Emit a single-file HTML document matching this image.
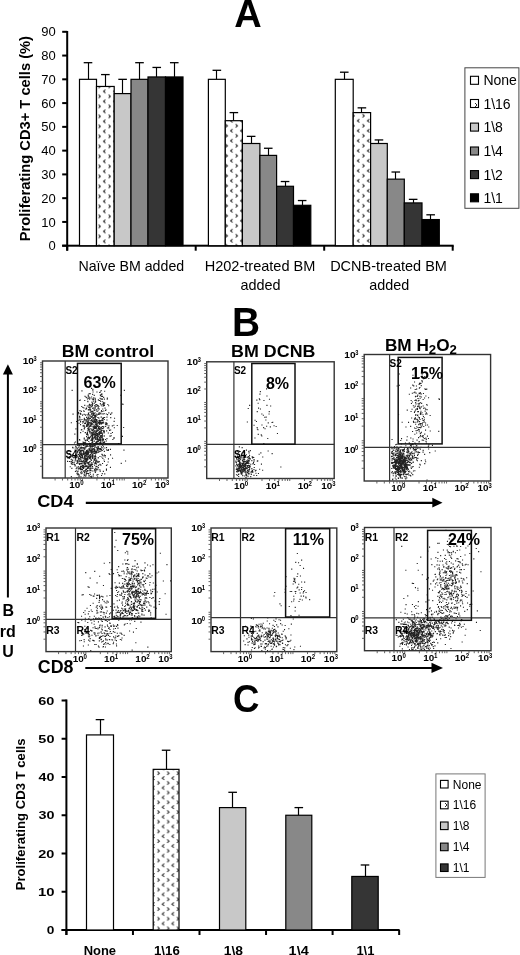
<!DOCTYPE html>
<html><head><meta charset="utf-8"><title>Figure</title>
<style>
html,body{margin:0;padding:0;background:#fff;}
body{width:520px;height:955px;overflow:hidden;}
svg{display:block;filter:grayscale(1);}
text{font-family:"Liberation Sans",sans-serif;fill:#000;}
</style></head><body>
<svg width="520" height="955" viewBox="0 0 520 955">
<defs><pattern id="patA0" patternUnits="userSpaceOnUse" width="10" height="10" x="97" y="0.4"><rect width="10" height="10" fill="#fff"/><path d="M1.6 4.3 L3.4 6 L1.6 7.7 M8.50 -0.70 L6.50 1.00 L8.50 2.70 M8.50 9.30 L6.50 11.00 L8.50 12.70" stroke="#2a2a2a" stroke-width="1.05" fill="none"/></pattern><pattern id="patA1" patternUnits="userSpaceOnUse" width="10" height="10" x="224.1" y="-0.2"><rect width="10" height="10" fill="#fff"/><path d="M1.6 4.3 L3.4 6 L1.6 7.7 M8.50 -0.70 L6.50 1.00 L8.50 2.70 M8.50 9.30 L6.50 11.00 L8.50 12.70" stroke="#2a2a2a" stroke-width="1.05" fill="none"/></pattern><pattern id="patA2" patternUnits="userSpaceOnUse" width="10" height="10" x="360.9" y="-0.2"><rect width="10" height="10" fill="#fff"/><path d="M1.6 4.3 L3.4 6 L1.6 7.7 M8.50 -0.70 L6.50 1.00 L8.50 2.70 M8.50 9.30 L6.50 11.00 L8.50 12.70" stroke="#2a2a2a" stroke-width="1.05" fill="none"/></pattern><pattern id="patC" patternUnits="userSpaceOnUse" width="9.7" height="9.7" x="155.9" y="796.4"><rect width="9.7" height="9.7" fill="#fff"/><path d="M1.6 4.3 L3.4 6 L1.6 7.7 M8.35 -0.55 L6.35 1.15 L8.35 2.85 M8.35 9.15 L6.35 10.85 L8.35 12.55" stroke="#2a2a2a" stroke-width="1.05" fill="none"/></pattern><pattern id="pat2" patternUnits="userSpaceOnUse" width="10" height="10"><rect width="10" height="10" fill="#fff"/><path d="M5 3 L7 5 L5 7" stroke="#333" stroke-width="1" fill="none"/></pattern></defs>
<text x="248" y="27" font-size="38" font-weight="bold" text-anchor="middle">A</text>
<g transform="translate(29.8,0) rotate(-90)"><text x="-241.25" y="0.00" font-size="14.5" font-weight="bold" textLength="205.23" lengthAdjust="spacingAndGlyphs">Proliferating CD3+ T cells (%)</text></g>
<rect x="66.2" y="31" width="2" height="219.6" fill="#000"/>
<rect x="62.2" y="244.7" width="5" height="2" fill="#000"/>
<text x="55.8" y="250.3" font-size="13" text-anchor="end">0</text>
<rect x="62.2" y="220.93" width="5" height="2" fill="#000"/>
<text x="55.8" y="226.53" font-size="13" text-anchor="end">10</text>
<rect x="62.2" y="197.17" width="5" height="2" fill="#000"/>
<text x="55.8" y="202.77" font-size="13" text-anchor="end">20</text>
<rect x="62.2" y="173.4" width="5" height="2" fill="#000"/>
<text x="55.8" y="179" font-size="13" text-anchor="end">30</text>
<rect x="62.2" y="149.63" width="5" height="2" fill="#000"/>
<text x="55.8" y="155.23" font-size="13" text-anchor="end">40</text>
<rect x="62.2" y="125.86" width="5" height="2" fill="#000"/>
<text x="55.8" y="131.46" font-size="13" text-anchor="end">50</text>
<rect x="62.2" y="102.1" width="5" height="2" fill="#000"/>
<text x="55.8" y="107.7" font-size="13" text-anchor="end">60</text>
<rect x="62.2" y="78.33" width="5" height="2" fill="#000"/>
<text x="55.8" y="83.93" font-size="13" text-anchor="end">70</text>
<rect x="62.2" y="54.56" width="5" height="2" fill="#000"/>
<text x="55.8" y="60.16" font-size="13" text-anchor="end">80</text>
<rect x="62.2" y="30.8" width="5" height="2" fill="#000"/>
<text x="55.8" y="36.4" font-size="13" text-anchor="end">90</text>
<rect x="62.2" y="244.7" width="391.5" height="2" fill="#000"/>
<rect x="66.2" y="245.7" width="2" height="5" fill="#000"/>
<rect x="194.7" y="245.7" width="2" height="5" fill="#000"/>
<rect x="323.2" y="245.7" width="2" height="5" fill="#000"/>
<rect x="451.7" y="245.7" width="2" height="5" fill="#000"/>
<line x1="88.5" y1="79.33" x2="88.5" y2="62.69" stroke="#000" stroke-width="1.15"/>
<line x1="83.7" y1="62.69" x2="92.3" y2="62.69" stroke="#000" stroke-width="1.3"/>
<rect x="79.5" y="79.33" width="17" height="166.37" fill="#fff" stroke="#000" stroke-width="1.2"/>
<line x1="105.5" y1="86.46" x2="105.5" y2="74.58" stroke="#000" stroke-width="1.15"/>
<line x1="101.05" y1="74.58" x2="109.65" y2="74.58" stroke="#000" stroke-width="1.3"/>
<rect x="96.5" y="86.46" width="17.7" height="159.24" fill="url(#patA0)" stroke="#000" stroke-width="1.2"/>
<line x1="122.5" y1="93.59" x2="122.5" y2="79.33" stroke="#000" stroke-width="1.15"/>
<line x1="118.3" y1="79.33" x2="126.9" y2="79.33" stroke="#000" stroke-width="1.3"/>
<rect x="114.2" y="93.59" width="16.8" height="152.11" fill="#c8c8c8" stroke="#000" stroke-width="1.2"/>
<line x1="139.5" y1="79.33" x2="139.5" y2="62.69" stroke="#000" stroke-width="1.15"/>
<line x1="135.2" y1="62.69" x2="143.8" y2="62.69" stroke="#000" stroke-width="1.3"/>
<rect x="131" y="79.33" width="17" height="166.37" fill="#888888" stroke="#000" stroke-width="1.2"/>
<line x1="156.5" y1="76.95" x2="156.5" y2="67.45" stroke="#000" stroke-width="1.15"/>
<line x1="152.45" y1="67.45" x2="161.05" y2="67.45" stroke="#000" stroke-width="1.3"/>
<rect x="148" y="76.95" width="17.5" height="168.75" fill="#353535" stroke="#000" stroke-width="1.2"/>
<line x1="174.5" y1="76.95" x2="174.5" y2="62.69" stroke="#000" stroke-width="1.15"/>
<line x1="169.95" y1="62.69" x2="178.55" y2="62.69" stroke="#000" stroke-width="1.3"/>
<rect x="165.5" y="76.95" width="17.5" height="168.75" fill="#000" stroke="#000" stroke-width="1.2"/>
<line x1="216.5" y1="79.33" x2="216.5" y2="70.3" stroke="#000" stroke-width="1.15"/>
<line x1="212.55" y1="70.3" x2="221.15" y2="70.3" stroke="#000" stroke-width="1.3"/>
<rect x="208.4" y="79.33" width="16.9" height="166.37" fill="#fff" stroke="#000" stroke-width="1.2"/>
<line x1="233.5" y1="120.69" x2="233.5" y2="112.6" stroke="#000" stroke-width="1.15"/>
<line x1="229.55" y1="112.6" x2="238.15" y2="112.6" stroke="#000" stroke-width="1.3"/>
<rect x="225.3" y="120.69" width="17.1" height="125.01" fill="url(#patA1)" stroke="#000" stroke-width="1.2"/>
<line x1="251.5" y1="143.5" x2="251.5" y2="136.37" stroke="#000" stroke-width="1.15"/>
<line x1="246.85" y1="136.37" x2="255.45" y2="136.37" stroke="#000" stroke-width="1.3"/>
<rect x="242.4" y="143.5" width="17.5" height="102.2" fill="#c8c8c8" stroke="#000" stroke-width="1.2"/>
<line x1="268.5" y1="155.39" x2="268.5" y2="148.26" stroke="#000" stroke-width="1.15"/>
<line x1="263.95" y1="148.26" x2="272.55" y2="148.26" stroke="#000" stroke-width="1.3"/>
<rect x="259.9" y="155.39" width="16.7" height="90.31" fill="#888888" stroke="#000" stroke-width="1.2"/>
<line x1="285.5" y1="186.28" x2="285.5" y2="181.53" stroke="#000" stroke-width="1.15"/>
<line x1="280.75" y1="181.53" x2="289.35" y2="181.53" stroke="#000" stroke-width="1.3"/>
<rect x="276.6" y="186.28" width="16.9" height="59.42" fill="#353535" stroke="#000" stroke-width="1.2"/>
<line x1="302.5" y1="205.3" x2="302.5" y2="200.54" stroke="#000" stroke-width="1.15"/>
<line x1="297.85" y1="200.54" x2="306.45" y2="200.54" stroke="#000" stroke-width="1.3"/>
<rect x="293.5" y="205.3" width="17.3" height="40.4" fill="#000" stroke="#000" stroke-width="1.2"/>
<line x1="344.5" y1="79.33" x2="344.5" y2="72.2" stroke="#000" stroke-width="1.15"/>
<line x1="339.95" y1="72.2" x2="348.55" y2="72.2" stroke="#000" stroke-width="1.3"/>
<rect x="335.3" y="79.33" width="17.9" height="166.37" fill="#fff" stroke="#000" stroke-width="1.2"/>
<line x1="361.5" y1="112.6" x2="361.5" y2="107.85" stroke="#000" stroke-width="1.15"/>
<line x1="357.6" y1="107.85" x2="366.2" y2="107.85" stroke="#000" stroke-width="1.3"/>
<rect x="353.2" y="112.6" width="17.4" height="133.1" fill="url(#patA2)" stroke="#000" stroke-width="1.2"/>
<line x1="378.5" y1="143.5" x2="378.5" y2="139.94" stroke="#000" stroke-width="1.15"/>
<line x1="374.65" y1="139.94" x2="383.25" y2="139.94" stroke="#000" stroke-width="1.3"/>
<rect x="370.6" y="143.5" width="16.7" height="102.2" fill="#c8c8c8" stroke="#000" stroke-width="1.2"/>
<line x1="395.5" y1="179.15" x2="395.5" y2="172.02" stroke="#000" stroke-width="1.15"/>
<line x1="391.5" y1="172.02" x2="400.1" y2="172.02" stroke="#000" stroke-width="1.3"/>
<rect x="387.3" y="179.15" width="17" height="66.55" fill="#888888" stroke="#000" stroke-width="1.2"/>
<line x1="413.5" y1="202.92" x2="413.5" y2="199.35" stroke="#000" stroke-width="1.15"/>
<line x1="408.85" y1="199.35" x2="417.45" y2="199.35" stroke="#000" stroke-width="1.3"/>
<rect x="404.3" y="202.92" width="17.7" height="42.78" fill="#353535" stroke="#000" stroke-width="1.2"/>
<line x1="430.5" y1="219.56" x2="430.5" y2="214.8" stroke="#000" stroke-width="1.15"/>
<line x1="426.35" y1="214.8" x2="434.95" y2="214.8" stroke="#000" stroke-width="1.3"/>
<rect x="422" y="219.56" width="17.3" height="26.14" fill="#000" stroke="#000" stroke-width="1.2"/>
<rect x="464.9" y="67.8" width="54" height="140.5" fill="#fff" stroke="#444" stroke-width="1"/>
<rect x="470.5" y="76.3" width="8" height="8" fill="#fff" stroke="#000" stroke-width="1.1"/>
<text x="483.4" y="85.3" font-size="14">None</text>
<rect x="470.5" y="99.5" width="8" height="8" fill="url(#pat2)" stroke="#000" stroke-width="1.1"/>
<text x="483.4" y="108.5" font-size="14">1\16</text>
<rect x="470.5" y="123.1" width="8" height="8" fill="#c8c8c8" stroke="#000" stroke-width="1.1"/>
<text x="483.4" y="132.1" font-size="14">1\8</text>
<rect x="470.5" y="147" width="8" height="8" fill="#888888" stroke="#000" stroke-width="1.1"/>
<text x="483.4" y="156" font-size="14">1\4</text>
<rect x="470.5" y="170.6" width="8" height="8" fill="#353535" stroke="#000" stroke-width="1.1"/>
<text x="483.4" y="179.6" font-size="14">1\2</text>
<rect x="470.5" y="193.8" width="8" height="8" fill="#000" stroke="#000" stroke-width="1.1"/>
<text x="483.4" y="202.8" font-size="14">1\1</text>
<text x="78.46" y="271.00" font-size="14.4" textLength="105.74" lengthAdjust="spacingAndGlyphs">Naïve BM added</text>
<text x="204.64" y="271.20" font-size="14.6" textLength="110.80" lengthAdjust="spacingAndGlyphs">H202-treated BM</text>
<text x="240.42" y="289.70" font-size="14.6" textLength="40.13" lengthAdjust="spacingAndGlyphs">added</text>
<text x="330.14" y="271.20" font-size="14.6" textLength="116.76" lengthAdjust="spacingAndGlyphs">DCNB-treated BM</text>
<text x="369.22" y="289.70" font-size="14.6" textLength="40.02" lengthAdjust="spacingAndGlyphs">added</text>
<text x="232.07" y="335.90" font-size="40" font-weight="bold" textLength="28.06" lengthAdjust="spacingAndGlyphs">B</text>
<path d="M97.2 423h1.1v1.1h-1.1z M88.3 419.2h1.1v1.1h-1.1z M87.6 416.6h1.1v1.1h-1.1z M105.1 423.8h1.1v1.1h-1.1z M90.3 416.1h1.1v1.1h-1.1z M97.7 429.9h1.1v1.1h-1.1z M88 424.5h1.1v1.1h-1.1z M100.2 422.6h1.1v1.1h-1.1z M91.6 404.2h1.1v1.1h-1.1z M85.3 396.4h1.1v1.1h-1.1z M93.2 397.2h1.1v1.1h-1.1z M97 405.3h1.1v1.1h-1.1z M93.6 425.2h1.1v1.1h-1.1z M91 387.8h1.1v1.1h-1.1z M95.8 422.3h1.1v1.1h-1.1z M91.4 401.6h1.1v1.1h-1.1z M88.9 409.3h1.1v1.1h-1.1z M88.9 437.9h1.1v1.1h-1.1z M101.6 422.5h1.1v1.1h-1.1z M94.2 414.8h1.1v1.1h-1.1z M95.5 424.5h1.1v1.1h-1.1z M95.6 405.8h1.1v1.1h-1.1z M83.4 442h1.1v1.1h-1.1z M95.9 435h1.1v1.1h-1.1z M110 414h1.1v1.1h-1.1z M86 433.7h1.1v1.1h-1.1z M99.3 424h1.1v1.1h-1.1z M100.1 420.4h1.1v1.1h-1.1z M100 422.1h1.1v1.1h-1.1z M89.9 443.1h1.1v1.1h-1.1z M91.5 425.8h1.1v1.1h-1.1z M86.1 424.8h1.1v1.1h-1.1z M93.5 414.9h1.1v1.1h-1.1z M103.6 435.6h1.1v1.1h-1.1z M89 404.5h1.1v1.1h-1.1z M80.1 432.1h1.1v1.1h-1.1z M94.3 416.5h1.1v1.1h-1.1z M100.2 440.6h1.1v1.1h-1.1z M92.2 418.4h1.1v1.1h-1.1z M106.4 419.5h1.1v1.1h-1.1z M92.7 417h1.1v1.1h-1.1z M94.1 427.9h1.1v1.1h-1.1z M86.6 420.2h1.1v1.1h-1.1z M91.7 422.8h1.1v1.1h-1.1z M99.9 439.3h1.1v1.1h-1.1z M100 422.7h1.1v1.1h-1.1z M102.9 418.2h1.1v1.1h-1.1z M99.4 422.9h1.1v1.1h-1.1z M97.6 404.9h1.1v1.1h-1.1z M79.7 399.4h1.1v1.1h-1.1z M88.3 418.7h1.1v1.1h-1.1z M111.8 425.3h1.1v1.1h-1.1z M90.3 411.4h1.1v1.1h-1.1z M98.7 425.9h1.1v1.1h-1.1z M93.5 420.5h1.1v1.1h-1.1z M98.9 432.8h1.1v1.1h-1.1z M94.4 408.5h1.1v1.1h-1.1z M87.1 423.5h1.1v1.1h-1.1z M88.6 426.6h1.1v1.1h-1.1z M96.4 436.6h1.1v1.1h-1.1z M90.6 424.3h1.1v1.1h-1.1z M80 421.3h1.1v1.1h-1.1z M97.7 407.2h1.1v1.1h-1.1z M101.3 393.2h1.1v1.1h-1.1z M100.7 398.6h1.1v1.1h-1.1z M100.8 411.2h1.1v1.1h-1.1z M83.5 424.8h1.1v1.1h-1.1z M105.8 440.5h1.1v1.1h-1.1z M92.9 422.1h1.1v1.1h-1.1z M87.7 420.8h1.1v1.1h-1.1z M90.9 438.4h1.1v1.1h-1.1z M89.1 422.3h1.1v1.1h-1.1z M85.4 414.2h1.1v1.1h-1.1z M93.8 440.6h1.1v1.1h-1.1z M95.1 436.5h1.1v1.1h-1.1z M92.5 413.3h1.1v1.1h-1.1z M95.1 415.2h1.1v1.1h-1.1z M92.8 417.7h1.1v1.1h-1.1z M88.9 403.7h1.1v1.1h-1.1z M90 446.2h1.1v1.1h-1.1z M97.5 408.2h1.1v1.1h-1.1z M84.1 442.7h1.1v1.1h-1.1z M90.3 420.1h1.1v1.1h-1.1z M100.5 398.3h1.1v1.1h-1.1z M95.5 422.7h1.1v1.1h-1.1z M98.4 412.5h1.1v1.1h-1.1z M93.9 415.4h1.1v1.1h-1.1z M85.9 407.5h1.1v1.1h-1.1z M91.2 441.7h1.1v1.1h-1.1z M94.7 427.1h1.1v1.1h-1.1z M91.2 416.8h1.1v1.1h-1.1z M92.7 431.8h1.1v1.1h-1.1z M95.2 420.9h1.1v1.1h-1.1z M100.1 439.5h1.1v1.1h-1.1z M90.8 428.4h1.1v1.1h-1.1z M102.1 403.7h1.1v1.1h-1.1z M93.9 436.5h1.1v1.1h-1.1z M100.9 430.6h1.1v1.1h-1.1z M101.9 434.6h1.1v1.1h-1.1z M106.4 416.6h1.1v1.1h-1.1z M101.5 405.5h1.1v1.1h-1.1z M101.6 429.9h1.1v1.1h-1.1z M106.1 449.3h1.1v1.1h-1.1z M82.3 407h1.1v1.1h-1.1z M87.4 434.4h1.1v1.1h-1.1z M101.3 422.8h1.1v1.1h-1.1z M79.2 400h1.1v1.1h-1.1z M95.3 426.6h1.1v1.1h-1.1z M95.3 419.6h1.1v1.1h-1.1z M83.6 411h1.1v1.1h-1.1z M87.7 420.7h1.1v1.1h-1.1z M98.8 400h1.1v1.1h-1.1z M98 422.1h1.1v1.1h-1.1z M90.1 409.1h1.1v1.1h-1.1z M88.4 409h1.1v1.1h-1.1z M89.1 425.7h1.1v1.1h-1.1z M97.5 428h1.1v1.1h-1.1z M84.6 451.4h1.1v1.1h-1.1z M94.3 435.4h1.1v1.1h-1.1z M84.1 422.8h1.1v1.1h-1.1z M100.6 416.6h1.1v1.1h-1.1z M95.6 421.8h1.1v1.1h-1.1z M103.7 418.9h1.1v1.1h-1.1z M78.5 422.7h1.1v1.1h-1.1z M80.2 413.3h1.1v1.1h-1.1z M91 377.5h1.1v1.1h-1.1z M95.4 441.7h1.1v1.1h-1.1z M87.9 406.6h1.1v1.1h-1.1z M96.2 438.8h1.1v1.1h-1.1z M94.6 423.7h1.1v1.1h-1.1z M101 423.5h1.1v1.1h-1.1z M96.6 430.7h1.1v1.1h-1.1z M98.8 408.4h1.1v1.1h-1.1z M103.2 413.4h1.1v1.1h-1.1z M94 405.2h1.1v1.1h-1.1z M85.1 422.9h1.1v1.1h-1.1z M106 447.1h1.1v1.1h-1.1z M100.8 416.5h1.1v1.1h-1.1z M75.4 428.3h1.1v1.1h-1.1z M94.5 426.5h1.1v1.1h-1.1z M86.9 424.2h1.1v1.1h-1.1z M93.7 419.2h1.1v1.1h-1.1z M97.5 439.6h1.1v1.1h-1.1z M106.5 422.9h1.1v1.1h-1.1z M92.1 415.2h1.1v1.1h-1.1z M106.8 397.6h1.1v1.1h-1.1z M101.9 436.5h1.1v1.1h-1.1z M95.8 432.4h1.1v1.1h-1.1z M93.1 426h1.1v1.1h-1.1z M95.4 420.1h1.1v1.1h-1.1z M99.2 444.2h1.1v1.1h-1.1z M90.7 422.2h1.1v1.1h-1.1z M107 414.1h1.1v1.1h-1.1z M95.5 430.1h1.1v1.1h-1.1z M86.7 418.2h1.1v1.1h-1.1z M101.6 422.1h1.1v1.1h-1.1z M93.3 417.5h1.1v1.1h-1.1z M95.8 419.9h1.1v1.1h-1.1z M93.2 400.7h1.1v1.1h-1.1z M101.6 411h1.1v1.1h-1.1z M99.3 412.2h1.1v1.1h-1.1z M92.6 444.3h1.1v1.1h-1.1z M96.4 414.6h1.1v1.1h-1.1z M87.5 423h1.1v1.1h-1.1z M110.1 429.5h1.1v1.1h-1.1z M93.5 419.4h1.1v1.1h-1.1z M97.4 408.4h1.1v1.1h-1.1z M86.7 405.5h1.1v1.1h-1.1z M88.2 440.9h1.1v1.1h-1.1z M106.4 438.1h1.1v1.1h-1.1z M99.2 426.6h1.1v1.1h-1.1z M93.5 450.3h1.1v1.1h-1.1z M84.9 414.7h1.1v1.1h-1.1z M106.1 423.6h1.1v1.1h-1.1z M87.9 436.4h1.1v1.1h-1.1z M91.2 411h1.1v1.1h-1.1z M93.5 427.1h1.1v1.1h-1.1z M97.2 426h1.1v1.1h-1.1z M94.7 418.8h1.1v1.1h-1.1z M94.4 425.9h1.1v1.1h-1.1z M109 430h1.1v1.1h-1.1z M95.4 431.3h1.1v1.1h-1.1z M97.9 399.4h1.1v1.1h-1.1z M84.4 395.7h1.1v1.1h-1.1z M100.3 435h1.1v1.1h-1.1z M82.2 420.9h1.1v1.1h-1.1z M89.9 417.8h1.1v1.1h-1.1z M111.9 431.9h1.1v1.1h-1.1z M89.2 426h1.1v1.1h-1.1z M94.6 406.6h1.1v1.1h-1.1z M86.4 420.5h1.1v1.1h-1.1z M86.4 424.6h1.1v1.1h-1.1z M103 438.6h1.1v1.1h-1.1z M91.4 438.2h1.1v1.1h-1.1z M94 430.2h1.1v1.1h-1.1z M92.5 417.6h1.1v1.1h-1.1z M84.2 404.8h1.1v1.1h-1.1z M93.6 434.1h1.1v1.1h-1.1z M102.5 426h1.1v1.1h-1.1z M89.1 398.7h1.1v1.1h-1.1z M97.9 425.5h1.1v1.1h-1.1z M102.7 417.7h1.1v1.1h-1.1z M85.9 425.9h1.1v1.1h-1.1z M101 410h1.1v1.1h-1.1z M80.8 429.5h1.1v1.1h-1.1z M99.5 441.9h1.1v1.1h-1.1z M92.1 441.8h1.1v1.1h-1.1z M86.6 418.9h1.1v1.1h-1.1z M93.7 458.5h1.1v1.1h-1.1z M90.1 445.2h1.1v1.1h-1.1z M82.5 425.3h1.1v1.1h-1.1z M102.4 417.6h1.1v1.1h-1.1z M103 405.5h1.1v1.1h-1.1z M87.2 427.7h1.1v1.1h-1.1z M91.6 416h1.1v1.1h-1.1z M91 422.3h1.1v1.1h-1.1z M92.7 411.4h1.1v1.1h-1.1z M85.3 408.6h1.1v1.1h-1.1z M101.6 422.3h1.1v1.1h-1.1z M95 401.6h1.1v1.1h-1.1z M87.7 413.9h1.1v1.1h-1.1z M91.1 434.9h1.1v1.1h-1.1z M89.2 444h1.1v1.1h-1.1z M93.3 428.4h1.1v1.1h-1.1z M99.4 412.4h1.1v1.1h-1.1z M99.5 420.8h1.1v1.1h-1.1z M86.9 422.3h1.1v1.1h-1.1z M95.4 421.6h1.1v1.1h-1.1z M88.2 436.4h1.1v1.1h-1.1z M82.1 422.4h1.1v1.1h-1.1z M86.9 432.1h1.1v1.1h-1.1z M94.6 397.7h1.1v1.1h-1.1z M83.6 438.5h1.1v1.1h-1.1z M89.4 407.8h1.1v1.1h-1.1z M97.8 407.2h1.1v1.1h-1.1z M89.6 411.7h1.1v1.1h-1.1z M89.3 431.2h1.1v1.1h-1.1z M87.7 429.1h1.1v1.1h-1.1z M81.2 406h1.1v1.1h-1.1z M92.6 449.1h1.1v1.1h-1.1z M94.8 426.4h1.1v1.1h-1.1z M95.4 425.2h1.1v1.1h-1.1z M87.2 449.7h1.1v1.1h-1.1z M87.4 401.2h1.1v1.1h-1.1z M100.6 404.3h1.1v1.1h-1.1z M87.8 434.5h1.1v1.1h-1.1z M92.3 403.5h1.1v1.1h-1.1z M73.9 442.5h1.1v1.1h-1.1z M86.9 430.4h1.1v1.1h-1.1z M86.9 437.6h1.1v1.1h-1.1z M83.7 419h1.1v1.1h-1.1z M105.4 409.3h1.1v1.1h-1.1z M92 434.5h1.1v1.1h-1.1z M80.8 410.8h1.1v1.1h-1.1z M94.8 417.5h1.1v1.1h-1.1z M94.3 421.8h1.1v1.1h-1.1z M94.5 407.3h1.1v1.1h-1.1z M104.7 422.5h1.1v1.1h-1.1z M94 449.1h1.1v1.1h-1.1z M94.5 412.3h1.1v1.1h-1.1z M89.4 414.5h1.1v1.1h-1.1z M87.2 422.2h1.1v1.1h-1.1z M94.2 431.5h1.1v1.1h-1.1z M93.6 426.5h1.1v1.1h-1.1z M87.9 412.8h1.1v1.1h-1.1z M90.9 419.7h1.1v1.1h-1.1z M95 426.3h1.1v1.1h-1.1z M95.5 403.9h1.1v1.1h-1.1z M90.4 404.2h1.1v1.1h-1.1z M79.4 418.9h1.1v1.1h-1.1z M96.1 424.3h1.1v1.1h-1.1z M91.8 420.8h1.1v1.1h-1.1z M87.7 417.8h1.1v1.1h-1.1z M90.9 419.2h1.1v1.1h-1.1z M86 424.3h1.1v1.1h-1.1z M96.1 426.3h1.1v1.1h-1.1z M91.7 421h1.1v1.1h-1.1z M82.5 430.7h1.1v1.1h-1.1z M96.8 429.4h1.1v1.1h-1.1z M97.9 427h1.1v1.1h-1.1z M93.1 413.8h1.1v1.1h-1.1z M98.2 431.9h1.1v1.1h-1.1z M83.6 425.9h1.1v1.1h-1.1z M103.8 430.5h1.1v1.1h-1.1z M96.8 437.1h1.1v1.1h-1.1z M102.1 401.2h1.1v1.1h-1.1z M76 420.9h1.1v1.1h-1.1z M83.8 428.3h1.1v1.1h-1.1z M90.2 404.8h1.1v1.1h-1.1z M92.2 440.8h1.1v1.1h-1.1z M108.1 426.8h1.1v1.1h-1.1z M94.2 445.3h1.1v1.1h-1.1z M85.5 419.6h1.1v1.1h-1.1z M98.2 413.3h1.1v1.1h-1.1z M95.8 428.5h1.1v1.1h-1.1z M89.2 436.9h1.1v1.1h-1.1z M100.5 422.2h1.1v1.1h-1.1z M103 431.2h1.1v1.1h-1.1z M92.7 428.6h1.1v1.1h-1.1z M87.5 428.1h1.1v1.1h-1.1z M99.4 400h1.1v1.1h-1.1z M97.3 422.2h1.1v1.1h-1.1z M92.3 399.2h1.1v1.1h-1.1z M88.5 414.6h1.1v1.1h-1.1z M92.5 391.4h1.1v1.1h-1.1z M97.9 435.6h1.1v1.1h-1.1z M94.9 414.6h1.1v1.1h-1.1z M74.3 433.6h1.1v1.1h-1.1z M99.1 421.3h1.1v1.1h-1.1z M107.8 432.5h1.1v1.1h-1.1z M97.3 438.9h1.1v1.1h-1.1z M100.9 427.2h1.1v1.1h-1.1z M94.7 415.4h1.1v1.1h-1.1z M109.7 435.7h1.1v1.1h-1.1z M94.6 420.8h1.1v1.1h-1.1z M105.1 425.8h1.1v1.1h-1.1z M106 422.6h1.1v1.1h-1.1z M93.6 409.5h1.1v1.1h-1.1z M100.9 420.2h1.1v1.1h-1.1z M83.7 437.6h1.1v1.1h-1.1z M97.5 410.2h1.1v1.1h-1.1z M83.6 413.8h1.1v1.1h-1.1z M98.7 437.5h1.1v1.1h-1.1z M91.4 429.9h1.1v1.1h-1.1z M93.2 437.4h1.1v1.1h-1.1z M88.2 438.4h1.1v1.1h-1.1z M96.5 411h1.1v1.1h-1.1z M100.1 413.2h1.1v1.1h-1.1z M88.1 426.6h1.1v1.1h-1.1z M92.4 424h1.1v1.1h-1.1z M90.3 435.8h1.1v1.1h-1.1z M104.1 416.9h1.1v1.1h-1.1z M110 454.3h1.1v1.1h-1.1z M96.6 423.9h1.1v1.1h-1.1z M94.1 444.5h1.1v1.1h-1.1z M95.9 409.3h1.1v1.1h-1.1z M88.8 429.3h1.1v1.1h-1.1z M84.2 400h1.1v1.1h-1.1z M89.3 432.3h1.1v1.1h-1.1z M96.6 421h1.1v1.1h-1.1z M92.5 431.7h1.1v1.1h-1.1z M88.3 430h1.1v1.1h-1.1z M87.3 417.9h1.1v1.1h-1.1z M94.8 438.8h1.1v1.1h-1.1z M92.4 412.6h1.1v1.1h-1.1z M100.3 419.9h1.1v1.1h-1.1z M87.2 400.7h1.1v1.1h-1.1z M114 417.7h1.1v1.1h-1.1z M94.2 436.4h1.1v1.1h-1.1z M110.4 433h1.1v1.1h-1.1z M92.3 419.7h1.1v1.1h-1.1z M98.7 440h1.1v1.1h-1.1z M91.2 432.4h1.1v1.1h-1.1z M107.8 449.9h1.1v1.1h-1.1z M100.1 430.9h1.1v1.1h-1.1z M99.8 394.6h1.1v1.1h-1.1z M98.3 420.3h1.1v1.1h-1.1z M92.4 432.6h1.1v1.1h-1.1z M97.8 399.3h1.1v1.1h-1.1z M92.5 412.6h1.1v1.1h-1.1z M92.4 414.5h1.1v1.1h-1.1z M104.1 390.7h1.1v1.1h-1.1z M103.3 426.5h1.1v1.1h-1.1z M95.2 450.7h1.1v1.1h-1.1z M88.3 397.8h1.1v1.1h-1.1z M91.2 406.1h1.1v1.1h-1.1z M80 424.1h1.1v1.1h-1.1z M83.7 427.8h1.1v1.1h-1.1z M94.2 427.2h1.1v1.1h-1.1z M94.5 418.6h1.1v1.1h-1.1z M90.4 415.4h1.1v1.1h-1.1z M94.8 399.4h1.1v1.1h-1.1z M109.9 448.8h1.1v1.1h-1.1z M100.3 441.5h1.1v1.1h-1.1z M105.8 413.5h1.1v1.1h-1.1z M94.5 422.2h1.1v1.1h-1.1z M95.7 418.9h1.1v1.1h-1.1z M94.4 416.9h1.1v1.1h-1.1z M92.2 407.8h1.1v1.1h-1.1z M94.5 454.9h1.1v1.1h-1.1z M99 419.7h1.1v1.1h-1.1z M86.6 432.9h1.1v1.1h-1.1z M101.9 420.1h1.1v1.1h-1.1z M95.9 426.8h1.1v1.1h-1.1z M89.9 444.8h1.1v1.1h-1.1z M91.1 424.2h1.1v1.1h-1.1z M80.4 443.9h1.1v1.1h-1.1z M91 413.6h1.1v1.1h-1.1z M99.5 432.3h1.1v1.1h-1.1z M83.2 442.5h1.1v1.1h-1.1z M92.8 433.5h1.1v1.1h-1.1z M99 413.7h1.1v1.1h-1.1z M79.4 410.1h1.1v1.1h-1.1z M83.8 417.8h1.1v1.1h-1.1z M97.8 413.9h1.1v1.1h-1.1z M106.9 427.4h1.1v1.1h-1.1z M83.5 420.2h1.1v1.1h-1.1z M88.1 412.4h1.1v1.1h-1.1z M98.3 406h1.1v1.1h-1.1z M80.2 414h1.1v1.1h-1.1z M94.2 432.8h1.1v1.1h-1.1z M95.8 428h1.1v1.1h-1.1z M95.3 431.8h1.1v1.1h-1.1z M98.2 440.3h1.1v1.1h-1.1z M98.1 428.5h1.1v1.1h-1.1z M93.8 402.6h1.1v1.1h-1.1z M96.6 419.4h1.1v1.1h-1.1z M107.3 404h1.1v1.1h-1.1z M85.9 424.5h1.1v1.1h-1.1z M92.9 399.1h1.1v1.1h-1.1z M89.6 421.7h1.1v1.1h-1.1z M90.2 424.3h1.1v1.1h-1.1z M89.6 430.7h1.1v1.1h-1.1z M102.3 422.5h1.1v1.1h-1.1z M87.4 459h1.1v1.1h-1.1z M88.7 416.5h1.1v1.1h-1.1z M86.4 434h1.1v1.1h-1.1z M94.8 416.2h1.1v1.1h-1.1z M87.8 409.3h1.1v1.1h-1.1z M79.2 416.3h1.1v1.1h-1.1z M91.9 402.8h1.1v1.1h-1.1z M93.6 425.1h1.1v1.1h-1.1z M91.5 398.2h1.1v1.1h-1.1z M99.2 434.2h1.1v1.1h-1.1z M88.3 421.9h1.1v1.1h-1.1z M90.7 431.8h1.1v1.1h-1.1z M89 406.6h1.1v1.1h-1.1z M96.7 443.3h1.1v1.1h-1.1z M91.4 439.2h1.1v1.1h-1.1z M90.5 436.1h1.1v1.1h-1.1z M113.6 420.8h1.1v1.1h-1.1z M91.2 433.7h1.1v1.1h-1.1z M97.4 421.8h1.1v1.1h-1.1z M91.3 439.9h1.1v1.1h-1.1z M92.9 398.6h1.1v1.1h-1.1z M95.8 423.2h1.1v1.1h-1.1z M97.4 441.4h1.1v1.1h-1.1z M86.7 434.4h1.1v1.1h-1.1z M110.7 435.2h1.1v1.1h-1.1z M96.9 433.8h1.1v1.1h-1.1z M108.4 425.2h1.1v1.1h-1.1z M94.2 410h1.1v1.1h-1.1z M100.6 429.4h1.1v1.1h-1.1z M97.3 416.9h1.1v1.1h-1.1z M95.9 419.1h1.1v1.1h-1.1z M86.4 421.2h1.1v1.1h-1.1z M101.6 422.7h1.1v1.1h-1.1z M93.2 409.5h1.1v1.1h-1.1z M87 432.3h1.1v1.1h-1.1z M87 425.6h1.1v1.1h-1.1z M112.3 438.9h1.1v1.1h-1.1z M93.4 451.3h1.1v1.1h-1.1z M95.9 433.4h1.1v1.1h-1.1z M106.6 424.4h1.1v1.1h-1.1z M102.9 404.5h1.1v1.1h-1.1z M105.6 422.3h1.1v1.1h-1.1z M90 425.6h1.1v1.1h-1.1z M100.5 426.9h1.1v1.1h-1.1z M98.7 423.5h1.1v1.1h-1.1z M79 415.7h1.1v1.1h-1.1z M100.2 435.6h1.1v1.1h-1.1z M95.5 425.1h1.1v1.1h-1.1z M91.6 437.5h1.1v1.1h-1.1z M93.6 413.1h1.1v1.1h-1.1z M84.6 439.6h1.1v1.1h-1.1z M90.2 439.7h1.1v1.1h-1.1z M104.5 407.6h1.1v1.1h-1.1z M85.2 421.6h1.1v1.1h-1.1z M102 418h1.1v1.1h-1.1z M91.8 439.7h1.1v1.1h-1.1z M100.4 428.7h1.1v1.1h-1.1z M97.7 414h1.1v1.1h-1.1z M91 422.6h1.1v1.1h-1.1z M95.5 416.1h1.1v1.1h-1.1z M90.8 423.4h1.1v1.1h-1.1z M103.4 417h1.1v1.1h-1.1z M101.6 426h1.1v1.1h-1.1z M99.4 439.8h1.1v1.1h-1.1z M88.8 454.8h1.1v1.1h-1.1z M92.6 434.3h1.1v1.1h-1.1z M107.8 449h1.1v1.1h-1.1z M87.7 395.6h1.1v1.1h-1.1z M100.9 432.3h1.1v1.1h-1.1z M94.5 433.3h1.1v1.1h-1.1z M99.9 429.4h1.1v1.1h-1.1z M102.7 421.9h1.1v1.1h-1.1z M99.8 391.4h1.1v1.1h-1.1z M102.2 408.5h1.1v1.1h-1.1z M88.3 419.8h1.1v1.1h-1.1z M88.2 428.2h1.1v1.1h-1.1z M83.2 410.2h1.1v1.1h-1.1z M98.7 422.6h1.1v1.1h-1.1z M93.9 437.3h1.1v1.1h-1.1z M95.1 437.7h1.1v1.1h-1.1z M99.3 421.7h1.1v1.1h-1.1z M92.4 437.8h1.1v1.1h-1.1z M93.8 419.6h1.1v1.1h-1.1z M88.2 424.2h1.1v1.1h-1.1z M92 437.4h1.1v1.1h-1.1z M88.8 429.5h1.1v1.1h-1.1z M97.9 428h1.1v1.1h-1.1z M110.2 417.1h1.1v1.1h-1.1z M108.3 428.2h1.1v1.1h-1.1z M90 436.4h1.1v1.1h-1.1z M98.3 417.6h1.1v1.1h-1.1z M95.4 423.9h1.1v1.1h-1.1z M81.4 419h1.1v1.1h-1.1z M78.4 419.8h1.1v1.1h-1.1z M89.6 428.2h1.1v1.1h-1.1z M93.4 413h1.1v1.1h-1.1z M84.3 426.8h1.1v1.1h-1.1z M87 398.5h1.1v1.1h-1.1z M87.7 394.4h1.1v1.1h-1.1z M87.1 445.3h1.1v1.1h-1.1z M84.7 432.1h1.1v1.1h-1.1z M92.6 427.2h1.1v1.1h-1.1z M99.3 422.2h1.1v1.1h-1.1z M96.5 447.6h1.1v1.1h-1.1z M87.7 424.7h1.1v1.1h-1.1z M93.2 431.2h1.1v1.1h-1.1z M94.7 434.6h1.1v1.1h-1.1z M80.1 447.4h1.1v1.1h-1.1z M101.6 418.8h1.1v1.1h-1.1z M89.1 418.1h1.1v1.1h-1.1z M84.7 419.3h1.1v1.1h-1.1z M113.3 424.7h1.1v1.1h-1.1z M86.7 439h1.1v1.1h-1.1z M92 410.8h1.1v1.1h-1.1z M88.8 437.1h1.1v1.1h-1.1z M101.6 413.3h1.1v1.1h-1.1z M92.2 435.1h1.1v1.1h-1.1z M83.4 407.4h1.1v1.1h-1.1z M78.3 413.2h1.1v1.1h-1.1z M90.3 433.5h1.1v1.1h-1.1z M109 429.7h1.1v1.1h-1.1z M86.4 439.4h1.1v1.1h-1.1z M103.7 435.2h1.1v1.1h-1.1z M87.9 412.6h1.1v1.1h-1.1z M83 421.5h1.1v1.1h-1.1z M77 443.6h1.1v1.1h-1.1z M93 407.5h1.1v1.1h-1.1z M96.2 419.8h1.1v1.1h-1.1z M93.4 426.8h1.1v1.1h-1.1z M79 438.9h1.1v1.1h-1.1z M89.6 423h1.1v1.1h-1.1z M96.7 424.9h1.1v1.1h-1.1z M90.2 410.2h1.1v1.1h-1.1z M97.6 434.1h1.1v1.1h-1.1z M110.3 413.5h1.1v1.1h-1.1z M84 455.3h1.1v1.1h-1.1z M113.8 427.2h1.1v1.1h-1.1z M96.7 434h1.1v1.1h-1.1z M90.9 420.1h1.1v1.1h-1.1z M90.9 420h1.1v1.1h-1.1z M92 433.4h1.1v1.1h-1.1z M86 416.8h1.1v1.1h-1.1z M88.3 422.3h1.1v1.1h-1.1z M102.8 420.5h1.1v1.1h-1.1z M98.8 428.1h1.1v1.1h-1.1z M95.4 428h1.1v1.1h-1.1z M92.7 421.2h1.1v1.1h-1.1z M86.9 433.6h1.1v1.1h-1.1z M95.3 441.8h1.1v1.1h-1.1z M91.3 412.5h1.1v1.1h-1.1z M96.2 413.5h1.1v1.1h-1.1z M103.6 413h1.1v1.1h-1.1z M78 412.1h1.1v1.1h-1.1z M79.9 412.8h1.1v1.1h-1.1z M102.9 422.4h1.1v1.1h-1.1z M85 432.1h1.1v1.1h-1.1z M108.3 412.3h1.1v1.1h-1.1z M95 427.5h1.1v1.1h-1.1z M113.4 437.8h1.1v1.1h-1.1z M96 441.2h1.1v1.1h-1.1z M99.6 428h1.1v1.1h-1.1z M87.1 414.4h1.1v1.1h-1.1z M87.9 423.7h1.1v1.1h-1.1z M95.7 422.1h1.1v1.1h-1.1z M88.6 455.8h1.1v1.1h-1.1z M93.8 421.3h1.1v1.1h-1.1z M102.2 438.2h1.1v1.1h-1.1z M94.7 433.5h1.1v1.1h-1.1z M94.3 427.8h1.1v1.1h-1.1z M98.2 438.7h1.1v1.1h-1.1z M96.5 430.9h1.1v1.1h-1.1z M100 436.2h1.1v1.1h-1.1z M97 433h1.1v1.1h-1.1z M93.4 426.9h1.1v1.1h-1.1z M89.2 444.1h1.1v1.1h-1.1z M98.9 434.3h1.1v1.1h-1.1z M94.8 434.1h1.1v1.1h-1.1z M98 435.7h1.1v1.1h-1.1z M90.5 435.6h1.1v1.1h-1.1z M94.6 435.3h1.1v1.1h-1.1z M98.9 433.3h1.1v1.1h-1.1z M101.6 439.2h1.1v1.1h-1.1z M101.7 433.5h1.1v1.1h-1.1z M102.5 441.9h1.1v1.1h-1.1z M97.4 442.9h1.1v1.1h-1.1z M101.3 435.1h1.1v1.1h-1.1z M98.8 429.2h1.1v1.1h-1.1z M96.5 433.3h1.1v1.1h-1.1z M94.4 427.3h1.1v1.1h-1.1z M101.6 435.9h1.1v1.1h-1.1z M97.7 441h1.1v1.1h-1.1z M94.7 435.1h1.1v1.1h-1.1z M97 438h1.1v1.1h-1.1z M105 439h1.1v1.1h-1.1z M92 435.8h1.1v1.1h-1.1z M92.2 431.7h1.1v1.1h-1.1z M103.2 430h1.1v1.1h-1.1z M91.9 437.1h1.1v1.1h-1.1z M103 439.3h1.1v1.1h-1.1z M95.3 434.2h1.1v1.1h-1.1z M99.1 434.3h1.1v1.1h-1.1z M102.7 439.2h1.1v1.1h-1.1z M102.7 442.1h1.1v1.1h-1.1z M100.6 442.8h1.1v1.1h-1.1z M97.5 428.3h1.1v1.1h-1.1z M96.5 437.6h1.1v1.1h-1.1z M96.6 440.6h1.1v1.1h-1.1z M103.8 431.4h1.1v1.1h-1.1z M98.9 439.3h1.1v1.1h-1.1z M102.3 440.6h1.1v1.1h-1.1z M88.2 437.7h1.1v1.1h-1.1z M96.2 432.6h1.1v1.1h-1.1z M98.8 431.1h1.1v1.1h-1.1z M96.1 442h1.1v1.1h-1.1z M106.1 430.3h1.1v1.1h-1.1z M93.1 433.7h1.1v1.1h-1.1z M99.7 437.2h1.1v1.1h-1.1z M101.2 432.5h1.1v1.1h-1.1z M94.3 433.6h1.1v1.1h-1.1z M101.1 436.9h1.1v1.1h-1.1z M99.3 432.8h1.1v1.1h-1.1z M109.3 435.5h1.1v1.1h-1.1z M103.5 432.5h1.1v1.1h-1.1z M97.5 435.7h1.1v1.1h-1.1z M101.6 439.6h1.1v1.1h-1.1z M99.3 442.3h1.1v1.1h-1.1z M95.8 433h1.1v1.1h-1.1z M100.3 438.5h1.1v1.1h-1.1z M99.7 443h1.1v1.1h-1.1z M104.1 441.3h1.1v1.1h-1.1z M92.1 436.8h1.1v1.1h-1.1z M92.2 430.1h1.1v1.1h-1.1z M94.6 444h1.1v1.1h-1.1z M100.3 442.2h1.1v1.1h-1.1z M102 444.6h1.1v1.1h-1.1z M97.2 435.5h1.1v1.1h-1.1z M98.7 436.4h1.1v1.1h-1.1z M97.9 433.3h1.1v1.1h-1.1z M91.2 444h1.1v1.1h-1.1z M94.4 437.3h1.1v1.1h-1.1z M101.4 436.9h1.1v1.1h-1.1z M101.1 435.7h1.1v1.1h-1.1z M102.4 428.1h1.1v1.1h-1.1z M100.5 433h1.1v1.1h-1.1z M87.7 436.9h1.1v1.1h-1.1z M98.9 432.2h1.1v1.1h-1.1z M99.1 443.8h1.1v1.1h-1.1z M92.3 437.3h1.1v1.1h-1.1z M105.2 443.2h1.1v1.1h-1.1z M97.1 436.1h1.1v1.1h-1.1z M101.5 427.9h1.1v1.1h-1.1z M100.9 449.5h1.1v1.1h-1.1z M100.2 442.3h1.1v1.1h-1.1z M103.3 431.1h1.1v1.1h-1.1z M97.2 429.8h1.1v1.1h-1.1z M101.5 437.4h1.1v1.1h-1.1z M99.5 438.1h1.1v1.1h-1.1z M92.8 432.2h1.1v1.1h-1.1z M95.2 436.3h1.1v1.1h-1.1z M92.9 429.5h1.1v1.1h-1.1z M90.6 433.5h1.1v1.1h-1.1z M91.5 429.3h1.1v1.1h-1.1z M99.6 436.9h1.1v1.1h-1.1z M92 446h1.1v1.1h-1.1z M101.7 432.6h1.1v1.1h-1.1z M96.7 434.9h1.1v1.1h-1.1z M100.7 394h1.1v1.1h-1.1z M94.6 398.4h1.1v1.1h-1.1z M103.1 396.8h1.1v1.1h-1.1z M89.6 397.5h1.1v1.1h-1.1z M99.8 403.1h1.1v1.1h-1.1z M100.2 400.9h1.1v1.1h-1.1z M95.1 400.8h1.1v1.1h-1.1z M88.5 404.8h1.1v1.1h-1.1z M93.7 394.8h1.1v1.1h-1.1z M101.9 398.6h1.1v1.1h-1.1z M88.5 393.2h1.1v1.1h-1.1z M86.2 397.1h1.1v1.1h-1.1z M95.1 404.4h1.1v1.1h-1.1z M89.6 393.1h1.1v1.1h-1.1z M103.2 401.9h1.1v1.1h-1.1z M103.6 403.3h1.1v1.1h-1.1z M106.7 398.6h1.1v1.1h-1.1z M104.2 402.4h1.1v1.1h-1.1z M99.5 397.7h1.1v1.1h-1.1z M88.5 396.6h1.1v1.1h-1.1z M103.8 398.6h1.1v1.1h-1.1z M101.5 394.5h1.1v1.1h-1.1z M101.9 396h1.1v1.1h-1.1z M100.7 396h1.1v1.1h-1.1z M103.9 404.8h1.1v1.1h-1.1z M91.1 396.4h1.1v1.1h-1.1z M100.1 395h1.1v1.1h-1.1z M96.4 404.2h1.1v1.1h-1.1z M92.1 393.8h1.1v1.1h-1.1z M91.8 404.6h1.1v1.1h-1.1z M87.8 453.2h1.1v1.1h-1.1z M76.8 451.9h1.1v1.1h-1.1z M97.6 448.9h1.1v1.1h-1.1z M91.6 453.6h1.1v1.1h-1.1z M92.4 457h1.1v1.1h-1.1z M88.2 462.6h1.1v1.1h-1.1z M81.4 465.5h1.1v1.1h-1.1z M72.2 456.4h1.1v1.1h-1.1z M74.6 456h1.1v1.1h-1.1z M78.3 458.7h1.1v1.1h-1.1z M89.6 460.9h1.1v1.1h-1.1z M79.5 447.2h1.1v1.1h-1.1z M92 451.5h1.1v1.1h-1.1z M92.8 475.4h1.1v1.1h-1.1z M97.7 456.9h1.1v1.1h-1.1z M98 446.4h1.1v1.1h-1.1z M87.4 450.7h1.1v1.1h-1.1z M86.8 458.1h1.1v1.1h-1.1z M80.5 446.7h1.1v1.1h-1.1z M87.8 464.2h1.1v1.1h-1.1z M86.6 470.8h1.1v1.1h-1.1z M70.7 462.3h1.1v1.1h-1.1z M96.6 448.7h1.1v1.1h-1.1z M90.2 451.5h1.1v1.1h-1.1z M77.6 459.4h1.1v1.1h-1.1z M81.9 456.9h1.1v1.1h-1.1z M92 455.6h1.1v1.1h-1.1z M81.4 465.9h1.1v1.1h-1.1z M88.3 451.8h1.1v1.1h-1.1z M94.2 459.1h1.1v1.1h-1.1z M84.6 459.7h1.1v1.1h-1.1z M78.7 452.3h1.1v1.1h-1.1z M82.8 451h1.1v1.1h-1.1z M91.9 456.2h1.1v1.1h-1.1z M84.4 456.4h1.1v1.1h-1.1z M99.2 449h1.1v1.1h-1.1z M100.3 464.6h1.1v1.1h-1.1z M97.9 467.2h1.1v1.1h-1.1z M91.7 457.8h1.1v1.1h-1.1z M99.6 470.6h1.1v1.1h-1.1z M92.1 463.8h1.1v1.1h-1.1z M80.6 471.5h1.1v1.1h-1.1z M78.9 463.8h1.1v1.1h-1.1z M80.9 453.8h1.1v1.1h-1.1z M87.2 458.7h1.1v1.1h-1.1z M74.4 464.2h1.1v1.1h-1.1z M83.1 466.7h1.1v1.1h-1.1z M90.5 459.2h1.1v1.1h-1.1z M72.2 463.8h1.1v1.1h-1.1z M109.9 466.8h1.1v1.1h-1.1z M94.2 443h1.1v1.1h-1.1z M85.1 463.4h1.1v1.1h-1.1z M76.3 472.7h1.1v1.1h-1.1z M98 461.5h1.1v1.1h-1.1z M82.6 458.2h1.1v1.1h-1.1z M82.3 461.1h1.1v1.1h-1.1z M78.5 474.3h1.1v1.1h-1.1z M75.7 468.1h1.1v1.1h-1.1z M85.1 466.2h1.1v1.1h-1.1z M86 436.1h1.1v1.1h-1.1z M82.3 450.1h1.1v1.1h-1.1z M76.8 474.2h1.1v1.1h-1.1z M97.8 450.2h1.1v1.1h-1.1z M98.7 461.1h1.1v1.1h-1.1z M78.7 463h1.1v1.1h-1.1z M96.1 459.4h1.1v1.1h-1.1z M86 468.7h1.1v1.1h-1.1z M85.1 460.5h1.1v1.1h-1.1z M101.9 454.6h1.1v1.1h-1.1z M76.7 460.1h1.1v1.1h-1.1z M92 455.6h1.1v1.1h-1.1z M84.9 465.9h1.1v1.1h-1.1z M86.2 453.8h1.1v1.1h-1.1z M75.3 444.5h1.1v1.1h-1.1z M82.1 467.4h1.1v1.1h-1.1z M96 463.5h1.1v1.1h-1.1z M86.2 466h1.1v1.1h-1.1z M92 456.7h1.1v1.1h-1.1z M79 463.8h1.1v1.1h-1.1z M84.6 460.7h1.1v1.1h-1.1z M84.6 441.8h1.1v1.1h-1.1z M82.4 457.4h1.1v1.1h-1.1z M83.1 444.8h1.1v1.1h-1.1z M86.8 459.6h1.1v1.1h-1.1z M91.2 449.5h1.1v1.1h-1.1z M84.2 448.8h1.1v1.1h-1.1z M80.3 472.1h1.1v1.1h-1.1z M94.8 455.3h1.1v1.1h-1.1z M83.6 456.4h1.1v1.1h-1.1z M94.6 462h1.1v1.1h-1.1z M79.2 439.6h1.1v1.1h-1.1z M77.1 450.7h1.1v1.1h-1.1z M79.1 452.1h1.1v1.1h-1.1z M78.7 462.8h1.1v1.1h-1.1z M89.3 461.1h1.1v1.1h-1.1z M87.1 453.3h1.1v1.1h-1.1z M88.6 475.1h1.1v1.1h-1.1z M85.5 454.1h1.1v1.1h-1.1z M88.2 451.6h1.1v1.1h-1.1z M79.3 467.9h1.1v1.1h-1.1z M95.1 458.1h1.1v1.1h-1.1z M87.5 455.4h1.1v1.1h-1.1z M79.3 450.6h1.1v1.1h-1.1z M103.4 455.3h1.1v1.1h-1.1z M81.8 456.3h1.1v1.1h-1.1z M84.7 454.9h1.1v1.1h-1.1z M87.5 465.9h1.1v1.1h-1.1z M88.2 473h1.1v1.1h-1.1z M74.5 465.5h1.1v1.1h-1.1z M85.4 458.9h1.1v1.1h-1.1z M68.8 457.8h1.1v1.1h-1.1z M82.9 467.9h1.1v1.1h-1.1z M84 456.1h1.1v1.1h-1.1z M89.3 457.9h1.1v1.1h-1.1z M78.6 448.6h1.1v1.1h-1.1z M87.2 462.6h1.1v1.1h-1.1z M81.4 456.6h1.1v1.1h-1.1z M85.5 452.5h1.1v1.1h-1.1z M77.5 470.6h1.1v1.1h-1.1z M92.8 473.7h1.1v1.1h-1.1z M92.3 455.9h1.1v1.1h-1.1z M72.1 446.8h1.1v1.1h-1.1z M82.7 448.4h1.1v1.1h-1.1z M81.9 457.1h1.1v1.1h-1.1z M68.9 460.9h1.1v1.1h-1.1z M74.6 464.5h1.1v1.1h-1.1z M82.7 454.1h1.1v1.1h-1.1z M75 449.6h1.1v1.1h-1.1z M85.9 450.9h1.1v1.1h-1.1z M90.5 465.3h1.1v1.1h-1.1z M79.7 451h1.1v1.1h-1.1z M89.6 451.7h1.1v1.1h-1.1z M95.9 441.7h1.1v1.1h-1.1z M79.7 455.6h1.1v1.1h-1.1z M94.3 463.1h1.1v1.1h-1.1z M94.4 463.1h1.1v1.1h-1.1z M95.8 461.2h1.1v1.1h-1.1z M85.2 471.2h1.1v1.1h-1.1z M87.3 473h1.1v1.1h-1.1z M78.6 460.8h1.1v1.1h-1.1z M92.2 457.4h1.1v1.1h-1.1z M91.2 448.2h1.1v1.1h-1.1z M88.2 463.1h1.1v1.1h-1.1z M85.2 440.1h1.1v1.1h-1.1z M79.9 465.8h1.1v1.1h-1.1z M67 460.8h1.1v1.1h-1.1z M80.7 466h1.1v1.1h-1.1z M71.3 467.8h1.1v1.1h-1.1z M84.1 466.2h1.1v1.1h-1.1z M78.6 467.3h1.1v1.1h-1.1z M103.9 454.4h1.1v1.1h-1.1z M80.4 452.5h1.1v1.1h-1.1z M77.8 457.5h1.1v1.1h-1.1z M99.8 470.7h1.1v1.1h-1.1z M72.2 453.7h1.1v1.1h-1.1z M94.9 470.5h1.1v1.1h-1.1z M95.3 467.4h1.1v1.1h-1.1z M84.7 452.2h1.1v1.1h-1.1z M74.7 447.5h1.1v1.1h-1.1z M80.6 468.8h1.1v1.1h-1.1z M92.4 454.2h1.1v1.1h-1.1z M89.9 476.2h1.1v1.1h-1.1z M89 449h1.1v1.1h-1.1z M82.1 472.4h1.1v1.1h-1.1z M94.1 453h1.1v1.1h-1.1z M77.2 461.3h1.1v1.1h-1.1z M80 456.6h1.1v1.1h-1.1z M86.9 462.7h1.1v1.1h-1.1z M91.7 470.4h1.1v1.1h-1.1z M89.3 445.9h1.1v1.1h-1.1z M89.6 468.1h1.1v1.1h-1.1z M81.6 469.3h1.1v1.1h-1.1z M93.4 451.4h1.1v1.1h-1.1z M68.7 450.4h1.1v1.1h-1.1z M80.2 469.2h1.1v1.1h-1.1z M74.8 457.2h1.1v1.1h-1.1z M76.7 448.1h1.1v1.1h-1.1z M89 456.8h1.1v1.1h-1.1z M92 439.3h1.1v1.1h-1.1z M77.5 449.4h1.1v1.1h-1.1z M85.4 466.1h1.1v1.1h-1.1z M100.8 446.2h1.1v1.1h-1.1z M88 452.3h1.1v1.1h-1.1z M97.3 461.8h1.1v1.1h-1.1z M94.1 455.9h1.1v1.1h-1.1z M95 453.3h1.1v1.1h-1.1z M83.1 453.1h1.1v1.1h-1.1z M103.9 461h1.1v1.1h-1.1z M79.5 463.3h1.1v1.1h-1.1z M76.5 466.6h1.1v1.1h-1.1z M95.6 470.2h1.1v1.1h-1.1z M81 454.8h1.1v1.1h-1.1z M86.1 461.6h1.1v1.1h-1.1z M90.5 451.2h1.1v1.1h-1.1z M82.5 441.6h1.1v1.1h-1.1z M83.8 456.4h1.1v1.1h-1.1z M76.2 462.8h1.1v1.1h-1.1z M84.6 465.3h1.1v1.1h-1.1z M75.1 454.1h1.1v1.1h-1.1z M88.9 449.4h1.1v1.1h-1.1z M86.5 451.3h1.1v1.1h-1.1z M94.3 469.6h1.1v1.1h-1.1z M83.6 474h1.1v1.1h-1.1z M94.2 450.2h1.1v1.1h-1.1z M95 462.8h1.1v1.1h-1.1z M95.6 460.1h1.1v1.1h-1.1z M91.7 467.6h1.1v1.1h-1.1z M89.2 464.5h1.1v1.1h-1.1z M87.8 462.1h1.1v1.1h-1.1z M81.9 468.9h1.1v1.1h-1.1z M85.2 475.6h1.1v1.1h-1.1z M85.3 468.9h1.1v1.1h-1.1z M102.3 457.8h1.1v1.1h-1.1z M75.8 457.2h1.1v1.1h-1.1z M83.5 453.6h1.1v1.1h-1.1z M78 468.4h1.1v1.1h-1.1z M91.4 463.2h1.1v1.1h-1.1z M80.4 476.2h1.1v1.1h-1.1z M88.4 465.4h1.1v1.1h-1.1z M85.8 450.8h1.1v1.1h-1.1z M67.4 457.6h1.1v1.1h-1.1z M90.3 465.4h1.1v1.1h-1.1z M75.3 456h1.1v1.1h-1.1z M88.1 473.3h1.1v1.1h-1.1z M97.3 469.2h1.1v1.1h-1.1z M92.5 455.3h1.1v1.1h-1.1z M85.5 457.8h1.1v1.1h-1.1z M86 459.2h1.1v1.1h-1.1z M87 470h1.1v1.1h-1.1z M83.8 458.6h1.1v1.1h-1.1z M78.8 463.1h1.1v1.1h-1.1z M85.6 455.5h1.1v1.1h-1.1z M85.1 454.9h1.1v1.1h-1.1z M102 454.5h1.1v1.1h-1.1z M89.6 472h1.1v1.1h-1.1z M103.5 459.5h1.1v1.1h-1.1z M85.3 462.9h1.1v1.1h-1.1z M88.4 462.7h1.1v1.1h-1.1z M85.8 472.7h1.1v1.1h-1.1z M78 466.2h1.1v1.1h-1.1z M83.4 476.4h1.1v1.1h-1.1z M93.4 459.5h1.1v1.1h-1.1z M77.1 471.3h1.1v1.1h-1.1z M74.8 456.9h1.1v1.1h-1.1z M85.2 461.2h1.1v1.1h-1.1z M80.5 456.9h1.1v1.1h-1.1z M80 456.5h1.1v1.1h-1.1z M98.1 464.8h1.1v1.1h-1.1z M85.1 442.6h1.1v1.1h-1.1z M89.9 456.2h1.1v1.1h-1.1z M84.8 451.4h1.1v1.1h-1.1z M91.6 450.6h1.1v1.1h-1.1z M84.7 460.9h1.1v1.1h-1.1z M84 463.3h1.1v1.1h-1.1z M90.8 446h1.1v1.1h-1.1z M84.8 462.6h1.1v1.1h-1.1z M95.7 468.9h1.1v1.1h-1.1z M79.8 450.2h1.1v1.1h-1.1z M97.4 473.9h1.1v1.1h-1.1z M76.6 453.4h1.1v1.1h-1.1z M82 454.3h1.1v1.1h-1.1z M86.2 445.7h1.1v1.1h-1.1z M76.3 448.5h1.1v1.1h-1.1z M80.5 468.2h1.1v1.1h-1.1z M91 459.4h1.1v1.1h-1.1z M83.3 467.3h1.1v1.1h-1.1z M79.4 460.4h1.1v1.1h-1.1z M91.2 475.7h1.1v1.1h-1.1z M86 450.1h1.1v1.1h-1.1z M89.8 466.4h1.1v1.1h-1.1z M97 476.5h1.1v1.1h-1.1z M85.3 455.1h1.1v1.1h-1.1z M88 448.5h1.1v1.1h-1.1z M107.6 461.4h1.1v1.1h-1.1z M69.3 460.9h1.1v1.1h-1.1z M86.9 454h1.1v1.1h-1.1z M79.1 448.7h1.1v1.1h-1.1z M88.7 456.7h1.1v1.1h-1.1z M78.9 458.5h1.1v1.1h-1.1z M81.7 467.1h1.1v1.1h-1.1z M75 455.5h1.1v1.1h-1.1z M91.2 452.9h1.1v1.1h-1.1z M85.4 445.4h1.1v1.1h-1.1z M83 466.5h1.1v1.1h-1.1z M77.1 462.2h1.1v1.1h-1.1z M94.8 471.8h1.1v1.1h-1.1z M72 462.1h1.1v1.1h-1.1z M93.8 450.6h1.1v1.1h-1.1z M88.4 475.4h1.1v1.1h-1.1z M81.1 471.2h1.1v1.1h-1.1z M86 458.3h1.1v1.1h-1.1z M73.8 463.8h1.1v1.1h-1.1z M96.6 468.5h1.1v1.1h-1.1z M75.2 449.7h1.1v1.1h-1.1z M80.8 463.2h1.1v1.1h-1.1z M92.5 438.7h1.1v1.1h-1.1z M82.2 461.4h1.1v1.1h-1.1z M86.8 453.2h1.1v1.1h-1.1z M79.9 450.6h1.1v1.1h-1.1z M81.6 463.5h1.1v1.1h-1.1z M99.4 455.9h1.1v1.1h-1.1z M92.4 467.7h1.1v1.1h-1.1z M89.9 464.8h1.1v1.1h-1.1z M85.8 473.1h1.1v1.1h-1.1z M78.4 476.7h1.1v1.1h-1.1z M75 457.7h1.1v1.1h-1.1z M90.1 456.9h1.1v1.1h-1.1z M80.7 473.1h1.1v1.1h-1.1z M83.1 460h1.1v1.1h-1.1z M76.5 453.4h1.1v1.1h-1.1z M72.1 460.5h1.1v1.1h-1.1z M86.2 461h1.1v1.1h-1.1z M77.9 454.1h1.1v1.1h-1.1z M101 447.5h1.1v1.1h-1.1z M98.5 447.9h1.1v1.1h-1.1z M83.1 465.4h1.1v1.1h-1.1z M94.3 449.6h1.1v1.1h-1.1z M78.5 475.6h1.1v1.1h-1.1z M94.4 457.3h1.1v1.1h-1.1z M102 463h1.1v1.1h-1.1z M90.3 454.9h1.1v1.1h-1.1z M102.8 448.7h1.1v1.1h-1.1z M68.3 453.4h1.1v1.1h-1.1z M84.9 458.9h1.1v1.1h-1.1z M90.7 459.9h1.1v1.1h-1.1z M85.5 474.3h1.1v1.1h-1.1z M90.1 469.4h1.1v1.1h-1.1z M86.6 457.3h1.1v1.1h-1.1z M78.7 460.3h1.1v1.1h-1.1z M74.9 470.9h1.1v1.1h-1.1z M93.6 470.5h1.1v1.1h-1.1z M79.9 459.2h1.1v1.1h-1.1z M89.8 458h1.1v1.1h-1.1z M88.3 466.7h1.1v1.1h-1.1z M81.5 468.9h1.1v1.1h-1.1z M73.5 462.1h1.1v1.1h-1.1z M87.2 466.9h1.1v1.1h-1.1z M95.3 456.3h1.1v1.1h-1.1z M74.4 460.4h1.1v1.1h-1.1z M105.9 469.6h1.1v1.1h-1.1z M86.6 455.3h1.1v1.1h-1.1z M88.8 457.7h1.1v1.1h-1.1z M96.3 465.8h1.1v1.1h-1.1z M98.6 451.1h1.1v1.1h-1.1z M88.2 451.6h1.1v1.1h-1.1z M91.7 470.4h1.1v1.1h-1.1z M80.4 451.6h1.1v1.1h-1.1z M85.6 455.8h1.1v1.1h-1.1z M75.7 470.3h1.1v1.1h-1.1z M90.9 464.2h1.1v1.1h-1.1z M89.7 465h1.1v1.1h-1.1z M89.9 473.7h1.1v1.1h-1.1z M90.5 467.7h1.1v1.1h-1.1z M70.8 476.1h1.1v1.1h-1.1z M83.9 471.5h1.1v1.1h-1.1z M78.2 457.5h1.1v1.1h-1.1z M82.9 443.2h1.1v1.1h-1.1z M90 453.8h1.1v1.1h-1.1z M97.5 446.7h1.1v1.1h-1.1z M84 462.4h1.1v1.1h-1.1z M79.7 453.6h1.1v1.1h-1.1z M81.6 449.8h1.1v1.1h-1.1z M84.6 460.1h1.1v1.1h-1.1z M83.9 447.3h1.1v1.1h-1.1z M87.3 452h1.1v1.1h-1.1z M91 476.8h1.1v1.1h-1.1z M73 457.2h1.1v1.1h-1.1z M72.5 447.3h1.1v1.1h-1.1z M79.9 466.5h1.1v1.1h-1.1z M81 460.6h1.1v1.1h-1.1z M97.2 460.8h1.1v1.1h-1.1z M83.3 453.8h1.1v1.1h-1.1z M93 452.7h1.1v1.1h-1.1z M76.9 450.8h1.1v1.1h-1.1z M74.7 447.5h1.1v1.1h-1.1z M106.6 464.2h1.1v1.1h-1.1z M93.6 451h1.1v1.1h-1.1z M77.2 462.3h1.1v1.1h-1.1z M84.1 457.5h1.1v1.1h-1.1z M101.4 453.8h1.1v1.1h-1.1z M89 442.8h1.1v1.1h-1.1z M81.4 463h1.1v1.1h-1.1z M93 461.3h1.1v1.1h-1.1z M89.3 461.4h1.1v1.1h-1.1z M69.7 466.2h1.1v1.1h-1.1z M104.2 473.3h1.1v1.1h-1.1z M94.1 468.8h1.1v1.1h-1.1z M85.1 447.3h1.1v1.1h-1.1z M81.3 452.7h1.1v1.1h-1.1z M79.6 468.7h1.1v1.1h-1.1z M70.7 458.8h1.1v1.1h-1.1z M86.7 458.6h1.1v1.1h-1.1z M80.2 453.7h1.1v1.1h-1.1z M76.3 477h1.1v1.1h-1.1z M79.5 450.5h1.1v1.1h-1.1z M102.8 470.8h1.1v1.1h-1.1z M80.3 463h1.1v1.1h-1.1z M94.5 456.2h1.1v1.1h-1.1z M97.6 451.8h1.1v1.1h-1.1z M86.6 472.7h1.1v1.1h-1.1z M92 465.8h1.1v1.1h-1.1z M77.6 474h1.1v1.1h-1.1z M83 470.6h1.1v1.1h-1.1z M86.8 453.1h1.1v1.1h-1.1z M78.1 458.1h1.1v1.1h-1.1z M78.5 445.6h1.1v1.1h-1.1z M101.7 473.1h1.1v1.1h-1.1z M95.5 465.9h1.1v1.1h-1.1z M85.4 455.3h1.1v1.1h-1.1z M77.3 462.5h1.1v1.1h-1.1z M86.8 451.1h1.1v1.1h-1.1z M77.5 457.1h1.1v1.1h-1.1z M83.9 463.5h1.1v1.1h-1.1z M86 469.2h1.1v1.1h-1.1z M87 457.3h1.1v1.1h-1.1z M80.7 458.5h1.1v1.1h-1.1z M92 456.4h1.1v1.1h-1.1z M96.3 465.8h1.1v1.1h-1.1z M82.9 444.8h1.1v1.1h-1.1z M87.4 456.3h1.1v1.1h-1.1z M81.9 455.9h1.1v1.1h-1.1z M87.4 467h1.1v1.1h-1.1z M96.7 449.5h1.1v1.1h-1.1z M81.4 469h1.1v1.1h-1.1z M80.1 467.5h1.1v1.1h-1.1z M84.3 470.1h1.1v1.1h-1.1z M83 452.8h1.1v1.1h-1.1z M87.5 453.1h1.1v1.1h-1.1z M86.3 461.6h1.1v1.1h-1.1z M70.8 460.8h1.1v1.1h-1.1z M95 462.2h1.1v1.1h-1.1z M82.9 462.5h1.1v1.1h-1.1z M84.9 458.4h1.1v1.1h-1.1z M81.3 455.1h1.1v1.1h-1.1z M95.5 451.7h1.1v1.1h-1.1z M93.7 459.9h1.1v1.1h-1.1z M86.6 457.7h1.1v1.1h-1.1z M89.7 458.5h1.1v1.1h-1.1z M87.9 467.4h1.1v1.1h-1.1z M79.8 453.9h1.1v1.1h-1.1z M83.8 474.9h1.1v1.1h-1.1z M97.7 457.4h1.1v1.1h-1.1z M90.3 469.8h1.1v1.1h-1.1z M104.8 456.4h1.1v1.1h-1.1z M90.4 463.5h1.1v1.1h-1.1z M74.7 458.5h1.1v1.1h-1.1z M89.3 448h1.1v1.1h-1.1z M84.1 463.5h1.1v1.1h-1.1z M74.5 449.5h1.1v1.1h-1.1z M74.4 457h1.1v1.1h-1.1z M95.2 468.1h1.1v1.1h-1.1z M79 454.7h1.1v1.1h-1.1z M81.2 428.9h1.1v1.1h-1.1z M93.7 458.4h1.1v1.1h-1.1z M90.7 465.5h1.1v1.1h-1.1z M91.3 461.9h1.1v1.1h-1.1z M77.5 473h1.1v1.1h-1.1z M74.9 455.9h1.1v1.1h-1.1z M96.4 474.6h1.1v1.1h-1.1z M76.4 466.8h1.1v1.1h-1.1z M84.1 461.6h1.1v1.1h-1.1z M84.5 460.7h1.1v1.1h-1.1z M82.8 464.7h1.1v1.1h-1.1z M87.9 467.7h1.1v1.1h-1.1z M85.1 457.4h1.1v1.1h-1.1z M92.5 456h1.1v1.1h-1.1z M88.4 457.6h1.1v1.1h-1.1z M74.1 456.5h1.1v1.1h-1.1z M77.5 468.2h1.1v1.1h-1.1z M89.4 466.1h1.1v1.1h-1.1z M78.4 445.1h1.1v1.1h-1.1z M79.4 455.4h1.1v1.1h-1.1z M91.9 449.4h1.1v1.1h-1.1z M89.1 457.8h1.1v1.1h-1.1z M88.4 456.1h1.1v1.1h-1.1z M85.8 453.2h1.1v1.1h-1.1z M86.4 465.2h1.1v1.1h-1.1z M77.3 455.9h1.1v1.1h-1.1z M88.8 461.5h1.1v1.1h-1.1z M79.8 457.7h1.1v1.1h-1.1z M105.9 464.9h1.1v1.1h-1.1z M88.7 457.3h1.1v1.1h-1.1z M80.3 461.1h1.1v1.1h-1.1z M84 472.5h1.1v1.1h-1.1z M84.3 453h1.1v1.1h-1.1z M81.5 461.5h1.1v1.1h-1.1z M75.2 459.5h1.1v1.1h-1.1z M92.2 458h1.1v1.1h-1.1z M95.5 462.4h1.1v1.1h-1.1z M99.3 469.2h1.1v1.1h-1.1z M85.1 469.7h1.1v1.1h-1.1z M87.4 462.3h1.1v1.1h-1.1z M87.6 462.7h1.1v1.1h-1.1z M69.2 453h1.1v1.1h-1.1z M69.8 454h1.1v1.1h-1.1z M86 460.6h1.1v1.1h-1.1z M91.5 444.9h1.1v1.1h-1.1z M86.8 467.8h1.1v1.1h-1.1z M101 475h1.1v1.1h-1.1z M94.3 449.1h1.1v1.1h-1.1z M89.3 464h1.1v1.1h-1.1z M80.2 468.4h1.1v1.1h-1.1z M79.4 454.7h1.1v1.1h-1.1z M85.2 453.2h1.1v1.1h-1.1z M77.6 446.9h1.1v1.1h-1.1z M85.4 465.2h1.1v1.1h-1.1z M70.9 463.4h1.1v1.1h-1.1z M81.6 452.9h1.1v1.1h-1.1z M81.3 460.3h1.1v1.1h-1.1z M85.5 468.4h1.1v1.1h-1.1z M86.1 460.2h1.1v1.1h-1.1z M82.2 466.4h1.1v1.1h-1.1z M89.7 470.1h1.1v1.1h-1.1z M86.3 461.4h1.1v1.1h-1.1z M94.1 464.7h1.1v1.1h-1.1z M89 468.5h1.1v1.1h-1.1z M86.9 467.9h1.1v1.1h-1.1z M85.8 471.3h1.1v1.1h-1.1z M96.7 441.3h1.1v1.1h-1.1z M76.6 461h1.1v1.1h-1.1z M78.9 458.2h1.1v1.1h-1.1z M90.4 445.9h1.1v1.1h-1.1z M101.3 456.4h1.1v1.1h-1.1z M68 450.5h1.1v1.1h-1.1z M83.2 460.6h1.1v1.1h-1.1z M68.9 456.3h1.1v1.1h-1.1z M99.4 463.8h1.1v1.1h-1.1z M95.4 442.8h1.1v1.1h-1.1z M104.8 454.9h1.1v1.1h-1.1z M84.5 463.9h1.1v1.1h-1.1z M90.2 469.9h1.1v1.1h-1.1z M91.7 454.7h1.1v1.1h-1.1z M71.7 455.4h1.1v1.1h-1.1z M88.7 454.5h1.1v1.1h-1.1z M75.2 446h1.1v1.1h-1.1z M81.8 455.5h1.1v1.1h-1.1z M95 460.6h1.1v1.1h-1.1z M89.9 455.7h1.1v1.1h-1.1z M93.2 445.7h1.1v1.1h-1.1z M90.6 446.2h1.1v1.1h-1.1z M96.4 450.4h1.1v1.1h-1.1z M89.1 445h1.1v1.1h-1.1z M89.8 446.7h1.1v1.1h-1.1z M93.9 448.6h1.1v1.1h-1.1z M83.3 451.8h1.1v1.1h-1.1z M94.1 447.2h1.1v1.1h-1.1z M97.1 448.1h1.1v1.1h-1.1z M86.8 449.4h1.1v1.1h-1.1z M83.7 447.7h1.1v1.1h-1.1z M87.9 453.6h1.1v1.1h-1.1z M99.5 448.2h1.1v1.1h-1.1z M100.3 448.9h1.1v1.1h-1.1z M91.7 451.7h1.1v1.1h-1.1z M91 456.2h1.1v1.1h-1.1z M90.7 445.4h1.1v1.1h-1.1z M98.1 447.8h1.1v1.1h-1.1z M86.9 440h1.1v1.1h-1.1z M96 451.5h1.1v1.1h-1.1z M94.6 451.9h1.1v1.1h-1.1z M100.8 448.9h1.1v1.1h-1.1z M95.6 446.8h1.1v1.1h-1.1z M86.5 452.2h1.1v1.1h-1.1z M91.7 445h1.1v1.1h-1.1z M91.5 448.5h1.1v1.1h-1.1z M83.3 450.3h1.1v1.1h-1.1z M86.2 444.3h1.1v1.1h-1.1z M81.2 454.3h1.1v1.1h-1.1z M78.4 449.7h1.1v1.1h-1.1z M93.3 450.9h1.1v1.1h-1.1z M80.4 448h1.1v1.1h-1.1z M90 451.4h1.1v1.1h-1.1z M84.5 445.5h1.1v1.1h-1.1z M96 452.3h1.1v1.1h-1.1z M91.6 447.2h1.1v1.1h-1.1z M91.8 449.3h1.1v1.1h-1.1z M94.9 445.3h1.1v1.1h-1.1z M89.8 448.5h1.1v1.1h-1.1z M81.2 449.6h1.1v1.1h-1.1z M89.2 447.8h1.1v1.1h-1.1z M91.8 444.7h1.1v1.1h-1.1z M88.6 450.3h1.1v1.1h-1.1z M91 452.2h1.1v1.1h-1.1z M80.6 444.5h1.1v1.1h-1.1z M90.7 450.4h1.1v1.1h-1.1z M103.8 450.8h1.1v1.1h-1.1z M82.9 451.4h1.1v1.1h-1.1z M83.1 444.5h1.1v1.1h-1.1z M107.3 450h1.1v1.1h-1.1z M94 450.7h1.1v1.1h-1.1z M101.7 449.9h1.1v1.1h-1.1z M97.5 445.9h1.1v1.1h-1.1z M79.3 453.3h1.1v1.1h-1.1z M99.3 450.5h1.1v1.1h-1.1z M90.6 449.5h1.1v1.1h-1.1z M84.2 453.6h1.1v1.1h-1.1z M93.6 450.5h1.1v1.1h-1.1z M91.6 452.1h1.1v1.1h-1.1z M92.5 451.2h1.1v1.1h-1.1z M80.8 450.5h1.1v1.1h-1.1z M104.3 447.4h1.1v1.1h-1.1z M88.1 451.7h1.1v1.1h-1.1z M95.7 450.9h1.1v1.1h-1.1z M77.7 450.5h1.1v1.1h-1.1z M80.7 446.5h1.1v1.1h-1.1z M92.8 448.1h1.1v1.1h-1.1z M94.7 458.4h1.1v1.1h-1.1z M94.4 451.2h1.1v1.1h-1.1z M82.7 447.1h1.1v1.1h-1.1z M81.6 447.4h1.1v1.1h-1.1z M81.4 447h1.1v1.1h-1.1z M87.5 446h1.1v1.1h-1.1z M79.1 444.9h1.1v1.1h-1.1z M92.2 449.2h1.1v1.1h-1.1z M96.2 452.1h1.1v1.1h-1.1z M86.6 451h1.1v1.1h-1.1z M78.9 455.8h1.1v1.1h-1.1z M97.4 448.4h1.1v1.1h-1.1z M80.9 450.1h1.1v1.1h-1.1z M75.9 446.7h1.1v1.1h-1.1z M94.2 449.2h1.1v1.1h-1.1z M85.6 451.9h1.1v1.1h-1.1z M81.7 449.9h1.1v1.1h-1.1z M85.5 446.5h1.1v1.1h-1.1z M92.2 446h1.1v1.1h-1.1z M102.3 447.2h1.1v1.1h-1.1z M102.9 445.7h1.1v1.1h-1.1z M93.2 445.4h1.1v1.1h-1.1z M79.6 449.5h1.1v1.1h-1.1z M93.7 445.2h1.1v1.1h-1.1z M97.3 446.6h1.1v1.1h-1.1z M89.9 450.1h1.1v1.1h-1.1z M93.2 443.6h1.1v1.1h-1.1z M100.3 450.7h1.1v1.1h-1.1z M86 445.9h1.1v1.1h-1.1z M77.1 444.9h1.1v1.1h-1.1z M92.8 448h1.1v1.1h-1.1z M81.1 447.4h1.1v1.1h-1.1z M99.9 448h1.1v1.1h-1.1z M120.2 394.7h1.1v1.1h-1.1z M123.1 427h1.1v1.1h-1.1z M112 457.7h1.1v1.1h-1.1z M74.9 441.4h1.1v1.1h-1.1z M100.6 390.1h1.1v1.1h-1.1z M122.4 403.9h1.1v1.1h-1.1z M70.8 422.2h1.1v1.1h-1.1z M96.4 391.5h1.1v1.1h-1.1z M89.4 424.5h1.1v1.1h-1.1z M90 406.4h1.1v1.1h-1.1z M81.8 465.1h1.1v1.1h-1.1z M82 414.6h1.1v1.1h-1.1z M80.1 420.4h1.1v1.1h-1.1z M72.1 459.6h1.1v1.1h-1.1z M98.7 437h1.1v1.1h-1.1z M92.3 389.7h1.1v1.1h-1.1z M108.1 405.2h1.1v1.1h-1.1z M103.8 441.8h1.1v1.1h-1.1z M122.2 403.5h1.1v1.1h-1.1z M86 408.1h1.1v1.1h-1.1z M118.1 442.9h1.1v1.1h-1.1z M88.7 431h1.1v1.1h-1.1z M105 410h1.1v1.1h-1.1z M113.5 437h1.1v1.1h-1.1z M89.4 443.9h1.1v1.1h-1.1z M92.3 388.7h1.1v1.1h-1.1z M103.2 410.5h1.1v1.1h-1.1z M72.5 413.6h1.1v1.1h-1.1z M97.4 466.7h1.1v1.1h-1.1z M71.6 389.8h1.1v1.1h-1.1z M79.3 417.3h1.1v1.1h-1.1z M102.8 403.1h1.1v1.1h-1.1z M123.4 449.6h1.1v1.1h-1.1z M125 460.4h1.1v1.1h-1.1z M81.4 390.3h1.1v1.1h-1.1z M74.6 465.3h1.1v1.1h-1.1z M96.6 449.7h1.1v1.1h-1.1z M92 405.2h1.1v1.1h-1.1z M88.4 470.2h1.1v1.1h-1.1z M111.3 412.3h1.1v1.1h-1.1z M107.9 458.3h1.1v1.1h-1.1z M99.1 392h1.1v1.1h-1.1z M102.7 427.4h1.1v1.1h-1.1z M100.3 432h1.1v1.1h-1.1z M105.9 468.4h1.1v1.1h-1.1z M120.7 462.8h1.1v1.1h-1.1z M121.9 435.8h1.1v1.1h-1.1z M123.8 389.8h1.1v1.1h-1.1z M116.7 425h1.1v1.1h-1.1z" fill="#222"/>
<rect x="42.5" y="361" width="125.5" height="117" fill="none" stroke="#333" stroke-width="1.4"/>
<line x1="65.2" y1="361" x2="65.2" y2="478" stroke="#333" stroke-width="1.2"/>
<line x1="42.5" y1="444.6" x2="168" y2="444.6" stroke="#333" stroke-width="1.2"/>
<rect x="77.5" y="363.4" width="43.7" height="80.5" fill="none" stroke="#111" stroke-width="1.5"/>
<text x="83.6" y="388" font-size="16" font-weight="bold">63%</text>
<text x="65.4" y="373.6" font-size="10" font-weight="bold" fill="#111">S2</text>
<text x="65.4" y="458.2" font-size="10" font-weight="bold" fill="#111">S4</text>
<line x1="40" y1="466.26" x2="42.5" y2="466.26" stroke="#555" stroke-width="0.9"/><line x1="40" y1="459.39" x2="42.5" y2="459.39" stroke="#555" stroke-width="0.9"/><line x1="40" y1="454.52" x2="42.5" y2="454.52" stroke="#555" stroke-width="0.9"/><line x1="40" y1="450.74" x2="42.5" y2="450.74" stroke="#555" stroke-width="0.9"/><line x1="40" y1="447.65" x2="42.5" y2="447.65" stroke="#555" stroke-width="0.9"/><line x1="40" y1="445.04" x2="42.5" y2="445.04" stroke="#555" stroke-width="0.9"/><line x1="40" y1="442.78" x2="42.5" y2="442.78" stroke="#555" stroke-width="0.9"/><line x1="40" y1="440.78" x2="42.5" y2="440.78" stroke="#555" stroke-width="0.9"/><line x1="40" y1="427.26" x2="42.5" y2="427.26" stroke="#555" stroke-width="0.9"/><line x1="40" y1="420.39" x2="42.5" y2="420.39" stroke="#555" stroke-width="0.9"/><line x1="40" y1="415.52" x2="42.5" y2="415.52" stroke="#555" stroke-width="0.9"/><line x1="40" y1="411.74" x2="42.5" y2="411.74" stroke="#555" stroke-width="0.9"/><line x1="40" y1="408.65" x2="42.5" y2="408.65" stroke="#555" stroke-width="0.9"/><line x1="40" y1="406.04" x2="42.5" y2="406.04" stroke="#555" stroke-width="0.9"/><line x1="40" y1="403.78" x2="42.5" y2="403.78" stroke="#555" stroke-width="0.9"/><line x1="40" y1="401.78" x2="42.5" y2="401.78" stroke="#555" stroke-width="0.9"/><line x1="40" y1="388.26" x2="42.5" y2="388.26" stroke="#555" stroke-width="0.9"/><line x1="40" y1="381.39" x2="42.5" y2="381.39" stroke="#555" stroke-width="0.9"/><line x1="40" y1="376.52" x2="42.5" y2="376.52" stroke="#555" stroke-width="0.9"/><line x1="40" y1="372.74" x2="42.5" y2="372.74" stroke="#555" stroke-width="0.9"/><line x1="40" y1="369.65" x2="42.5" y2="369.65" stroke="#555" stroke-width="0.9"/><line x1="40" y1="367.04" x2="42.5" y2="367.04" stroke="#555" stroke-width="0.9"/><line x1="40" y1="364.78" x2="42.5" y2="364.78" stroke="#555" stroke-width="0.9"/><line x1="40" y1="362.78" x2="42.5" y2="362.78" stroke="#555" stroke-width="0.9"/>
<line x1="55.09" y1="478" x2="55.09" y2="480.5" stroke="#555" stroke-width="0.9"/><line x1="62.46" y1="478" x2="62.46" y2="480.5" stroke="#555" stroke-width="0.9"/><line x1="67.69" y1="478" x2="67.69" y2="480.5" stroke="#555" stroke-width="0.9"/><line x1="71.74" y1="478" x2="71.74" y2="480.5" stroke="#555" stroke-width="0.9"/><line x1="75.05" y1="478" x2="75.05" y2="480.5" stroke="#555" stroke-width="0.9"/><line x1="77.85" y1="478" x2="77.85" y2="480.5" stroke="#555" stroke-width="0.9"/><line x1="80.28" y1="478" x2="80.28" y2="480.5" stroke="#555" stroke-width="0.9"/><line x1="82.42" y1="478" x2="82.42" y2="480.5" stroke="#555" stroke-width="0.9"/><line x1="96.93" y1="478" x2="96.93" y2="480.5" stroke="#555" stroke-width="0.9"/><line x1="104.29" y1="478" x2="104.29" y2="480.5" stroke="#555" stroke-width="0.9"/><line x1="109.52" y1="478" x2="109.52" y2="480.5" stroke="#555" stroke-width="0.9"/><line x1="113.57" y1="478" x2="113.57" y2="480.5" stroke="#555" stroke-width="0.9"/><line x1="116.89" y1="478" x2="116.89" y2="480.5" stroke="#555" stroke-width="0.9"/><line x1="119.69" y1="478" x2="119.69" y2="480.5" stroke="#555" stroke-width="0.9"/><line x1="122.11" y1="478" x2="122.11" y2="480.5" stroke="#555" stroke-width="0.9"/><line x1="124.25" y1="478" x2="124.25" y2="480.5" stroke="#555" stroke-width="0.9"/><line x1="138.76" y1="478" x2="138.76" y2="480.5" stroke="#555" stroke-width="0.9"/><line x1="146.13" y1="478" x2="146.13" y2="480.5" stroke="#555" stroke-width="0.9"/><line x1="151.35" y1="478" x2="151.35" y2="480.5" stroke="#555" stroke-width="0.9"/><line x1="155.41" y1="478" x2="155.41" y2="480.5" stroke="#555" stroke-width="0.9"/><line x1="158.72" y1="478" x2="158.72" y2="480.5" stroke="#555" stroke-width="0.9"/><line x1="161.52" y1="478" x2="161.52" y2="480.5" stroke="#555" stroke-width="0.9"/><line x1="163.95" y1="478" x2="163.95" y2="480.5" stroke="#555" stroke-width="0.9"/><line x1="166.09" y1="478" x2="166.09" y2="480.5" stroke="#555" stroke-width="0.9"/>
<text x="22.69" y="451.95" font-size="8.2" font-weight="bold" textLength="11.23" lengthAdjust="spacingAndGlyphs">10</text>
<text x="33.36" y="449.05" font-size="6.4" font-weight="bold" textLength="3.28" lengthAdjust="spacingAndGlyphs">0</text>
<text x="22.69" y="422.70" font-size="8.2" font-weight="bold" textLength="11.23" lengthAdjust="spacingAndGlyphs">10</text>
<text x="33.24" y="419.80" font-size="6.4" font-weight="bold" textLength="3.31" lengthAdjust="spacingAndGlyphs">1</text>
<text x="22.69" y="393.45" font-size="8.2" font-weight="bold" textLength="11.23" lengthAdjust="spacingAndGlyphs">10</text>
<text x="33.40" y="390.55" font-size="6.4" font-weight="bold" textLength="3.24" lengthAdjust="spacingAndGlyphs">2</text>
<text x="22.69" y="364.20" font-size="8.2" font-weight="bold" textLength="11.23" lengthAdjust="spacingAndGlyphs">10</text>
<text x="33.46" y="361.30" font-size="6.4" font-weight="bold" textLength="3.15" lengthAdjust="spacingAndGlyphs">3</text>
<text x="69.28" y="488.20" font-size="8.2" font-weight="bold" textLength="11.01" lengthAdjust="spacingAndGlyphs">10</text>
<text x="80.13" y="485.20" font-size="6.4" font-weight="bold" textLength="3.40" lengthAdjust="spacingAndGlyphs">0</text>
<text x="100.66" y="488.20" font-size="8.2" font-weight="bold" textLength="11.01" lengthAdjust="spacingAndGlyphs">10</text>
<text x="111.38" y="485.20" font-size="6.4" font-weight="bold" textLength="3.43" lengthAdjust="spacingAndGlyphs">1</text>
<text x="132.03" y="488.20" font-size="8.2" font-weight="bold" textLength="11.01" lengthAdjust="spacingAndGlyphs">10</text>
<text x="142.91" y="485.20" font-size="6.4" font-weight="bold" textLength="3.36" lengthAdjust="spacingAndGlyphs">2</text>
<text x="155.01" y="488.20" font-size="8.2" font-weight="bold" textLength="11.01" lengthAdjust="spacingAndGlyphs">10</text>
<text x="165.95" y="485.20" font-size="6.4" font-weight="bold" textLength="3.26" lengthAdjust="spacingAndGlyphs">3</text>
<path d="M242 454.6h1.1v1.1h-1.1z M247.7 473.4h1.1v1.1h-1.1z M242.2 471h1.1v1.1h-1.1z M237.1 464.5h1.1v1.1h-1.1z M247.1 470.3h1.1v1.1h-1.1z M239.4 464.4h1.1v1.1h-1.1z M245.6 467.6h1.1v1.1h-1.1z M249 454.8h1.1v1.1h-1.1z M242.9 466.6h1.1v1.1h-1.1z M252.5 471.5h1.1v1.1h-1.1z M244.7 462.9h1.1v1.1h-1.1z M241.6 447.1h1.1v1.1h-1.1z M239.7 450.9h1.1v1.1h-1.1z M242.9 463h1.1v1.1h-1.1z M254 463.9h1.1v1.1h-1.1z M248.1 464.8h1.1v1.1h-1.1z M244.1 459.1h1.1v1.1h-1.1z M239.9 467.3h1.1v1.1h-1.1z M241.3 464.6h1.1v1.1h-1.1z M244.9 465.1h1.1v1.1h-1.1z M236.2 463.8h1.1v1.1h-1.1z M248.8 456.6h1.1v1.1h-1.1z M255.4 469.8h1.1v1.1h-1.1z M243.7 471.5h1.1v1.1h-1.1z M238.1 469.8h1.1v1.1h-1.1z M238.3 473.4h1.1v1.1h-1.1z M246.7 460.4h1.1v1.1h-1.1z M236.4 458.9h1.1v1.1h-1.1z M247.7 471.5h1.1v1.1h-1.1z M236.9 455.4h1.1v1.1h-1.1z M235.8 461.9h1.1v1.1h-1.1z M238.2 467.5h1.1v1.1h-1.1z M241.1 473.2h1.1v1.1h-1.1z M244.9 471.4h1.1v1.1h-1.1z M241.7 472h1.1v1.1h-1.1z M249.2 466h1.1v1.1h-1.1z M256.1 474.9h1.1v1.1h-1.1z M241.6 467.2h1.1v1.1h-1.1z M243.1 467.6h1.1v1.1h-1.1z M252 471.7h1.1v1.1h-1.1z M235.4 461.6h1.1v1.1h-1.1z M248.1 472.9h1.1v1.1h-1.1z M248 460.1h1.1v1.1h-1.1z M239.2 463.3h1.1v1.1h-1.1z M238 474h1.1v1.1h-1.1z M236 463.5h1.1v1.1h-1.1z M244 469.8h1.1v1.1h-1.1z M245.1 465.9h1.1v1.1h-1.1z M253.5 459.1h1.1v1.1h-1.1z M247.1 466.7h1.1v1.1h-1.1z M241.4 466.5h1.1v1.1h-1.1z M251.3 468h1.1v1.1h-1.1z M243.8 453.7h1.1v1.1h-1.1z M249.1 465.6h1.1v1.1h-1.1z M236.5 471.5h1.1v1.1h-1.1z M248.5 452.3h1.1v1.1h-1.1z M241.1 468.3h1.1v1.1h-1.1z M238.4 454h1.1v1.1h-1.1z M240.4 465.4h1.1v1.1h-1.1z M246.3 465.1h1.1v1.1h-1.1z M239.5 461.8h1.1v1.1h-1.1z M251.8 456.2h1.1v1.1h-1.1z M246.3 465.1h1.1v1.1h-1.1z M237.2 471.2h1.1v1.1h-1.1z M240.8 473.6h1.1v1.1h-1.1z M245.7 462.3h1.1v1.1h-1.1z M243.9 469.1h1.1v1.1h-1.1z M245.5 470.7h1.1v1.1h-1.1z M237 474.7h1.1v1.1h-1.1z M241.3 452.7h1.1v1.1h-1.1z M235.8 457h1.1v1.1h-1.1z M238.9 465.8h1.1v1.1h-1.1z M248.4 458.1h1.1v1.1h-1.1z M238.8 446.3h1.1v1.1h-1.1z M246 462.8h1.1v1.1h-1.1z M241.2 466.1h1.1v1.1h-1.1z M244.7 468.1h1.1v1.1h-1.1z M241.7 470.4h1.1v1.1h-1.1z M238.4 467.2h1.1v1.1h-1.1z M239.1 461.2h1.1v1.1h-1.1z M246.3 475.4h1.1v1.1h-1.1z M243.8 453h1.1v1.1h-1.1z M242.5 458.8h1.1v1.1h-1.1z M243.4 464.2h1.1v1.1h-1.1z M239.3 467.7h1.1v1.1h-1.1z M253.6 459.5h1.1v1.1h-1.1z M237.5 470.8h1.1v1.1h-1.1z M249.8 450.1h1.1v1.1h-1.1z M252.5 456.7h1.1v1.1h-1.1z M244.2 468.2h1.1v1.1h-1.1z M247.1 466.2h1.1v1.1h-1.1z M248.3 471.3h1.1v1.1h-1.1z M243.5 465.4h1.1v1.1h-1.1z M251 471.3h1.1v1.1h-1.1z M239.5 468.9h1.1v1.1h-1.1z M235.4 465.3h1.1v1.1h-1.1z M243.5 462.1h1.1v1.1h-1.1z M245.3 471.3h1.1v1.1h-1.1z M240.8 469.6h1.1v1.1h-1.1z M253.4 460.7h1.1v1.1h-1.1z M248.3 450.8h1.1v1.1h-1.1z M245.3 461.3h1.1v1.1h-1.1z M244.7 460.9h1.1v1.1h-1.1z M235.8 468.8h1.1v1.1h-1.1z M249 469.1h1.1v1.1h-1.1z M249.6 466h1.1v1.1h-1.1z M245.4 472.1h1.1v1.1h-1.1z M250.4 471.6h1.1v1.1h-1.1z M239.9 466.9h1.1v1.1h-1.1z M242.2 465.1h1.1v1.1h-1.1z M237 464.8h1.1v1.1h-1.1z M243.7 458.3h1.1v1.1h-1.1z M243.2 470.5h1.1v1.1h-1.1z M240.4 466.2h1.1v1.1h-1.1z M245.8 454.2h1.1v1.1h-1.1z M257.2 460.3h1.1v1.1h-1.1z M238.8 460.6h1.1v1.1h-1.1z M243.5 471.3h1.1v1.1h-1.1z M244.3 464.7h1.1v1.1h-1.1z M247.4 461.5h1.1v1.1h-1.1z M247 470.4h1.1v1.1h-1.1z M240.7 465.9h1.1v1.1h-1.1z M249 465.9h1.1v1.1h-1.1z M244.7 464.1h1.1v1.1h-1.1z M243.1 456.4h1.1v1.1h-1.1z M252.4 463.3h1.1v1.1h-1.1z M247.1 462.9h1.1v1.1h-1.1z M251.9 470.6h1.1v1.1h-1.1z M239 461.6h1.1v1.1h-1.1z M236.9 468.6h1.1v1.1h-1.1z M249.3 465.1h1.1v1.1h-1.1z M251.6 456.3h1.1v1.1h-1.1z M239.9 463.7h1.1v1.1h-1.1z M237.2 465.5h1.1v1.1h-1.1z M243.5 467.6h1.1v1.1h-1.1z M250.8 473.9h1.1v1.1h-1.1z M242.5 469.1h1.1v1.1h-1.1z M236.9 456.2h1.1v1.1h-1.1z M244.6 456.9h1.1v1.1h-1.1z M251.3 460.1h1.1v1.1h-1.1z M249.1 467.3h1.1v1.1h-1.1z M243.9 465.9h1.1v1.1h-1.1z M249.3 466.6h1.1v1.1h-1.1z M242.5 459.1h1.1v1.1h-1.1z M237.3 465.3h1.1v1.1h-1.1z M244 452.4h1.1v1.1h-1.1z M243.9 464.5h1.1v1.1h-1.1z M262.1 469.7h1.1v1.1h-1.1z M245.1 456.3h1.1v1.1h-1.1z M246.3 467.9h1.1v1.1h-1.1z M243.4 468.1h1.1v1.1h-1.1z M250.6 473.4h1.1v1.1h-1.1z M250.2 463.7h1.1v1.1h-1.1z M247.5 469.4h1.1v1.1h-1.1z M253 462.1h1.1v1.1h-1.1z M243.2 468.5h1.1v1.1h-1.1z M237.3 460.5h1.1v1.1h-1.1z M239.3 458h1.1v1.1h-1.1z M245.7 463.3h1.1v1.1h-1.1z M237.2 468.8h1.1v1.1h-1.1z M242.2 475.1h1.1v1.1h-1.1z M247.5 462.1h1.1v1.1h-1.1z M247 471.9h1.1v1.1h-1.1z M238.1 459.8h1.1v1.1h-1.1z M236.9 453.3h1.1v1.1h-1.1z M243.2 469.6h1.1v1.1h-1.1z M238.2 470.6h1.1v1.1h-1.1z M251.5 469.5h1.1v1.1h-1.1z M247.3 458.7h1.1v1.1h-1.1z M249.5 458.6h1.1v1.1h-1.1z M241 469.4h1.1v1.1h-1.1z M240.2 472.3h1.1v1.1h-1.1z M242.5 466.8h1.1v1.1h-1.1z M239.4 465.7h1.1v1.1h-1.1z M244.2 475.4h1.1v1.1h-1.1z M246.7 456.8h1.1v1.1h-1.1z M248.5 473.1h1.1v1.1h-1.1z M244.1 468.9h1.1v1.1h-1.1z M240.6 471.1h1.1v1.1h-1.1z M245.8 473.7h1.1v1.1h-1.1z M241.7 473.4h1.1v1.1h-1.1z M253.4 468.9h1.1v1.1h-1.1z M237 469.7h1.1v1.1h-1.1z M237.7 466.2h1.1v1.1h-1.1z M248.5 473.4h1.1v1.1h-1.1z M241.3 469.3h1.1v1.1h-1.1z M240.5 456.8h1.1v1.1h-1.1z M237.8 467.9h1.1v1.1h-1.1z M249.6 458.1h1.1v1.1h-1.1z M237.3 465.5h1.1v1.1h-1.1z M243.6 460.7h1.1v1.1h-1.1z M242.2 464.8h1.1v1.1h-1.1z M240.7 465h1.1v1.1h-1.1z M246.6 460h1.1v1.1h-1.1z M239.8 462.4h1.1v1.1h-1.1z M242.6 464.7h1.1v1.1h-1.1z M247.1 461.1h1.1v1.1h-1.1z M243 464.4h1.1v1.1h-1.1z M236.2 467.5h1.1v1.1h-1.1z M238.6 468.3h1.1v1.1h-1.1z M239.9 457.5h1.1v1.1h-1.1z M247.6 475.7h1.1v1.1h-1.1z M247.7 461.3h1.1v1.1h-1.1z M238.8 467.2h1.1v1.1h-1.1z M246.5 462h1.1v1.1h-1.1z M238 458.4h1.1v1.1h-1.1z M256.8 460.6h1.1v1.1h-1.1z M238.9 459.4h1.1v1.1h-1.1z M244.6 469h1.1v1.1h-1.1z M240.4 456.1h1.1v1.1h-1.1z M244.9 464.4h1.1v1.1h-1.1z M251.4 469.4h1.1v1.1h-1.1z M245.1 466.7h1.1v1.1h-1.1z M237.7 458.4h1.1v1.1h-1.1z M240.4 467.5h1.1v1.1h-1.1z M237.7 468h1.1v1.1h-1.1z M259.1 468.7h1.1v1.1h-1.1z M243 461.4h1.1v1.1h-1.1z M248.4 459.9h1.1v1.1h-1.1z M243.8 467.6h1.1v1.1h-1.1z M242 463.2h1.1v1.1h-1.1z M242.6 456.7h1.1v1.1h-1.1z M242.7 458.9h1.1v1.1h-1.1z M248.6 462.7h1.1v1.1h-1.1z M247.7 462h1.1v1.1h-1.1z M242.5 457.4h1.1v1.1h-1.1z M242.4 463h1.1v1.1h-1.1z M247.5 462.8h1.1v1.1h-1.1z M237.3 451.2h1.1v1.1h-1.1z M244 452h1.1v1.1h-1.1z M245.9 449.6h1.1v1.1h-1.1z M238.5 456.4h1.1v1.1h-1.1z M244.7 461h1.1v1.1h-1.1z M246.7 461.1h1.1v1.1h-1.1z M240.9 462.7h1.1v1.1h-1.1z M242.7 461.6h1.1v1.1h-1.1z M250.2 476.1h1.1v1.1h-1.1z M239.1 468h1.1v1.1h-1.1z M247.8 456h1.1v1.1h-1.1z M239.3 465.6h1.1v1.1h-1.1z M247.2 465.3h1.1v1.1h-1.1z M252.6 463.1h1.1v1.1h-1.1z M253.7 466.9h1.1v1.1h-1.1z M245.6 474.9h1.1v1.1h-1.1z M245.4 472.3h1.1v1.1h-1.1z M238.2 463.9h1.1v1.1h-1.1z M254.8 470.3h1.1v1.1h-1.1z M245.6 477.4h1.1v1.1h-1.1z M237.6 456.3h1.1v1.1h-1.1z M241.1 464.6h1.1v1.1h-1.1z M238.7 462.8h1.1v1.1h-1.1z M242.4 461.1h1.1v1.1h-1.1z M237.7 460.6h1.1v1.1h-1.1z M248.9 460.4h1.1v1.1h-1.1z M242.6 467.7h1.1v1.1h-1.1z M246 467.3h1.1v1.1h-1.1z M248.4 470.5h1.1v1.1h-1.1z M255.4 472.7h1.1v1.1h-1.1z M239.5 465.9h1.1v1.1h-1.1z M247.8 469.2h1.1v1.1h-1.1z M238.1 452.3h1.1v1.1h-1.1z M249 467.6h1.1v1.1h-1.1z M243.7 453.8h1.1v1.1h-1.1z M242.5 460.5h1.1v1.1h-1.1z M238.8 469.9h1.1v1.1h-1.1z M243.8 467.6h1.1v1.1h-1.1z M247 469.8h1.1v1.1h-1.1z M241.9 460h1.1v1.1h-1.1z M244.2 460.8h1.1v1.1h-1.1z M237.4 469.8h1.1v1.1h-1.1z M242.3 464.9h1.1v1.1h-1.1z M246.1 460.5h1.1v1.1h-1.1z M245.4 477h1.1v1.1h-1.1z M239.1 465.4h1.1v1.1h-1.1z M236.7 450.4h1.1v1.1h-1.1z M239.8 470.9h1.1v1.1h-1.1z M235.3 465.4h1.1v1.1h-1.1z M235.9 474.2h1.1v1.1h-1.1z M252 457.5h1.1v1.1h-1.1z M244.8 464h1.1v1.1h-1.1z M244.2 463.6h1.1v1.1h-1.1z M240.6 457.5h1.1v1.1h-1.1z M252 469.9h1.1v1.1h-1.1z M242.9 451.6h1.1v1.1h-1.1z M247.9 466.9h1.1v1.1h-1.1z M242.8 465.2h1.1v1.1h-1.1z M240.1 459.1h1.1v1.1h-1.1z M245.4 468.5h1.1v1.1h-1.1z M242.1 462.9h1.1v1.1h-1.1z M238.7 464.6h1.1v1.1h-1.1z M243.8 458.5h1.1v1.1h-1.1z M242.5 464.3h1.1v1.1h-1.1z M235.4 460.5h1.1v1.1h-1.1z M236.9 468.9h1.1v1.1h-1.1z M236.1 457.9h1.1v1.1h-1.1z M246.9 472.1h1.1v1.1h-1.1z M246 474.7h1.1v1.1h-1.1z M248.2 457.2h1.1v1.1h-1.1z M247.2 465h1.1v1.1h-1.1z M244.2 469.5h1.1v1.1h-1.1z M242 463.4h1.1v1.1h-1.1z M246.7 468h1.1v1.1h-1.1z M244.5 467.7h1.1v1.1h-1.1z M238 460.8h1.1v1.1h-1.1z M244.6 456.1h1.1v1.1h-1.1z M238.2 457.8h1.1v1.1h-1.1z M245.2 473.7h1.1v1.1h-1.1z M244.5 468.6h1.1v1.1h-1.1z M258.6 453.7h1.1v1.1h-1.1z M239.2 467h1.1v1.1h-1.1z M242.6 460.8h1.1v1.1h-1.1z M247.7 465.4h1.1v1.1h-1.1z M242 469.3h1.1v1.1h-1.1z M236 463.4h1.1v1.1h-1.1z M242.9 465h1.1v1.1h-1.1z M244.4 456.9h1.1v1.1h-1.1z M241.2 472.2h1.1v1.1h-1.1z M237.7 468.3h1.1v1.1h-1.1z M253.4 474.8h1.1v1.1h-1.1z M238.1 476h1.1v1.1h-1.1z M244.6 454.9h1.1v1.1h-1.1z M239.9 464.5h1.1v1.1h-1.1z M236 470.7h1.1v1.1h-1.1z M244.6 469.9h1.1v1.1h-1.1z M239.8 470h1.1v1.1h-1.1z M239.7 470.3h1.1v1.1h-1.1z M269.8 426.3h1.1v1.1h-1.1z M266.1 425.7h1.1v1.1h-1.1z M246.8 421.5h1.1v1.1h-1.1z M261.4 424.5h1.1v1.1h-1.1z M261.3 413.4h1.1v1.1h-1.1z M259.8 391.1h1.1v1.1h-1.1z M271.5 421.9h1.1v1.1h-1.1z M257.6 402.7h1.1v1.1h-1.1z M257.7 433.8h1.1v1.1h-1.1z M263.3 443.1h1.1v1.1h-1.1z M268.9 398.7h1.1v1.1h-1.1z M254.4 437.4h1.1v1.1h-1.1z M261.3 435.4h1.1v1.1h-1.1z M260.7 434.3h1.1v1.1h-1.1z M266 388.3h1.1v1.1h-1.1z M275.6 425.9h1.1v1.1h-1.1z M267.2 437.9h1.1v1.1h-1.1z M259.9 408.4h1.1v1.1h-1.1z M258 407.6h1.1v1.1h-1.1z M247.7 407.9h1.1v1.1h-1.1z M262.8 414.7h1.1v1.1h-1.1z M267.6 450.5h1.1v1.1h-1.1z M266.4 404.8h1.1v1.1h-1.1z M259.4 393.6h1.1v1.1h-1.1z M271.6 384h1.1v1.1h-1.1z M255.9 420.9h1.1v1.1h-1.1z M268.7 411.1h1.1v1.1h-1.1z M265.3 419.4h1.1v1.1h-1.1z M259.2 399.1h1.1v1.1h-1.1z M268.5 413.4h1.1v1.1h-1.1z M256.3 399.6h1.1v1.1h-1.1z M257.4 429.2h1.1v1.1h-1.1z M264.5 428.2h1.1v1.1h-1.1z M273.5 425.2h1.1v1.1h-1.1z M267.7 422.3h1.1v1.1h-1.1z M258.8 398.2h1.1v1.1h-1.1z M272.2 421.7h1.1v1.1h-1.1z M276.9 432.9h1.1v1.1h-1.1z M264.2 416.7h1.1v1.1h-1.1z M263.1 427.1h1.1v1.1h-1.1z M256.7 411.1h1.1v1.1h-1.1z M256.6 426.9h1.1v1.1h-1.1z M254.5 419.7h1.1v1.1h-1.1z M256.8 428.4h1.1v1.1h-1.1z M253.5 424.7h1.1v1.1h-1.1z M270.1 405.4h1.1v1.1h-1.1z M263.4 399.9h1.1v1.1h-1.1z M249.1 404.8h1.1v1.1h-1.1z M265.6 416.6h1.1v1.1h-1.1z M266.4 395.4h1.1v1.1h-1.1z M271.6 453.1h1.1v1.1h-1.1z M260.3 452.3h1.1v1.1h-1.1z M262.2 456.4h1.1v1.1h-1.1z M251.4 470.9h1.1v1.1h-1.1z M257.9 473h1.1v1.1h-1.1z M260.9 463.6h1.1v1.1h-1.1z M253.2 456.9h1.1v1.1h-1.1z M280.3 466.4h1.1v1.1h-1.1z" fill="#222"/>
<rect x="206.7" y="361.8" width="127.5" height="116.7" fill="none" stroke="#333" stroke-width="1.4"/>
<line x1="233.9" y1="361.8" x2="233.9" y2="478.5" stroke="#333" stroke-width="1.2"/>
<line x1="206.7" y1="444.3" x2="334.2" y2="444.3" stroke="#333" stroke-width="1.2"/>
<rect x="251.8" y="363.5" width="43.2" height="80.7" fill="none" stroke="#111" stroke-width="1.5"/>
<text x="265.9" y="388.6" font-size="16" font-weight="bold">8%</text>
<text x="233.9" y="373.6" font-size="10" font-weight="bold" fill="#111">S2</text>
<text x="233.9" y="458.2" font-size="10" font-weight="bold" fill="#111">S4</text>
<line x1="204.2" y1="466.79" x2="206.7" y2="466.79" stroke="#555" stroke-width="0.9"/><line x1="204.2" y1="459.94" x2="206.7" y2="459.94" stroke="#555" stroke-width="0.9"/><line x1="204.2" y1="455.08" x2="206.7" y2="455.08" stroke="#555" stroke-width="0.9"/><line x1="204.2" y1="451.31" x2="206.7" y2="451.31" stroke="#555" stroke-width="0.9"/><line x1="204.2" y1="448.23" x2="206.7" y2="448.23" stroke="#555" stroke-width="0.9"/><line x1="204.2" y1="445.63" x2="206.7" y2="445.63" stroke="#555" stroke-width="0.9"/><line x1="204.2" y1="443.37" x2="206.7" y2="443.37" stroke="#555" stroke-width="0.9"/><line x1="204.2" y1="441.38" x2="206.7" y2="441.38" stroke="#555" stroke-width="0.9"/><line x1="204.2" y1="427.89" x2="206.7" y2="427.89" stroke="#555" stroke-width="0.9"/><line x1="204.2" y1="421.04" x2="206.7" y2="421.04" stroke="#555" stroke-width="0.9"/><line x1="204.2" y1="416.18" x2="206.7" y2="416.18" stroke="#555" stroke-width="0.9"/><line x1="204.2" y1="412.41" x2="206.7" y2="412.41" stroke="#555" stroke-width="0.9"/><line x1="204.2" y1="409.33" x2="206.7" y2="409.33" stroke="#555" stroke-width="0.9"/><line x1="204.2" y1="406.73" x2="206.7" y2="406.73" stroke="#555" stroke-width="0.9"/><line x1="204.2" y1="404.47" x2="206.7" y2="404.47" stroke="#555" stroke-width="0.9"/><line x1="204.2" y1="402.48" x2="206.7" y2="402.48" stroke="#555" stroke-width="0.9"/><line x1="204.2" y1="388.99" x2="206.7" y2="388.99" stroke="#555" stroke-width="0.9"/><line x1="204.2" y1="382.14" x2="206.7" y2="382.14" stroke="#555" stroke-width="0.9"/><line x1="204.2" y1="377.28" x2="206.7" y2="377.28" stroke="#555" stroke-width="0.9"/><line x1="204.2" y1="373.51" x2="206.7" y2="373.51" stroke="#555" stroke-width="0.9"/><line x1="204.2" y1="370.43" x2="206.7" y2="370.43" stroke="#555" stroke-width="0.9"/><line x1="204.2" y1="367.83" x2="206.7" y2="367.83" stroke="#555" stroke-width="0.9"/><line x1="204.2" y1="365.57" x2="206.7" y2="365.57" stroke="#555" stroke-width="0.9"/><line x1="204.2" y1="363.58" x2="206.7" y2="363.58" stroke="#555" stroke-width="0.9"/>
<line x1="219.49" y1="478.5" x2="219.49" y2="481" stroke="#555" stroke-width="0.9"/><line x1="226.98" y1="478.5" x2="226.98" y2="481" stroke="#555" stroke-width="0.9"/><line x1="232.29" y1="478.5" x2="232.29" y2="481" stroke="#555" stroke-width="0.9"/><line x1="236.41" y1="478.5" x2="236.41" y2="481" stroke="#555" stroke-width="0.9"/><line x1="239.77" y1="478.5" x2="239.77" y2="481" stroke="#555" stroke-width="0.9"/><line x1="242.62" y1="478.5" x2="242.62" y2="481" stroke="#555" stroke-width="0.9"/><line x1="245.08" y1="478.5" x2="245.08" y2="481" stroke="#555" stroke-width="0.9"/><line x1="247.26" y1="478.5" x2="247.26" y2="481" stroke="#555" stroke-width="0.9"/><line x1="261.99" y1="478.5" x2="261.99" y2="481" stroke="#555" stroke-width="0.9"/><line x1="269.48" y1="478.5" x2="269.48" y2="481" stroke="#555" stroke-width="0.9"/><line x1="274.79" y1="478.5" x2="274.79" y2="481" stroke="#555" stroke-width="0.9"/><line x1="278.91" y1="478.5" x2="278.91" y2="481" stroke="#555" stroke-width="0.9"/><line x1="282.27" y1="478.5" x2="282.27" y2="481" stroke="#555" stroke-width="0.9"/><line x1="285.12" y1="478.5" x2="285.12" y2="481" stroke="#555" stroke-width="0.9"/><line x1="287.58" y1="478.5" x2="287.58" y2="481" stroke="#555" stroke-width="0.9"/><line x1="289.76" y1="478.5" x2="289.76" y2="481" stroke="#555" stroke-width="0.9"/><line x1="304.49" y1="478.5" x2="304.49" y2="481" stroke="#555" stroke-width="0.9"/><line x1="311.98" y1="478.5" x2="311.98" y2="481" stroke="#555" stroke-width="0.9"/><line x1="317.29" y1="478.5" x2="317.29" y2="481" stroke="#555" stroke-width="0.9"/><line x1="321.41" y1="478.5" x2="321.41" y2="481" stroke="#555" stroke-width="0.9"/><line x1="324.77" y1="478.5" x2="324.77" y2="481" stroke="#555" stroke-width="0.9"/><line x1="327.62" y1="478.5" x2="327.62" y2="481" stroke="#555" stroke-width="0.9"/><line x1="330.08" y1="478.5" x2="330.08" y2="481" stroke="#555" stroke-width="0.9"/><line x1="332.26" y1="478.5" x2="332.26" y2="481" stroke="#555" stroke-width="0.9"/>
<text x="186.89" y="452.52" font-size="8.2" font-weight="bold" textLength="11.23" lengthAdjust="spacingAndGlyphs">10</text>
<text x="197.56" y="449.62" font-size="6.4" font-weight="bold" textLength="3.28" lengthAdjust="spacingAndGlyphs">0</text>
<text x="186.89" y="423.35" font-size="8.2" font-weight="bold" textLength="11.23" lengthAdjust="spacingAndGlyphs">10</text>
<text x="197.44" y="420.45" font-size="6.4" font-weight="bold" textLength="3.31" lengthAdjust="spacingAndGlyphs">1</text>
<text x="186.89" y="394.18" font-size="8.2" font-weight="bold" textLength="11.23" lengthAdjust="spacingAndGlyphs">10</text>
<text x="197.60" y="391.28" font-size="6.4" font-weight="bold" textLength="3.24" lengthAdjust="spacingAndGlyphs">2</text>
<text x="186.89" y="365.00" font-size="8.2" font-weight="bold" textLength="11.23" lengthAdjust="spacingAndGlyphs">10</text>
<text x="197.66" y="362.10" font-size="6.4" font-weight="bold" textLength="3.15" lengthAdjust="spacingAndGlyphs">3</text>
<text x="233.98" y="488.70" font-size="8.2" font-weight="bold" textLength="11.01" lengthAdjust="spacingAndGlyphs">10</text>
<text x="244.83" y="485.70" font-size="6.4" font-weight="bold" textLength="3.40" lengthAdjust="spacingAndGlyphs">0</text>
<text x="265.86" y="488.70" font-size="8.2" font-weight="bold" textLength="11.01" lengthAdjust="spacingAndGlyphs">10</text>
<text x="276.58" y="485.70" font-size="6.4" font-weight="bold" textLength="3.43" lengthAdjust="spacingAndGlyphs">1</text>
<text x="297.73" y="488.70" font-size="8.2" font-weight="bold" textLength="11.01" lengthAdjust="spacingAndGlyphs">10</text>
<text x="308.61" y="485.70" font-size="6.4" font-weight="bold" textLength="3.36" lengthAdjust="spacingAndGlyphs">2</text>
<text x="321.21" y="488.70" font-size="8.2" font-weight="bold" textLength="11.01" lengthAdjust="spacingAndGlyphs">10</text>
<text x="332.15" y="485.70" font-size="6.4" font-weight="bold" textLength="3.26" lengthAdjust="spacingAndGlyphs">3</text>
<path d="M393.8 465.5h1.1v1.1h-1.1z M400.8 465.3h1.1v1.1h-1.1z M407.3 450.3h1.1v1.1h-1.1z M405.4 470.8h1.1v1.1h-1.1z M395 454h1.1v1.1h-1.1z M395.8 459.1h1.1v1.1h-1.1z M400.1 453.7h1.1v1.1h-1.1z M401.4 464.5h1.1v1.1h-1.1z M405.9 457.7h1.1v1.1h-1.1z M397.8 458h1.1v1.1h-1.1z M398.5 471h1.1v1.1h-1.1z M394.8 461.7h1.1v1.1h-1.1z M397.3 468.7h1.1v1.1h-1.1z M393.9 458.9h1.1v1.1h-1.1z M396.6 467.9h1.1v1.1h-1.1z M400.4 449.1h1.1v1.1h-1.1z M400.2 457.1h1.1v1.1h-1.1z M406.5 464.8h1.1v1.1h-1.1z M397 471.9h1.1v1.1h-1.1z M391.2 462.9h1.1v1.1h-1.1z M403.8 475.9h1.1v1.1h-1.1z M399 474.4h1.1v1.1h-1.1z M405.3 445.2h1.1v1.1h-1.1z M399.9 463.6h1.1v1.1h-1.1z M402.8 462.8h1.1v1.1h-1.1z M397.3 472.1h1.1v1.1h-1.1z M408.5 457.6h1.1v1.1h-1.1z M398.2 470.6h1.1v1.1h-1.1z M397.5 448.1h1.1v1.1h-1.1z M399.2 467.4h1.1v1.1h-1.1z M392.7 453.9h1.1v1.1h-1.1z M398.6 452.8h1.1v1.1h-1.1z M406.1 468.5h1.1v1.1h-1.1z M399.4 457h1.1v1.1h-1.1z M396.7 467.9h1.1v1.1h-1.1z M411.2 459.7h1.1v1.1h-1.1z M404.4 463.8h1.1v1.1h-1.1z M398.7 459.5h1.1v1.1h-1.1z M396.6 449.4h1.1v1.1h-1.1z M412.9 470.4h1.1v1.1h-1.1z M404.6 471.8h1.1v1.1h-1.1z M395.6 464h1.1v1.1h-1.1z M402.4 461.1h1.1v1.1h-1.1z M403.4 455.9h1.1v1.1h-1.1z M403.8 451h1.1v1.1h-1.1z M400 461.2h1.1v1.1h-1.1z M407.9 471h1.1v1.1h-1.1z M406.1 457.7h1.1v1.1h-1.1z M399.5 466.1h1.1v1.1h-1.1z M391.2 467.9h1.1v1.1h-1.1z M397.3 456.9h1.1v1.1h-1.1z M397.6 468.2h1.1v1.1h-1.1z M404.5 461h1.1v1.1h-1.1z M405.4 473.5h1.1v1.1h-1.1z M398.3 473.5h1.1v1.1h-1.1z M400.5 460.3h1.1v1.1h-1.1z M395.6 461.1h1.1v1.1h-1.1z M400 476.3h1.1v1.1h-1.1z M400.6 454.9h1.1v1.1h-1.1z M401.9 477.5h1.1v1.1h-1.1z M398.1 473.2h1.1v1.1h-1.1z M394.3 459.8h1.1v1.1h-1.1z M409.6 460.1h1.1v1.1h-1.1z M407.1 452.2h1.1v1.1h-1.1z M396.3 455.2h1.1v1.1h-1.1z M403.8 469h1.1v1.1h-1.1z M393.5 466.9h1.1v1.1h-1.1z M392.5 465.6h1.1v1.1h-1.1z M398.8 471h1.1v1.1h-1.1z M395.7 468.1h1.1v1.1h-1.1z M405.9 457.8h1.1v1.1h-1.1z M392.9 467.3h1.1v1.1h-1.1z M403.8 458.6h1.1v1.1h-1.1z M403.1 455.6h1.1v1.1h-1.1z M406.8 456.1h1.1v1.1h-1.1z M398 474h1.1v1.1h-1.1z M393.8 462.1h1.1v1.1h-1.1z M406 463.5h1.1v1.1h-1.1z M402.5 450.6h1.1v1.1h-1.1z M392.2 453.3h1.1v1.1h-1.1z M409 446.8h1.1v1.1h-1.1z M400.5 463.2h1.1v1.1h-1.1z M404.3 456.6h1.1v1.1h-1.1z M396.4 446.3h1.1v1.1h-1.1z M403 462.5h1.1v1.1h-1.1z M398.1 456.5h1.1v1.1h-1.1z M401.4 470.4h1.1v1.1h-1.1z M397.4 466.3h1.1v1.1h-1.1z M399.7 465.5h1.1v1.1h-1.1z M405.2 473.8h1.1v1.1h-1.1z M404.4 467.9h1.1v1.1h-1.1z M402.9 453h1.1v1.1h-1.1z M394.9 455h1.1v1.1h-1.1z M406.5 463.6h1.1v1.1h-1.1z M398.4 463h1.1v1.1h-1.1z M407.8 457.1h1.1v1.1h-1.1z M399.9 471.6h1.1v1.1h-1.1z M392.5 452.7h1.1v1.1h-1.1z M395.5 468.3h1.1v1.1h-1.1z M402.3 469.7h1.1v1.1h-1.1z M403.2 464.7h1.1v1.1h-1.1z M394.7 467.8h1.1v1.1h-1.1z M412.3 458.1h1.1v1.1h-1.1z M394.6 453.9h1.1v1.1h-1.1z M399.5 471.6h1.1v1.1h-1.1z M405.7 466.3h1.1v1.1h-1.1z M401.2 474.1h1.1v1.1h-1.1z M394.3 472.3h1.1v1.1h-1.1z M395.3 465h1.1v1.1h-1.1z M403.6 463.6h1.1v1.1h-1.1z M394.6 472.5h1.1v1.1h-1.1z M397.9 473.5h1.1v1.1h-1.1z M396.6 455h1.1v1.1h-1.1z M397.1 451.4h1.1v1.1h-1.1z M398.2 465.5h1.1v1.1h-1.1z M397.9 467.6h1.1v1.1h-1.1z M394.1 464.2h1.1v1.1h-1.1z M397.9 459.5h1.1v1.1h-1.1z M395.2 450.9h1.1v1.1h-1.1z M401.7 466.4h1.1v1.1h-1.1z M407.8 468.8h1.1v1.1h-1.1z M399.5 467h1.1v1.1h-1.1z M392.1 455.7h1.1v1.1h-1.1z M399.9 459h1.1v1.1h-1.1z M399.3 464.7h1.1v1.1h-1.1z M402.5 461.2h1.1v1.1h-1.1z M401 464.4h1.1v1.1h-1.1z M396.2 466h1.1v1.1h-1.1z M400.5 454.3h1.1v1.1h-1.1z M398.3 466.5h1.1v1.1h-1.1z M411.8 457.5h1.1v1.1h-1.1z M396.7 457.2h1.1v1.1h-1.1z M392.6 466.2h1.1v1.1h-1.1z M409.7 462.2h1.1v1.1h-1.1z M403.9 469.8h1.1v1.1h-1.1z M400.4 467.6h1.1v1.1h-1.1z M399.4 470.8h1.1v1.1h-1.1z M399 459.5h1.1v1.1h-1.1z M402.1 469.9h1.1v1.1h-1.1z M414.3 470.2h1.1v1.1h-1.1z M398.9 473.9h1.1v1.1h-1.1z M399.5 456h1.1v1.1h-1.1z M401.9 454.5h1.1v1.1h-1.1z M403.9 457.9h1.1v1.1h-1.1z M395.3 466h1.1v1.1h-1.1z M393.5 452.4h1.1v1.1h-1.1z M404.8 460.3h1.1v1.1h-1.1z M403.1 449.9h1.1v1.1h-1.1z M405.2 478.4h1.1v1.1h-1.1z M399.6 467.3h1.1v1.1h-1.1z M400.6 453.1h1.1v1.1h-1.1z M403.8 465.3h1.1v1.1h-1.1z M408.7 464.9h1.1v1.1h-1.1z M394.7 460.7h1.1v1.1h-1.1z M398.1 468.8h1.1v1.1h-1.1z M410.2 475.3h1.1v1.1h-1.1z M397.8 469.5h1.1v1.1h-1.1z M404.6 467.1h1.1v1.1h-1.1z M399.6 454.2h1.1v1.1h-1.1z M401.2 468.4h1.1v1.1h-1.1z M408.2 474.3h1.1v1.1h-1.1z M398.6 456.3h1.1v1.1h-1.1z M401.3 455.8h1.1v1.1h-1.1z M403.3 455.2h1.1v1.1h-1.1z M405.2 465.1h1.1v1.1h-1.1z M400.3 477.2h1.1v1.1h-1.1z M403.3 473.5h1.1v1.1h-1.1z M410.6 466.6h1.1v1.1h-1.1z M407.6 464.3h1.1v1.1h-1.1z M402.1 450.4h1.1v1.1h-1.1z M397.9 461.2h1.1v1.1h-1.1z M401 462.7h1.1v1.1h-1.1z M394.9 464h1.1v1.1h-1.1z M398.1 472.7h1.1v1.1h-1.1z M397.3 467h1.1v1.1h-1.1z M405.8 467.3h1.1v1.1h-1.1z M398.8 459.8h1.1v1.1h-1.1z M398.9 451.4h1.1v1.1h-1.1z M396.9 470.3h1.1v1.1h-1.1z M398.5 459.1h1.1v1.1h-1.1z M398.5 462.4h1.1v1.1h-1.1z M397.2 469.2h1.1v1.1h-1.1z M407.3 460.2h1.1v1.1h-1.1z M394.8 467.6h1.1v1.1h-1.1z M404.1 462.2h1.1v1.1h-1.1z M395.3 473.5h1.1v1.1h-1.1z M401.5 468.8h1.1v1.1h-1.1z M408.6 470.4h1.1v1.1h-1.1z M409.9 464.4h1.1v1.1h-1.1z M401.3 468.2h1.1v1.1h-1.1z M396.9 470.7h1.1v1.1h-1.1z M399.6 463.3h1.1v1.1h-1.1z M395.5 475.9h1.1v1.1h-1.1z M397 467.3h1.1v1.1h-1.1z M393.3 467.4h1.1v1.1h-1.1z M404.6 459.1h1.1v1.1h-1.1z M402.4 461h1.1v1.1h-1.1z M397.6 467.5h1.1v1.1h-1.1z M402.7 449.7h1.1v1.1h-1.1z M405 463.4h1.1v1.1h-1.1z M391 446.8h1.1v1.1h-1.1z M403.7 470.7h1.1v1.1h-1.1z M399.7 462.6h1.1v1.1h-1.1z M398.2 469.3h1.1v1.1h-1.1z M400.3 466h1.1v1.1h-1.1z M393.9 446h1.1v1.1h-1.1z M398.5 474.2h1.1v1.1h-1.1z M395.3 462.5h1.1v1.1h-1.1z M404.9 458.1h1.1v1.1h-1.1z M392.7 461.9h1.1v1.1h-1.1z M391.5 438.9h1.1v1.1h-1.1z M404.2 468.6h1.1v1.1h-1.1z M401.4 446.9h1.1v1.1h-1.1z M395 467.4h1.1v1.1h-1.1z M402.7 453.3h1.1v1.1h-1.1z M398.9 455.3h1.1v1.1h-1.1z M403.6 459.5h1.1v1.1h-1.1z M398.5 459h1.1v1.1h-1.1z M399.4 455.3h1.1v1.1h-1.1z M398 478h1.1v1.1h-1.1z M406.9 462h1.1v1.1h-1.1z M393.1 458.6h1.1v1.1h-1.1z M399.8 453.8h1.1v1.1h-1.1z M398.7 467.1h1.1v1.1h-1.1z M406.4 462h1.1v1.1h-1.1z M391.8 471.1h1.1v1.1h-1.1z M399.5 462.7h1.1v1.1h-1.1z M398.5 468.8h1.1v1.1h-1.1z M395.3 458.2h1.1v1.1h-1.1z M396.3 448.7h1.1v1.1h-1.1z M400.7 457.6h1.1v1.1h-1.1z M394.9 455.1h1.1v1.1h-1.1z M391.2 456.1h1.1v1.1h-1.1z M397 468.8h1.1v1.1h-1.1z M392.8 467.4h1.1v1.1h-1.1z M395.2 459.4h1.1v1.1h-1.1z M400.5 467.2h1.1v1.1h-1.1z M403.4 460.5h1.1v1.1h-1.1z M402.1 463.7h1.1v1.1h-1.1z M399.3 468.9h1.1v1.1h-1.1z M400.2 460.1h1.1v1.1h-1.1z M400.4 459h1.1v1.1h-1.1z M405.1 470.6h1.1v1.1h-1.1z M397.9 462.4h1.1v1.1h-1.1z M397.9 471.8h1.1v1.1h-1.1z M402.7 460.3h1.1v1.1h-1.1z M397.1 459h1.1v1.1h-1.1z M409.6 474.8h1.1v1.1h-1.1z M401.1 467.4h1.1v1.1h-1.1z M400.6 454.4h1.1v1.1h-1.1z M400 462.9h1.1v1.1h-1.1z M397.9 458.6h1.1v1.1h-1.1z M400.3 460.9h1.1v1.1h-1.1z M402.7 473.6h1.1v1.1h-1.1z M391.9 450.9h1.1v1.1h-1.1z M401.7 466.7h1.1v1.1h-1.1z M399.4 457.7h1.1v1.1h-1.1z M391.8 452.4h1.1v1.1h-1.1z M392.7 475.2h1.1v1.1h-1.1z M408 471.2h1.1v1.1h-1.1z M398.1 461.3h1.1v1.1h-1.1z M397.7 457.8h1.1v1.1h-1.1z M399.6 467.9h1.1v1.1h-1.1z M406.9 469.4h1.1v1.1h-1.1z M401 465.1h1.1v1.1h-1.1z M400.6 461.8h1.1v1.1h-1.1z M399.5 453.4h1.1v1.1h-1.1z M393.9 465.1h1.1v1.1h-1.1z M399.1 455.5h1.1v1.1h-1.1z M391.4 448.1h1.1v1.1h-1.1z M391 451.5h1.1v1.1h-1.1z M400.3 461.3h1.1v1.1h-1.1z M404.8 470.6h1.1v1.1h-1.1z M403.6 471.4h1.1v1.1h-1.1z M404.5 457.8h1.1v1.1h-1.1z M394.4 459.4h1.1v1.1h-1.1z M405.2 474h1.1v1.1h-1.1z M403.3 463.6h1.1v1.1h-1.1z M391.8 470.9h1.1v1.1h-1.1z M391.6 463h1.1v1.1h-1.1z M394.8 464.2h1.1v1.1h-1.1z M403.4 472.9h1.1v1.1h-1.1z M397.4 456.2h1.1v1.1h-1.1z M397.2 453h1.1v1.1h-1.1z M400.9 466.7h1.1v1.1h-1.1z M394.1 447.6h1.1v1.1h-1.1z M401.1 466.3h1.1v1.1h-1.1z M392.6 473.1h1.1v1.1h-1.1z M395.5 467.4h1.1v1.1h-1.1z M401.2 463.8h1.1v1.1h-1.1z M396.1 468.6h1.1v1.1h-1.1z M392 465.2h1.1v1.1h-1.1z M400 450.9h1.1v1.1h-1.1z M397.6 455.8h1.1v1.1h-1.1z M406.8 473.9h1.1v1.1h-1.1z M401.2 461.4h1.1v1.1h-1.1z M401.5 465.3h1.1v1.1h-1.1z M408.6 459h1.1v1.1h-1.1z M400 474.4h1.1v1.1h-1.1z M409.3 452.8h1.1v1.1h-1.1z M404.9 457h1.1v1.1h-1.1z M395.6 478.7h1.1v1.1h-1.1z M396.9 465.2h1.1v1.1h-1.1z M401.1 466.4h1.1v1.1h-1.1z M404.6 477.5h1.1v1.1h-1.1z M405.2 461.4h1.1v1.1h-1.1z M396.1 460.8h1.1v1.1h-1.1z M398.2 458.7h1.1v1.1h-1.1z M395.4 471.7h1.1v1.1h-1.1z M395.7 458.7h1.1v1.1h-1.1z M391 455.8h1.1v1.1h-1.1z M412.8 461.5h1.1v1.1h-1.1z M403.9 467.7h1.1v1.1h-1.1z M396.4 450.7h1.1v1.1h-1.1z M401.5 452.4h1.1v1.1h-1.1z M398.5 460.7h1.1v1.1h-1.1z M395 462.5h1.1v1.1h-1.1z M400 449.9h1.1v1.1h-1.1z M394.1 460.9h1.1v1.1h-1.1z M404.8 463.7h1.1v1.1h-1.1z M400.1 464.4h1.1v1.1h-1.1z M403.6 461.9h1.1v1.1h-1.1z M398.3 447.6h1.1v1.1h-1.1z M396.3 463h1.1v1.1h-1.1z M405.8 466.1h1.1v1.1h-1.1z M395.1 444.2h1.1v1.1h-1.1z M406.2 477.3h1.1v1.1h-1.1z M401.1 474h1.1v1.1h-1.1z M405.1 467.3h1.1v1.1h-1.1z M396 457h1.1v1.1h-1.1z M407.6 458.2h1.1v1.1h-1.1z M397.9 477.6h1.1v1.1h-1.1z M397.7 470.6h1.1v1.1h-1.1z M398.4 474.9h1.1v1.1h-1.1z M405.6 469h1.1v1.1h-1.1z M398.3 457.7h1.1v1.1h-1.1z M404.7 464.8h1.1v1.1h-1.1z M408.8 461.8h1.1v1.1h-1.1z M394.7 461.3h1.1v1.1h-1.1z M403.4 455.2h1.1v1.1h-1.1z M394.2 465.5h1.1v1.1h-1.1z M401.3 459.8h1.1v1.1h-1.1z M395 468.9h1.1v1.1h-1.1z M410.8 468h1.1v1.1h-1.1z M402.4 458.5h1.1v1.1h-1.1z M399.7 467.4h1.1v1.1h-1.1z M395.5 464.8h1.1v1.1h-1.1z M403 459.5h1.1v1.1h-1.1z M399.6 476.5h1.1v1.1h-1.1z M403.9 448.3h1.1v1.1h-1.1z M403.4 466.8h1.1v1.1h-1.1z M412.5 461.8h1.1v1.1h-1.1z M401.7 462.7h1.1v1.1h-1.1z M392.8 448.5h1.1v1.1h-1.1z M397.5 457.2h1.1v1.1h-1.1z M394.7 466.1h1.1v1.1h-1.1z M394.7 477.4h1.1v1.1h-1.1z M399.4 458.8h1.1v1.1h-1.1z M400.3 452.1h1.1v1.1h-1.1z M397.8 468h1.1v1.1h-1.1z M401.6 477.7h1.1v1.1h-1.1z M393.4 465.8h1.1v1.1h-1.1z M392.7 450h1.1v1.1h-1.1z M395.5 460.5h1.1v1.1h-1.1z M397.1 473.9h1.1v1.1h-1.1z M391.5 459.6h1.1v1.1h-1.1z M397.4 470.2h1.1v1.1h-1.1z M402.5 471.6h1.1v1.1h-1.1z M406.6 465.8h1.1v1.1h-1.1z M397.4 461.3h1.1v1.1h-1.1z M402.1 467.9h1.1v1.1h-1.1z M398.6 460.7h1.1v1.1h-1.1z M402.2 457.9h1.1v1.1h-1.1z M399.9 470.1h1.1v1.1h-1.1z M392.1 479.1h1.1v1.1h-1.1z M408.4 459.1h1.1v1.1h-1.1z M403.7 473.2h1.1v1.1h-1.1z M401.6 452.4h1.1v1.1h-1.1z M395.6 461.9h1.1v1.1h-1.1z M395.1 454.3h1.1v1.1h-1.1z M397.7 454.6h1.1v1.1h-1.1z M403 461.8h1.1v1.1h-1.1z M395.5 452.4h1.1v1.1h-1.1z M405.7 474.1h1.1v1.1h-1.1z M403.3 456.6h1.1v1.1h-1.1z M403.1 452.4h1.1v1.1h-1.1z M402.7 458.9h1.1v1.1h-1.1z M397.9 467.9h1.1v1.1h-1.1z M392.8 466.3h1.1v1.1h-1.1z M404.9 461h1.1v1.1h-1.1z M392.8 464.4h1.1v1.1h-1.1z M399.7 455.9h1.1v1.1h-1.1z M406.1 451.6h1.1v1.1h-1.1z M396.8 471.9h1.1v1.1h-1.1z M399.4 451.1h1.1v1.1h-1.1z M401.6 467.3h1.1v1.1h-1.1z M395.7 465.3h1.1v1.1h-1.1z M407.3 461.3h1.1v1.1h-1.1z M397.7 473.7h1.1v1.1h-1.1z M406.3 458.7h1.1v1.1h-1.1z M392.3 478.4h1.1v1.1h-1.1z M399.5 459.1h1.1v1.1h-1.1z M395.4 473.2h1.1v1.1h-1.1z M397.8 468.1h1.1v1.1h-1.1z M396.5 461.9h1.1v1.1h-1.1z M404.1 470.4h1.1v1.1h-1.1z M398.5 453.8h1.1v1.1h-1.1z M392.5 452.8h1.1v1.1h-1.1z M392 458.2h1.1v1.1h-1.1z M404.1 466.1h1.1v1.1h-1.1z M391.8 461.9h1.1v1.1h-1.1z M400.4 446.6h1.1v1.1h-1.1z M405.3 467h1.1v1.1h-1.1z M391 462.2h1.1v1.1h-1.1z M401.3 458.1h1.1v1.1h-1.1z M393.5 457.3h1.1v1.1h-1.1z M402.5 469h1.1v1.1h-1.1z M401.2 457.7h1.1v1.1h-1.1z M396.1 453.5h1.1v1.1h-1.1z M404.5 465.2h1.1v1.1h-1.1z M392.6 454.2h1.1v1.1h-1.1z M397.4 469.4h1.1v1.1h-1.1z M401 457.9h1.1v1.1h-1.1z M405.5 463.2h1.1v1.1h-1.1z M396.4 469.6h1.1v1.1h-1.1z M398.2 461.8h1.1v1.1h-1.1z M391.2 452.8h1.1v1.1h-1.1z M401.7 470.3h1.1v1.1h-1.1z M401.7 461.1h1.1v1.1h-1.1z M406.4 465.3h1.1v1.1h-1.1z M396.8 459.7h1.1v1.1h-1.1z M409.4 458.9h1.1v1.1h-1.1z M394.5 471.1h1.1v1.1h-1.1z M394.1 460.7h1.1v1.1h-1.1z M400 462.6h1.1v1.1h-1.1z M402.6 470.5h1.1v1.1h-1.1z M396.9 457.3h1.1v1.1h-1.1z M398.4 458.7h1.1v1.1h-1.1z M391.1 472.2h1.1v1.1h-1.1z M398.3 473.6h1.1v1.1h-1.1z M403.1 474.3h1.1v1.1h-1.1z M403.7 472h1.1v1.1h-1.1z M400.5 471.3h1.1v1.1h-1.1z M401.6 455.5h1.1v1.1h-1.1z M412 466.4h1.1v1.1h-1.1z M394.9 447h1.1v1.1h-1.1z M392.8 472.4h1.1v1.1h-1.1z M410.9 458.9h1.1v1.1h-1.1z M395.5 474.9h1.1v1.1h-1.1z M407.6 473h1.1v1.1h-1.1z M402 468.6h1.1v1.1h-1.1z M394 465.5h1.1v1.1h-1.1z M402.4 458h1.1v1.1h-1.1z M409.8 462.1h1.1v1.1h-1.1z M400 459.9h1.1v1.1h-1.1z M399.7 465.8h1.1v1.1h-1.1z M406.5 454.8h1.1v1.1h-1.1z M402.1 456.8h1.1v1.1h-1.1z M391.4 461.7h1.1v1.1h-1.1z M400.2 455.6h1.1v1.1h-1.1z M402.7 459.2h1.1v1.1h-1.1z M396 462.5h1.1v1.1h-1.1z M392.3 462.6h1.1v1.1h-1.1z M401.6 456.3h1.1v1.1h-1.1z M399.6 467.3h1.1v1.1h-1.1z M401.9 456.6h1.1v1.1h-1.1z M394.6 449.7h1.1v1.1h-1.1z M393.6 461.7h1.1v1.1h-1.1z M395.2 464.7h1.1v1.1h-1.1z M408.4 454.7h1.1v1.1h-1.1z M406.9 467.6h1.1v1.1h-1.1z M404.6 462.4h1.1v1.1h-1.1z M407 467.9h1.1v1.1h-1.1z M399 465h1.1v1.1h-1.1z M402.7 462.5h1.1v1.1h-1.1z M404.8 457.3h1.1v1.1h-1.1z M398.2 473.5h1.1v1.1h-1.1z M411.1 472.6h1.1v1.1h-1.1z M393.8 467.6h1.1v1.1h-1.1z M400 474.8h1.1v1.1h-1.1z M399.2 459.9h1.1v1.1h-1.1z M404.5 457.7h1.1v1.1h-1.1z M407.2 468h1.1v1.1h-1.1z M395.1 468.4h1.1v1.1h-1.1z M403.9 460.9h1.1v1.1h-1.1z M415.5 456.9h1.1v1.1h-1.1z M395.2 461.6h1.1v1.1h-1.1z M404.9 471.4h1.1v1.1h-1.1z M397.6 463h1.1v1.1h-1.1z M404.5 465.6h1.1v1.1h-1.1z M398.2 469.4h1.1v1.1h-1.1z M404.5 465.6h1.1v1.1h-1.1z M393.3 456.7h1.1v1.1h-1.1z M399.7 461h1.1v1.1h-1.1z M403.8 469.7h1.1v1.1h-1.1z M399 462h1.1v1.1h-1.1z M397.7 477.6h1.1v1.1h-1.1z M408.6 463.9h1.1v1.1h-1.1z M397.2 466.4h1.1v1.1h-1.1z M405 461.1h1.1v1.1h-1.1z M398.1 467h1.1v1.1h-1.1z M402.7 469.7h1.1v1.1h-1.1z M400.9 463.5h1.1v1.1h-1.1z M397.3 465.3h1.1v1.1h-1.1z M398.5 459.3h1.1v1.1h-1.1z M399.3 473.6h1.1v1.1h-1.1z M398.2 462.9h1.1v1.1h-1.1z M399.2 463.2h1.1v1.1h-1.1z M394.4 464.3h1.1v1.1h-1.1z M396.2 471.1h1.1v1.1h-1.1z M403.4 453.6h1.1v1.1h-1.1z M394.9 462.5h1.1v1.1h-1.1z M393.4 467h1.1v1.1h-1.1z M394.6 460h1.1v1.1h-1.1z M404.8 466.4h1.1v1.1h-1.1z M407.3 454.6h1.1v1.1h-1.1z M404.9 442.6h1.1v1.1h-1.1z M395.1 462.9h1.1v1.1h-1.1z M391.6 458.1h1.1v1.1h-1.1z M400.3 473.8h1.1v1.1h-1.1z M400.2 477.4h1.1v1.1h-1.1z M400.8 443.5h1.1v1.1h-1.1z M397.1 460.3h1.1v1.1h-1.1z M399.5 475.7h1.1v1.1h-1.1z M400.5 472.2h1.1v1.1h-1.1z M401 456.5h1.1v1.1h-1.1z M405.4 457h1.1v1.1h-1.1z M400.6 470.6h1.1v1.1h-1.1z M403.1 467.3h1.1v1.1h-1.1z M403.9 459.9h1.1v1.1h-1.1z M402.3 460.6h1.1v1.1h-1.1z M398.3 455.4h1.1v1.1h-1.1z M394.9 467.1h1.1v1.1h-1.1z M395.3 460.2h1.1v1.1h-1.1z M395.8 469.5h1.1v1.1h-1.1z M408.5 465h1.1v1.1h-1.1z M405.3 463h1.1v1.1h-1.1z M405.2 459.7h1.1v1.1h-1.1z M402.3 467.5h1.1v1.1h-1.1z M395.7 461.5h1.1v1.1h-1.1z M399.1 461h1.1v1.1h-1.1z M402.2 466.8h1.1v1.1h-1.1z M399.1 460.6h1.1v1.1h-1.1z M393.4 457.8h1.1v1.1h-1.1z M397.2 461.7h1.1v1.1h-1.1z M393.6 461.9h1.1v1.1h-1.1z M401.6 468.2h1.1v1.1h-1.1z M397 450h1.1v1.1h-1.1z M407.6 452.5h1.1v1.1h-1.1z M396.2 459.9h1.1v1.1h-1.1z M398.1 464h1.1v1.1h-1.1z M408.1 461.1h1.1v1.1h-1.1z M404.3 464.1h1.1v1.1h-1.1z M394.9 473h1.1v1.1h-1.1z M405.4 475.9h1.1v1.1h-1.1z M395.3 471.6h1.1v1.1h-1.1z M402.6 469.2h1.1v1.1h-1.1z M411.8 456.6h1.1v1.1h-1.1z M398.5 467.9h1.1v1.1h-1.1z M404.7 463.8h1.1v1.1h-1.1z M404 471.5h1.1v1.1h-1.1z M409.4 471.4h1.1v1.1h-1.1z M394.7 453.8h1.1v1.1h-1.1z M398.5 455.6h1.1v1.1h-1.1z M422.7 436.8h1.1v1.1h-1.1z M417.3 394.6h1.1v1.1h-1.1z M417.2 429.9h1.1v1.1h-1.1z M420.4 410.7h1.1v1.1h-1.1z M421.7 381.3h1.1v1.1h-1.1z M421.8 418.1h1.1v1.1h-1.1z M415.2 395.8h1.1v1.1h-1.1z M419.9 402.2h1.1v1.1h-1.1z M419.7 413.5h1.1v1.1h-1.1z M425.8 442.6h1.1v1.1h-1.1z M415.8 400.2h1.1v1.1h-1.1z M418.5 441.5h1.1v1.1h-1.1z M426.9 435.6h1.1v1.1h-1.1z M417.6 403.2h1.1v1.1h-1.1z M415.3 413.9h1.1v1.1h-1.1z M416.8 395.8h1.1v1.1h-1.1z M417.5 426.9h1.1v1.1h-1.1z M416.9 408.9h1.1v1.1h-1.1z M425.1 388.9h1.1v1.1h-1.1z M415 372.6h1.1v1.1h-1.1z M413.1 422h1.1v1.1h-1.1z M425 422.5h1.1v1.1h-1.1z M419.6 397.7h1.1v1.1h-1.1z M420.8 393.4h1.1v1.1h-1.1z M420.1 413.8h1.1v1.1h-1.1z M421.9 435.5h1.1v1.1h-1.1z M422.6 435.1h1.1v1.1h-1.1z M419.7 391.9h1.1v1.1h-1.1z M412.9 420.8h1.1v1.1h-1.1z M420 435h1.1v1.1h-1.1z M415.3 418.7h1.1v1.1h-1.1z M420.5 413.5h1.1v1.1h-1.1z M419.3 406.8h1.1v1.1h-1.1z M424.2 376.1h1.1v1.1h-1.1z M408.8 393.7h1.1v1.1h-1.1z M414.9 396.1h1.1v1.1h-1.1z M415.3 421.7h1.1v1.1h-1.1z M414.9 417.3h1.1v1.1h-1.1z M422.6 449.8h1.1v1.1h-1.1z M415.5 445.7h1.1v1.1h-1.1z M415.1 423.7h1.1v1.1h-1.1z M422.4 422h1.1v1.1h-1.1z M413.2 385.3h1.1v1.1h-1.1z M411.8 392.7h1.1v1.1h-1.1z M414.4 400h1.1v1.1h-1.1z M418.8 387.7h1.1v1.1h-1.1z M413.5 421.7h1.1v1.1h-1.1z M418.8 402.8h1.1v1.1h-1.1z M415.8 408.4h1.1v1.1h-1.1z M423.2 425.9h1.1v1.1h-1.1z M418.5 423.8h1.1v1.1h-1.1z M427.8 445.8h1.1v1.1h-1.1z M418.3 405.4h1.1v1.1h-1.1z M416.1 432.5h1.1v1.1h-1.1z M419.5 419h1.1v1.1h-1.1z M417.7 400.3h1.1v1.1h-1.1z M415.9 385.5h1.1v1.1h-1.1z M428.3 378h1.1v1.1h-1.1z M425.3 437.6h1.1v1.1h-1.1z M423.7 417.2h1.1v1.1h-1.1z M424.2 433.6h1.1v1.1h-1.1z M415.4 427.9h1.1v1.1h-1.1z M416.9 419.5h1.1v1.1h-1.1z M413.4 392.2h1.1v1.1h-1.1z M423.9 419.2h1.1v1.1h-1.1z M426.2 388.6h1.1v1.1h-1.1z M418 437.1h1.1v1.1h-1.1z M418.5 404.2h1.1v1.1h-1.1z M417.8 428.8h1.1v1.1h-1.1z M420 393.2h1.1v1.1h-1.1z M418.6 376.9h1.1v1.1h-1.1z M420.9 431.7h1.1v1.1h-1.1z M421.6 425.2h1.1v1.1h-1.1z M420 424.4h1.1v1.1h-1.1z M417.6 397.9h1.1v1.1h-1.1z M424.6 410.6h1.1v1.1h-1.1z M421.7 439.6h1.1v1.1h-1.1z M415.4 399.3h1.1v1.1h-1.1z M425.1 408.6h1.1v1.1h-1.1z M418.9 417.7h1.1v1.1h-1.1z M422.6 398.9h1.1v1.1h-1.1z M418.9 416.9h1.1v1.1h-1.1z M426.6 413.5h1.1v1.1h-1.1z M426.5 409.1h1.1v1.1h-1.1z M419.8 433.1h1.1v1.1h-1.1z M418.9 427h1.1v1.1h-1.1z M417.4 398h1.1v1.1h-1.1z M420.8 396.5h1.1v1.1h-1.1z M421.5 412.2h1.1v1.1h-1.1z M405.4 426.5h1.1v1.1h-1.1z M411.1 417.5h1.1v1.1h-1.1z M415.2 414.9h1.1v1.1h-1.1z M425.2 413.6h1.1v1.1h-1.1z M419 382.9h1.1v1.1h-1.1z M410.5 410.9h1.1v1.1h-1.1z M419.5 423h1.1v1.1h-1.1z M415.5 403.4h1.1v1.1h-1.1z M418.8 466.7h1.1v1.1h-1.1z M414 381.5h1.1v1.1h-1.1z M417.1 405.8h1.1v1.1h-1.1z M414.3 410.8h1.1v1.1h-1.1z M417.1 421.3h1.1v1.1h-1.1z M414.7 389h1.1v1.1h-1.1z M422.6 405.4h1.1v1.1h-1.1z M417.7 420.3h1.1v1.1h-1.1z M420 412.3h1.1v1.1h-1.1z M417.2 446.7h1.1v1.1h-1.1z M422.5 419.8h1.1v1.1h-1.1z M419.4 395.8h1.1v1.1h-1.1z M417 414.8h1.1v1.1h-1.1z M423.9 421.5h1.1v1.1h-1.1z M418.7 431.2h1.1v1.1h-1.1z M429.6 414.9h1.1v1.1h-1.1z M419.5 393.2h1.1v1.1h-1.1z M420.1 427.1h1.1v1.1h-1.1z M420.1 423.1h1.1v1.1h-1.1z M425.1 424.6h1.1v1.1h-1.1z M419.8 408.2h1.1v1.1h-1.1z M417.2 411.1h1.1v1.1h-1.1z M413.9 411.8h1.1v1.1h-1.1z M427 424.4h1.1v1.1h-1.1z M425.5 440.8h1.1v1.1h-1.1z M425.3 395.4h1.1v1.1h-1.1z M418.4 399.8h1.1v1.1h-1.1z M415.1 443.5h1.1v1.1h-1.1z M420.7 426.3h1.1v1.1h-1.1z M415 409.5h1.1v1.1h-1.1z M417.1 419.2h1.1v1.1h-1.1z M425 429.6h1.1v1.1h-1.1z M416.1 388.6h1.1v1.1h-1.1z M413.6 406.7h1.1v1.1h-1.1z M418.9 393h1.1v1.1h-1.1z M411.5 408.7h1.1v1.1h-1.1z M421.1 402.8h1.1v1.1h-1.1z M414.3 391.6h1.1v1.1h-1.1z M425.7 438.8h1.1v1.1h-1.1z M412.2 384.6h1.1v1.1h-1.1z M413.9 418.6h1.1v1.1h-1.1z M416.9 407.8h1.1v1.1h-1.1z M408 421.8h1.1v1.1h-1.1z M412.4 374.7h1.1v1.1h-1.1z M418.8 429.3h1.1v1.1h-1.1z M420.4 382.9h1.1v1.1h-1.1z M418.2 424.1h1.1v1.1h-1.1z M420.8 406.3h1.1v1.1h-1.1z M420.3 432.5h1.1v1.1h-1.1z M419 421.1h1.1v1.1h-1.1z M414.7 405.6h1.1v1.1h-1.1z M417.8 416.4h1.1v1.1h-1.1z M423 407.7h1.1v1.1h-1.1z M423.1 420.2h1.1v1.1h-1.1z M420.7 385.1h1.1v1.1h-1.1z M415.1 402.1h1.1v1.1h-1.1z M424 397.4h1.1v1.1h-1.1z M416.2 426.2h1.1v1.1h-1.1z M418.5 392.7h1.1v1.1h-1.1z M426.2 404h1.1v1.1h-1.1z M410.1 387.4h1.1v1.1h-1.1z M418.9 407.7h1.1v1.1h-1.1z M422.4 414.2h1.1v1.1h-1.1z M418.5 447.3h1.1v1.1h-1.1z M410.9 403h1.1v1.1h-1.1z M422.9 416h1.1v1.1h-1.1z M424.2 407.4h1.1v1.1h-1.1z M425.8 412.3h1.1v1.1h-1.1z M414.4 417.8h1.1v1.1h-1.1z M411.8 401.4h1.1v1.1h-1.1z M419.4 382.4h1.1v1.1h-1.1z M428.2 426.5h1.1v1.1h-1.1z M417.9 411.1h1.1v1.1h-1.1z M422.9 393h1.1v1.1h-1.1z M416.5 418.7h1.1v1.1h-1.1z M421.8 423.6h1.1v1.1h-1.1z M421.4 380.1h1.1v1.1h-1.1z M417.3 414.4h1.1v1.1h-1.1z M426.6 404.7h1.1v1.1h-1.1z M427.9 437.9h1.1v1.1h-1.1z M415.5 392.6h1.1v1.1h-1.1z M414 427.5h1.1v1.1h-1.1z M410.6 400h1.1v1.1h-1.1z M424.8 459.4h1.1v1.1h-1.1z M413.7 453.5h1.1v1.1h-1.1z M406.7 449.2h1.1v1.1h-1.1z M414.9 447h1.1v1.1h-1.1z M419.8 448.6h1.1v1.1h-1.1z M403 461.1h1.1v1.1h-1.1z M408.8 455.9h1.1v1.1h-1.1z M406.7 436.2h1.1v1.1h-1.1z M414.4 442.6h1.1v1.1h-1.1z M418.7 441.1h1.1v1.1h-1.1z M395.1 454.2h1.1v1.1h-1.1z M413.4 452.7h1.1v1.1h-1.1z M400.3 458.2h1.1v1.1h-1.1z M398.3 448.8h1.1v1.1h-1.1z M403.7 449.4h1.1v1.1h-1.1z M416.8 447.6h1.1v1.1h-1.1z M414.5 456.9h1.1v1.1h-1.1z M396.3 443.8h1.1v1.1h-1.1z M406.9 447.9h1.1v1.1h-1.1z M412.5 438.5h1.1v1.1h-1.1z M415.8 457.2h1.1v1.1h-1.1z M408.7 442.3h1.1v1.1h-1.1z M410 448.2h1.1v1.1h-1.1z M414.5 451.4h1.1v1.1h-1.1z M415.8 449h1.1v1.1h-1.1z M421.5 435.9h1.1v1.1h-1.1z M401.9 455.4h1.1v1.1h-1.1z M397.9 457.2h1.1v1.1h-1.1z M400.3 452.7h1.1v1.1h-1.1z M402.7 448.9h1.1v1.1h-1.1z M411.4 451.3h1.1v1.1h-1.1z M406.9 467.1h1.1v1.1h-1.1z M410.1 445.2h1.1v1.1h-1.1z M417.4 457.7h1.1v1.1h-1.1z M419.8 464.5h1.1v1.1h-1.1z M402.5 459.4h1.1v1.1h-1.1z M419.1 452h1.1v1.1h-1.1z M412 431h1.1v1.1h-1.1z M405.4 464.5h1.1v1.1h-1.1z M395.7 448.3h1.1v1.1h-1.1z M412.3 456h1.1v1.1h-1.1z M423.1 439.7h1.1v1.1h-1.1z M410.3 458h1.1v1.1h-1.1z M399.5 451.7h1.1v1.1h-1.1z M425.1 461.2h1.1v1.1h-1.1z M414.3 433.7h1.1v1.1h-1.1z M409 454.7h1.1v1.1h-1.1z M407.5 451.5h1.1v1.1h-1.1z M434.7 450.5h1.1v1.1h-1.1z M402.2 453.7h1.1v1.1h-1.1z M407.5 449.8h1.1v1.1h-1.1z M409.3 457.4h1.1v1.1h-1.1z M411.9 443.6h1.1v1.1h-1.1z M408.9 455.3h1.1v1.1h-1.1z M406.3 460h1.1v1.1h-1.1z M416.2 445.1h1.1v1.1h-1.1z M412.6 465.9h1.1v1.1h-1.1z M422.5 451.6h1.1v1.1h-1.1z M417.2 447.3h1.1v1.1h-1.1z M398.4 455.9h1.1v1.1h-1.1z M412 455.6h1.1v1.1h-1.1z M409.8 454.3h1.1v1.1h-1.1z M405.9 455.3h1.1v1.1h-1.1z M416.7 451.6h1.1v1.1h-1.1z M416.5 439.6h1.1v1.1h-1.1z M403.7 462.1h1.1v1.1h-1.1z M424.1 453.8h1.1v1.1h-1.1z M409.2 443.1h1.1v1.1h-1.1z M412.9 457.4h1.1v1.1h-1.1z M398.1 455.9h1.1v1.1h-1.1z M413.9 455.1h1.1v1.1h-1.1z M401 455.8h1.1v1.1h-1.1z M398 462.4h1.1v1.1h-1.1z M411.1 443.9h1.1v1.1h-1.1z M420.8 460.1h1.1v1.1h-1.1z M404.8 467.4h1.1v1.1h-1.1z M402 454.2h1.1v1.1h-1.1z M419.5 436.1h1.1v1.1h-1.1z M418 451.5h1.1v1.1h-1.1z M409.9 444.5h1.1v1.1h-1.1z M412.7 444.2h1.1v1.1h-1.1z M402.3 448.9h1.1v1.1h-1.1z M400.2 463h1.1v1.1h-1.1z M399.4 446.7h1.1v1.1h-1.1z M407.5 452h1.1v1.1h-1.1z M416.3 457.7h1.1v1.1h-1.1z M407.6 449.3h1.1v1.1h-1.1z M410.3 457.8h1.1v1.1h-1.1z M415.6 448.4h1.1v1.1h-1.1z M393.5 467h1.1v1.1h-1.1z M417.6 453.8h1.1v1.1h-1.1z M412.7 448.3h1.1v1.1h-1.1z M402 449.7h1.1v1.1h-1.1z M408.2 447.6h1.1v1.1h-1.1z M398.3 449.8h1.1v1.1h-1.1z M414.6 448.5h1.1v1.1h-1.1z M410.2 437.5h1.1v1.1h-1.1z M408.3 451.1h1.1v1.1h-1.1z M400.2 439.9h1.1v1.1h-1.1z M413.3 446.3h1.1v1.1h-1.1z M413.9 449.1h1.1v1.1h-1.1z M415 449.6h1.1v1.1h-1.1z M397.9 451.4h1.1v1.1h-1.1z M407.4 456.6h1.1v1.1h-1.1z M406.4 449.2h1.1v1.1h-1.1z M416.9 460.2h1.1v1.1h-1.1z M416.1 459.3h1.1v1.1h-1.1z M413.6 457.4h1.1v1.1h-1.1z M417 454.8h1.1v1.1h-1.1z M410.5 453h1.1v1.1h-1.1z M429.2 452.1h1.1v1.1h-1.1z M408.1 449.5h1.1v1.1h-1.1z M409.7 453.7h1.1v1.1h-1.1z M401 438.1h1.1v1.1h-1.1z M412.4 440.8h1.1v1.1h-1.1z M412.1 453h1.1v1.1h-1.1z M419.2 463.7h1.1v1.1h-1.1z M412.9 448.1h1.1v1.1h-1.1z M400.6 446.5h1.1v1.1h-1.1z M410.3 437.5h1.1v1.1h-1.1z M410.6 451.9h1.1v1.1h-1.1z M415.2 449.7h1.1v1.1h-1.1z M410.8 446.8h1.1v1.1h-1.1z M406.3 439.6h1.1v1.1h-1.1z M411 462.8h1.1v1.1h-1.1z M411.3 454.6h1.1v1.1h-1.1z M402.1 462h1.1v1.1h-1.1z M403.9 457.6h1.1v1.1h-1.1z M410.9 445.3h1.1v1.1h-1.1z M418.2 452.1h1.1v1.1h-1.1z M415.8 451.2h1.1v1.1h-1.1z M398.7 373.5h1.1v1.1h-1.1z M428 397.2h1.1v1.1h-1.1z M429.7 430.4h1.1v1.1h-1.1z M423.1 378.2h1.1v1.1h-1.1z M424.4 388.3h1.1v1.1h-1.1z M402.7 453.3h1.1v1.1h-1.1z M431.9 444.8h1.1v1.1h-1.1z M419.3 387h1.1v1.1h-1.1z M398.9 384.7h1.1v1.1h-1.1z M424.2 463.1h1.1v1.1h-1.1z M421.4 423h1.1v1.1h-1.1z M418.4 406.1h1.1v1.1h-1.1z M413.5 449.7h1.1v1.1h-1.1z M428.3 444.3h1.1v1.1h-1.1z M426.5 479.4h1.1v1.1h-1.1z M419.5 383.2h1.1v1.1h-1.1z M393.4 455h1.1v1.1h-1.1z M401.6 421.7h1.1v1.1h-1.1z M438.9 398.8h1.1v1.1h-1.1z M410.1 425.8h1.1v1.1h-1.1z M421.6 374.2h1.1v1.1h-1.1z M396.6 385.5h1.1v1.1h-1.1z M418.6 383.8h1.1v1.1h-1.1z M420.4 446.8h1.1v1.1h-1.1z M428.1 448.5h1.1v1.1h-1.1z M438.4 398.3h1.1v1.1h-1.1z M412.8 405.2h1.1v1.1h-1.1z M405.6 455.4h1.1v1.1h-1.1z M398 413.9h1.1v1.1h-1.1z M406.7 409.6h1.1v1.1h-1.1z M412.2 474.1h1.1v1.1h-1.1z M438.2 430.8h1.1v1.1h-1.1z M415.6 430.1h1.1v1.1h-1.1z M423.8 437.9h1.1v1.1h-1.1z" fill="#222"/>
<rect x="364.2" y="354.5" width="126.4" height="126.5" fill="none" stroke="#333" stroke-width="1.4"/>
<line x1="389.6" y1="354.5" x2="389.6" y2="481" stroke="#333" stroke-width="1.2"/>
<line x1="364.2" y1="447.4" x2="490.6" y2="447.4" stroke="#333" stroke-width="1.2"/>
<rect x="398.2" y="357.4" width="43.9" height="86.5" fill="none" stroke="#111" stroke-width="1.5"/>
<text x="411" y="379.3" font-size="16" font-weight="bold">15%</text>
<text x="389.6" y="367" font-size="10" font-weight="bold" fill="#111">S2</text>
<line x1="361.7" y1="468.31" x2="364.2" y2="468.31" stroke="#555" stroke-width="0.9"/><line x1="361.7" y1="460.88" x2="364.2" y2="460.88" stroke="#555" stroke-width="0.9"/><line x1="361.7" y1="455.61" x2="364.2" y2="455.61" stroke="#555" stroke-width="0.9"/><line x1="361.7" y1="451.53" x2="364.2" y2="451.53" stroke="#555" stroke-width="0.9"/><line x1="361.7" y1="448.19" x2="364.2" y2="448.19" stroke="#555" stroke-width="0.9"/><line x1="361.7" y1="445.37" x2="364.2" y2="445.37" stroke="#555" stroke-width="0.9"/><line x1="361.7" y1="442.92" x2="364.2" y2="442.92" stroke="#555" stroke-width="0.9"/><line x1="361.7" y1="440.76" x2="364.2" y2="440.76" stroke="#555" stroke-width="0.9"/><line x1="361.7" y1="426.14" x2="364.2" y2="426.14" stroke="#555" stroke-width="0.9"/><line x1="361.7" y1="418.71" x2="364.2" y2="418.71" stroke="#555" stroke-width="0.9"/><line x1="361.7" y1="413.45" x2="364.2" y2="413.45" stroke="#555" stroke-width="0.9"/><line x1="361.7" y1="409.36" x2="364.2" y2="409.36" stroke="#555" stroke-width="0.9"/><line x1="361.7" y1="406.02" x2="364.2" y2="406.02" stroke="#555" stroke-width="0.9"/><line x1="361.7" y1="403.2" x2="364.2" y2="403.2" stroke="#555" stroke-width="0.9"/><line x1="361.7" y1="400.75" x2="364.2" y2="400.75" stroke="#555" stroke-width="0.9"/><line x1="361.7" y1="398.6" x2="364.2" y2="398.6" stroke="#555" stroke-width="0.9"/><line x1="361.7" y1="383.97" x2="364.2" y2="383.97" stroke="#555" stroke-width="0.9"/><line x1="361.7" y1="376.55" x2="364.2" y2="376.55" stroke="#555" stroke-width="0.9"/><line x1="361.7" y1="371.28" x2="364.2" y2="371.28" stroke="#555" stroke-width="0.9"/><line x1="361.7" y1="367.19" x2="364.2" y2="367.19" stroke="#555" stroke-width="0.9"/><line x1="361.7" y1="363.85" x2="364.2" y2="363.85" stroke="#555" stroke-width="0.9"/><line x1="361.7" y1="361.03" x2="364.2" y2="361.03" stroke="#555" stroke-width="0.9"/><line x1="361.7" y1="358.59" x2="364.2" y2="358.59" stroke="#555" stroke-width="0.9"/><line x1="361.7" y1="356.43" x2="364.2" y2="356.43" stroke="#555" stroke-width="0.9"/>
<line x1="376.88" y1="481" x2="376.88" y2="483.5" stroke="#555" stroke-width="0.9"/><line x1="384.3" y1="481" x2="384.3" y2="483.5" stroke="#555" stroke-width="0.9"/><line x1="389.57" y1="481" x2="389.57" y2="483.5" stroke="#555" stroke-width="0.9"/><line x1="393.65" y1="481" x2="393.65" y2="483.5" stroke="#555" stroke-width="0.9"/><line x1="396.99" y1="481" x2="396.99" y2="483.5" stroke="#555" stroke-width="0.9"/><line x1="399.81" y1="481" x2="399.81" y2="483.5" stroke="#555" stroke-width="0.9"/><line x1="402.25" y1="481" x2="402.25" y2="483.5" stroke="#555" stroke-width="0.9"/><line x1="404.41" y1="481" x2="404.41" y2="483.5" stroke="#555" stroke-width="0.9"/><line x1="419.02" y1="481" x2="419.02" y2="483.5" stroke="#555" stroke-width="0.9"/><line x1="426.44" y1="481" x2="426.44" y2="483.5" stroke="#555" stroke-width="0.9"/><line x1="431.7" y1="481" x2="431.7" y2="483.5" stroke="#555" stroke-width="0.9"/><line x1="435.78" y1="481" x2="435.78" y2="483.5" stroke="#555" stroke-width="0.9"/><line x1="439.12" y1="481" x2="439.12" y2="483.5" stroke="#555" stroke-width="0.9"/><line x1="441.94" y1="481" x2="441.94" y2="483.5" stroke="#555" stroke-width="0.9"/><line x1="444.38" y1="481" x2="444.38" y2="483.5" stroke="#555" stroke-width="0.9"/><line x1="446.54" y1="481" x2="446.54" y2="483.5" stroke="#555" stroke-width="0.9"/><line x1="461.15" y1="481" x2="461.15" y2="483.5" stroke="#555" stroke-width="0.9"/><line x1="468.57" y1="481" x2="468.57" y2="483.5" stroke="#555" stroke-width="0.9"/><line x1="473.83" y1="481" x2="473.83" y2="483.5" stroke="#555" stroke-width="0.9"/><line x1="477.92" y1="481" x2="477.92" y2="483.5" stroke="#555" stroke-width="0.9"/><line x1="481.25" y1="481" x2="481.25" y2="483.5" stroke="#555" stroke-width="0.9"/><line x1="484.07" y1="481" x2="484.07" y2="483.5" stroke="#555" stroke-width="0.9"/><line x1="486.52" y1="481" x2="486.52" y2="483.5" stroke="#555" stroke-width="0.9"/><line x1="488.67" y1="481" x2="488.67" y2="483.5" stroke="#555" stroke-width="0.9"/>
<text x="344.39" y="452.57" font-size="8.2" font-weight="bold" textLength="11.23" lengthAdjust="spacingAndGlyphs">10</text>
<text x="355.06" y="449.68" font-size="6.4" font-weight="bold" textLength="3.28" lengthAdjust="spacingAndGlyphs">0</text>
<text x="344.39" y="420.95" font-size="8.2" font-weight="bold" textLength="11.23" lengthAdjust="spacingAndGlyphs">10</text>
<text x="354.94" y="418.05" font-size="6.4" font-weight="bold" textLength="3.31" lengthAdjust="spacingAndGlyphs">1</text>
<text x="344.39" y="389.32" font-size="8.2" font-weight="bold" textLength="11.23" lengthAdjust="spacingAndGlyphs">10</text>
<text x="355.10" y="386.43" font-size="6.4" font-weight="bold" textLength="3.24" lengthAdjust="spacingAndGlyphs">2</text>
<text x="344.39" y="357.70" font-size="8.2" font-weight="bold" textLength="11.23" lengthAdjust="spacingAndGlyphs">10</text>
<text x="355.16" y="354.80" font-size="6.4" font-weight="bold" textLength="3.15" lengthAdjust="spacingAndGlyphs">3</text>
<text x="391.21" y="491.20" font-size="8.2" font-weight="bold" textLength="11.01" lengthAdjust="spacingAndGlyphs">10</text>
<text x="402.06" y="488.20" font-size="6.4" font-weight="bold" textLength="3.40" lengthAdjust="spacingAndGlyphs">0</text>
<text x="422.81" y="491.20" font-size="8.2" font-weight="bold" textLength="11.01" lengthAdjust="spacingAndGlyphs">10</text>
<text x="433.53" y="488.20" font-size="6.4" font-weight="bold" textLength="3.43" lengthAdjust="spacingAndGlyphs">1</text>
<text x="454.41" y="491.20" font-size="8.2" font-weight="bold" textLength="11.01" lengthAdjust="spacingAndGlyphs">10</text>
<text x="465.29" y="488.20" font-size="6.4" font-weight="bold" textLength="3.36" lengthAdjust="spacingAndGlyphs">2</text>
<text x="477.61" y="491.20" font-size="8.2" font-weight="bold" textLength="11.01" lengthAdjust="spacingAndGlyphs">10</text>
<text x="488.55" y="488.20" font-size="6.4" font-weight="bold" textLength="3.26" lengthAdjust="spacingAndGlyphs">3</text>
<path d="M128.1 581.4h1.1v1.1h-1.1z M127.2 586.1h1.1v1.1h-1.1z M144.7 592.7h1.1v1.1h-1.1z M150.1 612.3h1.1v1.1h-1.1z M147.5 601.1h1.1v1.1h-1.1z M133.5 607.9h1.1v1.1h-1.1z M138.8 598.4h1.1v1.1h-1.1z M129.3 589.1h1.1v1.1h-1.1z M130.2 584h1.1v1.1h-1.1z M136.2 573.2h1.1v1.1h-1.1z M135 589.5h1.1v1.1h-1.1z M141.8 593.1h1.1v1.1h-1.1z M131.6 582.6h1.1v1.1h-1.1z M108.6 573.2h1.1v1.1h-1.1z M144.4 562.3h1.1v1.1h-1.1z M134.3 565.6h1.1v1.1h-1.1z M133 609.8h1.1v1.1h-1.1z M155.8 607.7h1.1v1.1h-1.1z M159.3 598h1.1v1.1h-1.1z M128.4 599.3h1.1v1.1h-1.1z M130.9 597.5h1.1v1.1h-1.1z M118.6 575.5h1.1v1.1h-1.1z M134.2 620.8h1.1v1.1h-1.1z M127.6 590.9h1.1v1.1h-1.1z M132.1 592.3h1.1v1.1h-1.1z M121.4 587h1.1v1.1h-1.1z M123.6 573.2h1.1v1.1h-1.1z M155 590.2h1.1v1.1h-1.1z M154.4 600.5h1.1v1.1h-1.1z M134.5 596.6h1.1v1.1h-1.1z M131.1 573.1h1.1v1.1h-1.1z M126.3 563.1h1.1v1.1h-1.1z M141.2 610.6h1.1v1.1h-1.1z M133.2 605.4h1.1v1.1h-1.1z M126.4 573.3h1.1v1.1h-1.1z M145 583h1.1v1.1h-1.1z M131.7 617h1.1v1.1h-1.1z M132 585.9h1.1v1.1h-1.1z M121.4 588h1.1v1.1h-1.1z M138 590.8h1.1v1.1h-1.1z M123.5 597.4h1.1v1.1h-1.1z M117.1 591.9h1.1v1.1h-1.1z M126.5 603.9h1.1v1.1h-1.1z M129.3 587.6h1.1v1.1h-1.1z M122.7 584.7h1.1v1.1h-1.1z M147 564.5h1.1v1.1h-1.1z M137.5 593.1h1.1v1.1h-1.1z M138.3 617.5h1.1v1.1h-1.1z M135.9 597.4h1.1v1.1h-1.1z M142 604.7h1.1v1.1h-1.1z M132.6 594.8h1.1v1.1h-1.1z M146.3 591.9h1.1v1.1h-1.1z M128.3 563.8h1.1v1.1h-1.1z M130.5 585.5h1.1v1.1h-1.1z M136.9 563.6h1.1v1.1h-1.1z M130.2 579.9h1.1v1.1h-1.1z M117 586.8h1.1v1.1h-1.1z M115.4 587.9h1.1v1.1h-1.1z M129.1 578.8h1.1v1.1h-1.1z M134.9 590.2h1.1v1.1h-1.1z M154.9 584.8h1.1v1.1h-1.1z M123.5 598.1h1.1v1.1h-1.1z M126.6 583.6h1.1v1.1h-1.1z M128.1 589.2h1.1v1.1h-1.1z M148.4 576.4h1.1v1.1h-1.1z M131.2 591.5h1.1v1.1h-1.1z M131.7 587.5h1.1v1.1h-1.1z M142.3 607.5h1.1v1.1h-1.1z M106.7 610.4h1.1v1.1h-1.1z M145.5 592.7h1.1v1.1h-1.1z M139.3 615.7h1.1v1.1h-1.1z M136.1 567.2h1.1v1.1h-1.1z M115.6 585.8h1.1v1.1h-1.1z M143.2 580.6h1.1v1.1h-1.1z M144.3 604.6h1.1v1.1h-1.1z M156.4 572.4h1.1v1.1h-1.1z M130.9 575.5h1.1v1.1h-1.1z M143.9 569.5h1.1v1.1h-1.1z M144.1 594.6h1.1v1.1h-1.1z M134 591.7h1.1v1.1h-1.1z M116.5 596h1.1v1.1h-1.1z M145.7 601.6h1.1v1.1h-1.1z M133.4 585.4h1.1v1.1h-1.1z M150.5 591.5h1.1v1.1h-1.1z M135.9 595.9h1.1v1.1h-1.1z M118.7 586.6h1.1v1.1h-1.1z M133.8 582.7h1.1v1.1h-1.1z M134.7 587.1h1.1v1.1h-1.1z M140.5 599.3h1.1v1.1h-1.1z M141.6 592.9h1.1v1.1h-1.1z M134.7 593h1.1v1.1h-1.1z M118.9 599.6h1.1v1.1h-1.1z M125 608.9h1.1v1.1h-1.1z M136.7 601.3h1.1v1.1h-1.1z M137.5 604.7h1.1v1.1h-1.1z M142.8 576.5h1.1v1.1h-1.1z M136.2 592.7h1.1v1.1h-1.1z M144.5 589.8h1.1v1.1h-1.1z M138.8 600.7h1.1v1.1h-1.1z M127 571.3h1.1v1.1h-1.1z M152.3 588.8h1.1v1.1h-1.1z M134.6 595.7h1.1v1.1h-1.1z M136.4 606.2h1.1v1.1h-1.1z M136.1 590h1.1v1.1h-1.1z M140.4 569.6h1.1v1.1h-1.1z M132.9 596.6h1.1v1.1h-1.1z M134.1 575.5h1.1v1.1h-1.1z M131.7 609.8h1.1v1.1h-1.1z M136.3 576.2h1.1v1.1h-1.1z M109.3 574h1.1v1.1h-1.1z M126.9 586.1h1.1v1.1h-1.1z M128.7 588h1.1v1.1h-1.1z M133.3 595.3h1.1v1.1h-1.1z M128.8 583.7h1.1v1.1h-1.1z M145.5 597.1h1.1v1.1h-1.1z M143.6 601h1.1v1.1h-1.1z M117.2 549.9h1.1v1.1h-1.1z M136 586.2h1.1v1.1h-1.1z M144.7 567.3h1.1v1.1h-1.1z M129.4 595.7h1.1v1.1h-1.1z M131.7 593.4h1.1v1.1h-1.1z M137.9 580h1.1v1.1h-1.1z M119.9 587.3h1.1v1.1h-1.1z M132.1 582.7h1.1v1.1h-1.1z M144.5 574.5h1.1v1.1h-1.1z M149.3 573.5h1.1v1.1h-1.1z M127.7 603.9h1.1v1.1h-1.1z M146.5 590.3h1.1v1.1h-1.1z M122.7 590.3h1.1v1.1h-1.1z M154.4 588.6h1.1v1.1h-1.1z M136.7 570.5h1.1v1.1h-1.1z M133.7 591.1h1.1v1.1h-1.1z M130.8 586.3h1.1v1.1h-1.1z M143 603h1.1v1.1h-1.1z M147.6 575.1h1.1v1.1h-1.1z M138.2 572.9h1.1v1.1h-1.1z M146.9 591h1.1v1.1h-1.1z M145.9 593.5h1.1v1.1h-1.1z M144.2 588.7h1.1v1.1h-1.1z M156.6 591.4h1.1v1.1h-1.1z M144.8 579.7h1.1v1.1h-1.1z M137.7 596.5h1.1v1.1h-1.1z M137.9 582.7h1.1v1.1h-1.1z M118.1 574.2h1.1v1.1h-1.1z M121.4 602.7h1.1v1.1h-1.1z M135.6 609.8h1.1v1.1h-1.1z M136.2 593.9h1.1v1.1h-1.1z M133.2 596.7h1.1v1.1h-1.1z M132.8 586.3h1.1v1.1h-1.1z M148.4 602.3h1.1v1.1h-1.1z M141.4 606.6h1.1v1.1h-1.1z M118.1 591.2h1.1v1.1h-1.1z M144.6 597.6h1.1v1.1h-1.1z M141.8 584.2h1.1v1.1h-1.1z M138.9 607.3h1.1v1.1h-1.1z M140.4 603.9h1.1v1.1h-1.1z M126.3 569.3h1.1v1.1h-1.1z M139.1 584.6h1.1v1.1h-1.1z M128.6 580.5h1.1v1.1h-1.1z M132.3 578.5h1.1v1.1h-1.1z M144.6 590h1.1v1.1h-1.1z M138.4 600.8h1.1v1.1h-1.1z M136.6 593.8h1.1v1.1h-1.1z M150.2 589.6h1.1v1.1h-1.1z M127.4 559.1h1.1v1.1h-1.1z M146.6 592.9h1.1v1.1h-1.1z M135.7 576.1h1.1v1.1h-1.1z M132.6 602.7h1.1v1.1h-1.1z M127 566.9h1.1v1.1h-1.1z M138.4 574.2h1.1v1.1h-1.1z M150.2 576.7h1.1v1.1h-1.1z M127.4 594.1h1.1v1.1h-1.1z M123.1 586.3h1.1v1.1h-1.1z M150.3 593.2h1.1v1.1h-1.1z M143.4 586.4h1.1v1.1h-1.1z M135.7 578.2h1.1v1.1h-1.1z M126.7 623h1.1v1.1h-1.1z M149.2 604.6h1.1v1.1h-1.1z M116.6 569.2h1.1v1.1h-1.1z M142.1 576.6h1.1v1.1h-1.1z M132.3 585.6h1.1v1.1h-1.1z M137.7 599.8h1.1v1.1h-1.1z M132.3 594.3h1.1v1.1h-1.1z M130 606.7h1.1v1.1h-1.1z M135.6 613h1.1v1.1h-1.1z M139.3 579.4h1.1v1.1h-1.1z M116.7 600.2h1.1v1.1h-1.1z M122.3 596.1h1.1v1.1h-1.1z M140.6 578.8h1.1v1.1h-1.1z M136.3 579.1h1.1v1.1h-1.1z M152.8 582.5h1.1v1.1h-1.1z M123.2 591.7h1.1v1.1h-1.1z M123.5 578.2h1.1v1.1h-1.1z M135.1 592.4h1.1v1.1h-1.1z M138.7 603h1.1v1.1h-1.1z M138.3 591.9h1.1v1.1h-1.1z M137.4 588.6h1.1v1.1h-1.1z M144.3 599.4h1.1v1.1h-1.1z M116.3 586.8h1.1v1.1h-1.1z M135.6 579.8h1.1v1.1h-1.1z M124.3 559.5h1.1v1.1h-1.1z M130.3 597.5h1.1v1.1h-1.1z M149.2 573.2h1.1v1.1h-1.1z M135.5 609h1.1v1.1h-1.1z M150.5 605.4h1.1v1.1h-1.1z M158.1 571.4h1.1v1.1h-1.1z M130 579.1h1.1v1.1h-1.1z M132.9 576.4h1.1v1.1h-1.1z M131.5 573.7h1.1v1.1h-1.1z M139.3 604.2h1.1v1.1h-1.1z M149.1 584.5h1.1v1.1h-1.1z M142 577.4h1.1v1.1h-1.1z M136 586.3h1.1v1.1h-1.1z M136 590.8h1.1v1.1h-1.1z M126.9 591.3h1.1v1.1h-1.1z M137.6 582.5h1.1v1.1h-1.1z M123 591.2h1.1v1.1h-1.1z M126.2 582.7h1.1v1.1h-1.1z M136.2 589.5h1.1v1.1h-1.1z M128.4 592.8h1.1v1.1h-1.1z M121.3 593.1h1.1v1.1h-1.1z M127.2 553.4h1.1v1.1h-1.1z M121.4 570.8h1.1v1.1h-1.1z M137.7 573.8h1.1v1.1h-1.1z M134.3 574.3h1.1v1.1h-1.1z M121.2 586.3h1.1v1.1h-1.1z M135.2 569.3h1.1v1.1h-1.1z M142.8 593.9h1.1v1.1h-1.1z M141.3 613.4h1.1v1.1h-1.1z M133.8 594.1h1.1v1.1h-1.1z M131.1 592.2h1.1v1.1h-1.1z M151.5 575.2h1.1v1.1h-1.1z M132.3 565.8h1.1v1.1h-1.1z M136.7 595.6h1.1v1.1h-1.1z M130.1 578.1h1.1v1.1h-1.1z M122.6 586.1h1.1v1.1h-1.1z M130.1 590.2h1.1v1.1h-1.1z M139.4 581.8h1.1v1.1h-1.1z M135.9 575.7h1.1v1.1h-1.1z M136.8 581.4h1.1v1.1h-1.1z M136.5 590.5h1.1v1.1h-1.1z M124.2 578.8h1.1v1.1h-1.1z M133.7 578.7h1.1v1.1h-1.1z M146.2 597.7h1.1v1.1h-1.1z M133.6 583.4h1.1v1.1h-1.1z M108.6 573.1h1.1v1.1h-1.1z M125.4 580h1.1v1.1h-1.1z M113 573.1h1.1v1.1h-1.1z M127.3 598.2h1.1v1.1h-1.1z M152.4 564.2h1.1v1.1h-1.1z M131.2 592.6h1.1v1.1h-1.1z M128 599.9h1.1v1.1h-1.1z M122.6 612.9h1.1v1.1h-1.1z M129.4 573.3h1.1v1.1h-1.1z M145.6 577.5h1.1v1.1h-1.1z M122.9 570.5h1.1v1.1h-1.1z M139.7 591.8h1.1v1.1h-1.1z M139.4 602h1.1v1.1h-1.1z M134.2 618.8h1.1v1.1h-1.1z M142.3 590.4h1.1v1.1h-1.1z M130 586.1h1.1v1.1h-1.1z M126.3 584.8h1.1v1.1h-1.1z M125.6 576.1h1.1v1.1h-1.1z M133.6 569h1.1v1.1h-1.1z M149.8 565.5h1.1v1.1h-1.1z M148.2 609.4h1.1v1.1h-1.1z M127.3 587.9h1.1v1.1h-1.1z M138.1 604.9h1.1v1.1h-1.1z M127.8 598h1.1v1.1h-1.1z M128.2 604.6h1.1v1.1h-1.1z M116.9 593.9h1.1v1.1h-1.1z M136.8 580.2h1.1v1.1h-1.1z M128 584.5h1.1v1.1h-1.1z M134.6 599.7h1.1v1.1h-1.1z M112.9 609.7h1.1v1.1h-1.1z M139.6 595.8h1.1v1.1h-1.1z M117.2 571.9h1.1v1.1h-1.1z M125.1 602.6h1.1v1.1h-1.1z M137.7 580.2h1.1v1.1h-1.1z M137.2 584.3h1.1v1.1h-1.1z M134.2 577.8h1.1v1.1h-1.1z M139 602.7h1.1v1.1h-1.1z M134.5 560.1h1.1v1.1h-1.1z M124.7 591.8h1.1v1.1h-1.1z M119.7 610.4h1.1v1.1h-1.1z M131.6 614.6h1.1v1.1h-1.1z M136.6 609.7h1.1v1.1h-1.1z M131.2 572.2h1.1v1.1h-1.1z M139.4 592.7h1.1v1.1h-1.1z M127.1 604.6h1.1v1.1h-1.1z M141.6 594.4h1.1v1.1h-1.1z M123.6 587.6h1.1v1.1h-1.1z M138.4 575.8h1.1v1.1h-1.1z M127.2 601.1h1.1v1.1h-1.1z M142.2 570h1.1v1.1h-1.1z M131.3 569.2h1.1v1.1h-1.1z M114.5 582.2h1.1v1.1h-1.1z M131.8 591.3h1.1v1.1h-1.1z M158.7 603.8h1.1v1.1h-1.1z M142.8 585.2h1.1v1.1h-1.1z M130.7 603.7h1.1v1.1h-1.1z M146.9 575.4h1.1v1.1h-1.1z M132.2 584.7h1.1v1.1h-1.1z M131.4 585.9h1.1v1.1h-1.1z M139.2 580.3h1.1v1.1h-1.1z M132.6 606.1h1.1v1.1h-1.1z M130.6 571.6h1.1v1.1h-1.1z M123.7 571.4h1.1v1.1h-1.1z M158.7 601.1h1.1v1.1h-1.1z M123.9 596.1h1.1v1.1h-1.1z M113.4 603.3h1.1v1.1h-1.1z M146.4 577.8h1.1v1.1h-1.1z M121.7 601.4h1.1v1.1h-1.1z M137.7 566.6h1.1v1.1h-1.1z M127.5 589.8h1.1v1.1h-1.1z M128.7 595.7h1.1v1.1h-1.1z M136.7 563.3h1.1v1.1h-1.1z M122.1 582.8h1.1v1.1h-1.1z M132.6 571.8h1.1v1.1h-1.1z M137.5 578h1.1v1.1h-1.1z M143.2 584h1.1v1.1h-1.1z M126.1 585.6h1.1v1.1h-1.1z M118.1 566.1h1.1v1.1h-1.1z M164.6 593.2h1.1v1.1h-1.1z M120.4 575.2h1.1v1.1h-1.1z M138.7 592.9h1.1v1.1h-1.1z M132.5 580.6h1.1v1.1h-1.1z M126.7 569.3h1.1v1.1h-1.1z M151.2 598h1.1v1.1h-1.1z M130.4 587.7h1.1v1.1h-1.1z M145.1 593.2h1.1v1.1h-1.1z M127.2 597h1.1v1.1h-1.1z M143.5 592.3h1.1v1.1h-1.1z M118.8 582.6h1.1v1.1h-1.1z M138.1 595.3h1.1v1.1h-1.1z M136.5 601.6h1.1v1.1h-1.1z M127.6 581.9h1.1v1.1h-1.1z M121.8 577.9h1.1v1.1h-1.1z M127.4 583.1h1.1v1.1h-1.1z M124.1 605.9h1.1v1.1h-1.1z M127.6 589.8h1.1v1.1h-1.1z M139.4 608h1.1v1.1h-1.1z M140.4 583.2h1.1v1.1h-1.1z M129 591.1h1.1v1.1h-1.1z M143.9 607.9h1.1v1.1h-1.1z M148.6 609.6h1.1v1.1h-1.1z M136.5 599.2h1.1v1.1h-1.1z M137.8 574.3h1.1v1.1h-1.1z M140.1 589.2h1.1v1.1h-1.1z M126.8 590.6h1.1v1.1h-1.1z M137.9 575.4h1.1v1.1h-1.1z M133.7 606.5h1.1v1.1h-1.1z M147.9 592.9h1.1v1.1h-1.1z M128.2 579.4h1.1v1.1h-1.1z M142.3 573.1h1.1v1.1h-1.1z M129.6 593.7h1.1v1.1h-1.1z M127.9 568.7h1.1v1.1h-1.1z M133 602.8h1.1v1.1h-1.1z M138.7 583h1.1v1.1h-1.1z M131.1 573.7h1.1v1.1h-1.1z M127.4 598.6h1.1v1.1h-1.1z M134 578.5h1.1v1.1h-1.1z M131 588.7h1.1v1.1h-1.1z M136.2 591.8h1.1v1.1h-1.1z M124.9 578.9h1.1v1.1h-1.1z M145.4 593.3h1.1v1.1h-1.1z M128.5 608.4h1.1v1.1h-1.1z M143.4 602.2h1.1v1.1h-1.1z M138.2 588.3h1.1v1.1h-1.1z M152.7 597.1h1.1v1.1h-1.1z M136.9 575.1h1.1v1.1h-1.1z M131.3 588.2h1.1v1.1h-1.1z M144.1 602.8h1.1v1.1h-1.1z M128.5 577.2h1.1v1.1h-1.1z M120.5 595h1.1v1.1h-1.1z M134.9 600.8h1.1v1.1h-1.1z M137.2 591.1h1.1v1.1h-1.1z M138.2 612.6h1.1v1.1h-1.1z M149.5 582h1.1v1.1h-1.1z M127.4 584.2h1.1v1.1h-1.1z M140.8 570.1h1.1v1.1h-1.1z M138.8 592.3h1.1v1.1h-1.1z M132.7 592h1.1v1.1h-1.1z M124.3 581h1.1v1.1h-1.1z M135.8 595h1.1v1.1h-1.1z M130.1 611.8h1.1v1.1h-1.1z M122.7 585.3h1.1v1.1h-1.1z M125 609.4h1.1v1.1h-1.1z M149.3 597h1.1v1.1h-1.1z M140.3 586.6h1.1v1.1h-1.1z M125 563.3h1.1v1.1h-1.1z M131.5 568.3h1.1v1.1h-1.1z M126.3 591.2h1.1v1.1h-1.1z M139.3 601.1h1.1v1.1h-1.1z M127.5 583.9h1.1v1.1h-1.1z M128.5 571.3h1.1v1.1h-1.1z M131.8 617.9h1.1v1.1h-1.1z M129.4 596h1.1v1.1h-1.1z M139.8 599.2h1.1v1.1h-1.1z M116 589.9h1.1v1.1h-1.1z M144 581.1h1.1v1.1h-1.1z M139.2 585.5h1.1v1.1h-1.1z M114.7 586.9h1.1v1.1h-1.1z M137.8 594.6h1.1v1.1h-1.1z M128.8 583h1.1v1.1h-1.1z M128.7 594.5h1.1v1.1h-1.1z M132.6 594.5h1.1v1.1h-1.1z M126.9 560h1.1v1.1h-1.1z M124.3 583.6h1.1v1.1h-1.1z M130 595.7h1.1v1.1h-1.1z M145.5 594.7h1.1v1.1h-1.1z M119.2 594.3h1.1v1.1h-1.1z M140.8 578.8h1.1v1.1h-1.1z M125.4 587.9h1.1v1.1h-1.1z M138.4 587.7h1.1v1.1h-1.1z M140.5 591.9h1.1v1.1h-1.1z M129.2 579.7h1.1v1.1h-1.1z M133 586.6h1.1v1.1h-1.1z M126.6 563.5h1.1v1.1h-1.1z M144 570.3h1.1v1.1h-1.1z M153.5 606.6h1.1v1.1h-1.1z M131 600.9h1.1v1.1h-1.1z M134.1 602.3h1.1v1.1h-1.1z M126.5 599.1h1.1v1.1h-1.1z M136.9 581.5h1.1v1.1h-1.1z M137.6 612.4h1.1v1.1h-1.1z M165.5 613.7h1.1v1.1h-1.1z M130.6 573.5h1.1v1.1h-1.1z M130.2 577.9h1.1v1.1h-1.1z M131.9 583.1h1.1v1.1h-1.1z M145.1 600.4h1.1v1.1h-1.1z M134.4 593.1h1.1v1.1h-1.1z M135.3 591.1h1.1v1.1h-1.1z M135.2 597.1h1.1v1.1h-1.1z M122.4 598.5h1.1v1.1h-1.1z M152.4 596.9h1.1v1.1h-1.1z M120.7 594.6h1.1v1.1h-1.1z M133.8 607.6h1.1v1.1h-1.1z M124.8 552.2h1.1v1.1h-1.1z M138.9 596.9h1.1v1.1h-1.1z M142.7 604.6h1.1v1.1h-1.1z M115.1 594.9h1.1v1.1h-1.1z M133 575.3h1.1v1.1h-1.1z M125.5 600.3h1.1v1.1h-1.1z M136.9 581.2h1.1v1.1h-1.1z M110.7 568.9h1.1v1.1h-1.1z M135.7 586.5h1.1v1.1h-1.1z M110.7 587.8h1.1v1.1h-1.1z M121.1 592.5h1.1v1.1h-1.1z M134.4 598.4h1.1v1.1h-1.1z M140.6 592.1h1.1v1.1h-1.1z M140.6 581.7h1.1v1.1h-1.1z M140.6 605h1.1v1.1h-1.1z M130.9 607.9h1.1v1.1h-1.1z M138.6 601.1h1.1v1.1h-1.1z M130.8 577.4h1.1v1.1h-1.1z M127.3 584.1h1.1v1.1h-1.1z M144.3 589.1h1.1v1.1h-1.1z M134.3 585.6h1.1v1.1h-1.1z M131.5 571h1.1v1.1h-1.1z M144.3 603.2h1.1v1.1h-1.1z M129.9 596.8h1.1v1.1h-1.1z M130.7 577.6h1.1v1.1h-1.1z M118.9 575h1.1v1.1h-1.1z M127.2 603.5h1.1v1.1h-1.1z M124.3 615.3h1.1v1.1h-1.1z M123.6 597.4h1.1v1.1h-1.1z M124.3 593.9h1.1v1.1h-1.1z M132.5 590.7h1.1v1.1h-1.1z M137.7 583.2h1.1v1.1h-1.1z M131.7 610.2h1.1v1.1h-1.1z M136.7 601h1.1v1.1h-1.1z M154.9 585.6h1.1v1.1h-1.1z M122.3 563.4h1.1v1.1h-1.1z M126.6 567.3h1.1v1.1h-1.1z M170 580.3h1.1v1.1h-1.1z M152 591.1h1.1v1.1h-1.1z M132.6 607.2h1.1v1.1h-1.1z M151 593.1h1.1v1.1h-1.1z M136.3 591.7h1.1v1.1h-1.1z M132.9 604.5h1.1v1.1h-1.1z M119.8 613.6h1.1v1.1h-1.1z M133.3 607.4h1.1v1.1h-1.1z M124.7 611.3h1.1v1.1h-1.1z M126.4 615.4h1.1v1.1h-1.1z M128.9 612.8h1.1v1.1h-1.1z M113.9 606.7h1.1v1.1h-1.1z M131.1 604h1.1v1.1h-1.1z M130.5 608.7h1.1v1.1h-1.1z M119.8 615.1h1.1v1.1h-1.1z M121.1 607.7h1.1v1.1h-1.1z M121.2 612.2h1.1v1.1h-1.1z M155.1 601.4h1.1v1.1h-1.1z M127.6 610.7h1.1v1.1h-1.1z M137.3 610.1h1.1v1.1h-1.1z M103.3 618.5h1.1v1.1h-1.1z M117 611.6h1.1v1.1h-1.1z M114.2 606.5h1.1v1.1h-1.1z M122.9 616.2h1.1v1.1h-1.1z M136.2 608.9h1.1v1.1h-1.1z M132.8 610h1.1v1.1h-1.1z M128.9 612.6h1.1v1.1h-1.1z M133.9 608.8h1.1v1.1h-1.1z M126.4 613h1.1v1.1h-1.1z M128.6 607.9h1.1v1.1h-1.1z M144.8 609.6h1.1v1.1h-1.1z M135.3 612.9h1.1v1.1h-1.1z M139.9 601h1.1v1.1h-1.1z M148.1 610.8h1.1v1.1h-1.1z M115.5 612.5h1.1v1.1h-1.1z M150.1 614.4h1.1v1.1h-1.1z M115.5 609.6h1.1v1.1h-1.1z M141 604.9h1.1v1.1h-1.1z M125.9 610.4h1.1v1.1h-1.1z M149.2 610.4h1.1v1.1h-1.1z M140.8 608.5h1.1v1.1h-1.1z M119.7 616.8h1.1v1.1h-1.1z M133.9 603.3h1.1v1.1h-1.1z M134.1 615h1.1v1.1h-1.1z M121.6 612.9h1.1v1.1h-1.1z M130.4 609.4h1.1v1.1h-1.1z M121.9 608.5h1.1v1.1h-1.1z M125 605.2h1.1v1.1h-1.1z M127.3 604.4h1.1v1.1h-1.1z M128.4 611.4h1.1v1.1h-1.1z M117.4 616.1h1.1v1.1h-1.1z M146.9 618.4h1.1v1.1h-1.1z M114.1 618.2h1.1v1.1h-1.1z M129.8 611.6h1.1v1.1h-1.1z M121.8 611.8h1.1v1.1h-1.1z M141.5 614.5h1.1v1.1h-1.1z M123.6 608.5h1.1v1.1h-1.1z M123.5 614.7h1.1v1.1h-1.1z M146.2 606.6h1.1v1.1h-1.1z M127.6 609.9h1.1v1.1h-1.1z M120.2 613.8h1.1v1.1h-1.1z M133.1 604.8h1.1v1.1h-1.1z M117.4 617.8h1.1v1.1h-1.1z M130.8 614.4h1.1v1.1h-1.1z M122.7 609.9h1.1v1.1h-1.1z M132.2 609.4h1.1v1.1h-1.1z M116.7 611.8h1.1v1.1h-1.1z M136.6 606.7h1.1v1.1h-1.1z M138.1 615.3h1.1v1.1h-1.1z M119.1 611.9h1.1v1.1h-1.1z M127.2 615h1.1v1.1h-1.1z M134.3 605.4h1.1v1.1h-1.1z M114.3 616.9h1.1v1.1h-1.1z M128.8 613.9h1.1v1.1h-1.1z M131 619.4h1.1v1.1h-1.1z M115.7 617.2h1.1v1.1h-1.1z M119.6 615.4h1.1v1.1h-1.1z M140.9 605h1.1v1.1h-1.1z M131.6 610.5h1.1v1.1h-1.1z M124.8 612h1.1v1.1h-1.1z M117.3 607.1h1.1v1.1h-1.1z M134.2 616h1.1v1.1h-1.1z M122 604.6h1.1v1.1h-1.1z M150.6 617.3h1.1v1.1h-1.1z M131.2 606.7h1.1v1.1h-1.1z M121.9 613h1.1v1.1h-1.1z M118.2 619.7h1.1v1.1h-1.1z M129 613.8h1.1v1.1h-1.1z M117.5 607.3h1.1v1.1h-1.1z M119.9 613.2h1.1v1.1h-1.1z M125 610.4h1.1v1.1h-1.1z M130.8 612.9h1.1v1.1h-1.1z M142.3 610.9h1.1v1.1h-1.1z M117.7 611.8h1.1v1.1h-1.1z M142.1 609.1h1.1v1.1h-1.1z M128.1 610.1h1.1v1.1h-1.1z M131.7 613.1h1.1v1.1h-1.1z M119.7 610.7h1.1v1.1h-1.1z M136.9 617.2h1.1v1.1h-1.1z M136.7 616.1h1.1v1.1h-1.1z M124.4 610h1.1v1.1h-1.1z M136.8 606.1h1.1v1.1h-1.1z M127.1 602.7h1.1v1.1h-1.1z M123.9 608.4h1.1v1.1h-1.1z M115.8 614.7h1.1v1.1h-1.1z M120.4 610h1.1v1.1h-1.1z M125.1 608.2h1.1v1.1h-1.1z M141.6 609.4h1.1v1.1h-1.1z M129.6 605.4h1.1v1.1h-1.1z M123 610.2h1.1v1.1h-1.1z M124.7 609h1.1v1.1h-1.1z M129.1 619.5h1.1v1.1h-1.1z M126.4 611.2h1.1v1.1h-1.1z M123.8 624.3h1.1v1.1h-1.1z M143.5 614.6h1.1v1.1h-1.1z M134.6 608.4h1.1v1.1h-1.1z M126.2 612.9h1.1v1.1h-1.1z M128.9 607.6h1.1v1.1h-1.1z M120 614.4h1.1v1.1h-1.1z M130.8 601.5h1.1v1.1h-1.1z M128.6 618.1h1.1v1.1h-1.1z M121.4 613h1.1v1.1h-1.1z M113.4 615.9h1.1v1.1h-1.1z M116.8 605.7h1.1v1.1h-1.1z M124.6 623.5h1.1v1.1h-1.1z M109.6 622.8h1.1v1.1h-1.1z M94.3 634h1.1v1.1h-1.1z M80.8 619h1.1v1.1h-1.1z M121 632.7h1.1v1.1h-1.1z M95.2 635.3h1.1v1.1h-1.1z M88.3 618h1.1v1.1h-1.1z M111.1 633h1.1v1.1h-1.1z M89.2 635.5h1.1v1.1h-1.1z M106.9 624.6h1.1v1.1h-1.1z M88.1 639.6h1.1v1.1h-1.1z M81.2 619.6h1.1v1.1h-1.1z M108.1 627.8h1.1v1.1h-1.1z M107.3 626h1.1v1.1h-1.1z M107.4 633.2h1.1v1.1h-1.1z M105.4 639.3h1.1v1.1h-1.1z M101.5 632.9h1.1v1.1h-1.1z M81.4 633.1h1.1v1.1h-1.1z M98.5 632.4h1.1v1.1h-1.1z M99 637.7h1.1v1.1h-1.1z M109.3 644h1.1v1.1h-1.1z M79.2 640.2h1.1v1.1h-1.1z M108.5 619.8h1.1v1.1h-1.1z M105.8 634.8h1.1v1.1h-1.1z M90.1 629.8h1.1v1.1h-1.1z M102.5 646.5h1.1v1.1h-1.1z M107.7 643.1h1.1v1.1h-1.1z M90.4 619.8h1.1v1.1h-1.1z M97.5 627.5h1.1v1.1h-1.1z M114.5 618.3h1.1v1.1h-1.1z M119.8 639h1.1v1.1h-1.1z M105 635.8h1.1v1.1h-1.1z M114.3 631.8h1.1v1.1h-1.1z M105.6 619.9h1.1v1.1h-1.1z M121 639.4h1.1v1.1h-1.1z M99.6 624.5h1.1v1.1h-1.1z M100.9 638.7h1.1v1.1h-1.1z M78.2 622.1h1.1v1.1h-1.1z M90.2 650.1h1.1v1.1h-1.1z M97.9 645.4h1.1v1.1h-1.1z M131.6 649.6h1.1v1.1h-1.1z M102.7 616.6h1.1v1.1h-1.1z M89.3 640.6h1.1v1.1h-1.1z M83.7 641.2h1.1v1.1h-1.1z M101.6 626.4h1.1v1.1h-1.1z M106.3 633.3h1.1v1.1h-1.1z M95.8 627.9h1.1v1.1h-1.1z M98.8 640.3h1.1v1.1h-1.1z M109.1 622.4h1.1v1.1h-1.1z M114.6 639.5h1.1v1.1h-1.1z M114.2 625.4h1.1v1.1h-1.1z M102.9 640.2h1.1v1.1h-1.1z M105.3 630.3h1.1v1.1h-1.1z M88.2 635.4h1.1v1.1h-1.1z M93.5 640.3h1.1v1.1h-1.1z M113 636.3h1.1v1.1h-1.1z M107.3 642.8h1.1v1.1h-1.1z M91.2 622.4h1.1v1.1h-1.1z M84.7 620.4h1.1v1.1h-1.1z M85.3 632.6h1.1v1.1h-1.1z M112.8 624.5h1.1v1.1h-1.1z M104.3 633.1h1.1v1.1h-1.1z M108.8 638.9h1.1v1.1h-1.1z M118.3 635.1h1.1v1.1h-1.1z M102.5 616.5h1.1v1.1h-1.1z M97.9 621.3h1.1v1.1h-1.1z M132.9 631.6h1.1v1.1h-1.1z M102.3 641h1.1v1.1h-1.1z M104.9 646.4h1.1v1.1h-1.1z M80.8 639.9h1.1v1.1h-1.1z M83.2 633.6h1.1v1.1h-1.1z M106.8 639.4h1.1v1.1h-1.1z M87.8 633.3h1.1v1.1h-1.1z M105.3 619.5h1.1v1.1h-1.1z M91.4 634.7h1.1v1.1h-1.1z M116.9 635.8h1.1v1.1h-1.1z M91.3 630.6h1.1v1.1h-1.1z M89.6 638.1h1.1v1.1h-1.1z M119.6 632.6h1.1v1.1h-1.1z M93.2 640h1.1v1.1h-1.1z M84.6 613.7h1.1v1.1h-1.1z M100.5 639.1h1.1v1.1h-1.1z M82.9 645.5h1.1v1.1h-1.1z M112.8 631.1h1.1v1.1h-1.1z M113 641.7h1.1v1.1h-1.1z M116 645.3h1.1v1.1h-1.1z M87.9 635.5h1.1v1.1h-1.1z M129 630.5h1.1v1.1h-1.1z M92.5 619.2h1.1v1.1h-1.1z M103.6 632.3h1.1v1.1h-1.1z M88.7 633.8h1.1v1.1h-1.1z M97.4 628.5h1.1v1.1h-1.1z M100.5 631.6h1.1v1.1h-1.1z M91.3 630h1.1v1.1h-1.1z M89.2 616.2h1.1v1.1h-1.1z M85.3 629.3h1.1v1.1h-1.1z M85.9 631.6h1.1v1.1h-1.1z M87.8 644.4h1.1v1.1h-1.1z M107.4 634.4h1.1v1.1h-1.1z M102.4 634.9h1.1v1.1h-1.1z M121.4 634h1.1v1.1h-1.1z M104.5 626.3h1.1v1.1h-1.1z M104.7 619.6h1.1v1.1h-1.1z M82.1 634.3h1.1v1.1h-1.1z M77.3 622h1.1v1.1h-1.1z M115.1 637.2h1.1v1.1h-1.1z M121.5 637.5h1.1v1.1h-1.1z M109.8 631h1.1v1.1h-1.1z M97.2 632.7h1.1v1.1h-1.1z M115.9 643.5h1.1v1.1h-1.1z M117.5 635.7h1.1v1.1h-1.1z M117.4 627.6h1.1v1.1h-1.1z M84.3 625.7h1.1v1.1h-1.1z M109.4 628.9h1.1v1.1h-1.1z M102.9 645.9h1.1v1.1h-1.1z M117 623.9h1.1v1.1h-1.1z M94.9 617.8h1.1v1.1h-1.1z M103.9 643.2h1.1v1.1h-1.1z M101.1 628.5h1.1v1.1h-1.1z M110.7 625.9h1.1v1.1h-1.1z M108 634.9h1.1v1.1h-1.1z M83.6 639.1h1.1v1.1h-1.1z M108.7 627.3h1.1v1.1h-1.1z M93.8 615.7h1.1v1.1h-1.1z M106.6 630.6h1.1v1.1h-1.1z M116 625.8h1.1v1.1h-1.1z M98.1 617.6h1.1v1.1h-1.1z M113.1 628.5h1.1v1.1h-1.1z M101.2 620.5h1.1v1.1h-1.1z M87.2 628.1h1.1v1.1h-1.1z M104.5 629.9h1.1v1.1h-1.1z M110.5 625.2h1.1v1.1h-1.1z M85.9 632.4h1.1v1.1h-1.1z M101.1 641.4h1.1v1.1h-1.1z M109.2 639.2h1.1v1.1h-1.1z M101.6 624.8h1.1v1.1h-1.1z M92.9 618.2h1.1v1.1h-1.1z M93.6 623.7h1.1v1.1h-1.1z M94.2 643.9h1.1v1.1h-1.1z M94.4 626.3h1.1v1.1h-1.1z M101.8 629.3h1.1v1.1h-1.1z M117.2 624.8h1.1v1.1h-1.1z M99.9 637.1h1.1v1.1h-1.1z M123.6 634.8h1.1v1.1h-1.1z M94.5 632.6h1.1v1.1h-1.1z M112.7 643.1h1.1v1.1h-1.1z M115.9 640.1h1.1v1.1h-1.1z M83.1 612h1.1v1.1h-1.1z M97.5 634.7h1.1v1.1h-1.1z M99.2 625.3h1.1v1.1h-1.1z M106.8 620.8h1.1v1.1h-1.1z M98.9 636.8h1.1v1.1h-1.1z M110.8 625.4h1.1v1.1h-1.1z M107.3 633.1h1.1v1.1h-1.1z M100.6 631.3h1.1v1.1h-1.1z M101.9 620.9h1.1v1.1h-1.1z M135.3 642.2h1.1v1.1h-1.1z M84.8 617.7h1.1v1.1h-1.1z M109.4 636h1.1v1.1h-1.1z M88.5 636.4h1.1v1.1h-1.1z M85.2 629.7h1.1v1.1h-1.1z M95.6 635.2h1.1v1.1h-1.1z M105.5 643.4h1.1v1.1h-1.1z M92.3 639.8h1.1v1.1h-1.1z M105.1 641.9h1.1v1.1h-1.1z M114.3 637.5h1.1v1.1h-1.1z M135.7 627.9h1.1v1.1h-1.1z M92.5 627.2h1.1v1.1h-1.1z M101 618h1.1v1.1h-1.1z M81.1 634.9h1.1v1.1h-1.1z M101.3 635.9h1.1v1.1h-1.1z M95.6 644h1.1v1.1h-1.1z M100.3 619.2h1.1v1.1h-1.1z M103.2 643.8h1.1v1.1h-1.1z M94.7 627.7h1.1v1.1h-1.1z M93.5 632.3h1.1v1.1h-1.1z M95.5 617.6h1.1v1.1h-1.1z M112 639.5h1.1v1.1h-1.1z M103.8 635.7h1.1v1.1h-1.1z M76.9 626.4h1.1v1.1h-1.1z M99 627.1h1.1v1.1h-1.1z M109.4 632.7h1.1v1.1h-1.1z M122.2 616.5h1.1v1.1h-1.1z M84.2 629.1h1.1v1.1h-1.1z M87 631.5h1.1v1.1h-1.1z M98.8 637.8h1.1v1.1h-1.1z M93.7 620.7h1.1v1.1h-1.1z M87.2 621.9h1.1v1.1h-1.1z M98.5 646.6h1.1v1.1h-1.1z M105.1 638.2h1.1v1.1h-1.1z M100.3 635.8h1.1v1.1h-1.1z M113.2 625.8h1.1v1.1h-1.1z M98.9 618.2h1.1v1.1h-1.1z M111.3 639.2h1.1v1.1h-1.1z M110.2 625.6h1.1v1.1h-1.1z M115.2 635.4h1.1v1.1h-1.1z M98.8 600.1h1.1v1.1h-1.1z M109.4 595h1.1v1.1h-1.1z M86.5 607.7h1.1v1.1h-1.1z M100.5 604.5h1.1v1.1h-1.1z M91.6 611h1.1v1.1h-1.1z M105.8 612.6h1.1v1.1h-1.1z M90.7 609.4h1.1v1.1h-1.1z M102.1 607.6h1.1v1.1h-1.1z M104.8 615.8h1.1v1.1h-1.1z M94 593.4h1.1v1.1h-1.1z M97.3 594.8h1.1v1.1h-1.1z M93.4 595.6h1.1v1.1h-1.1z M98.5 601.9h1.1v1.1h-1.1z M92.6 602.7h1.1v1.1h-1.1z M96.3 605.4h1.1v1.1h-1.1z M99.2 605.8h1.1v1.1h-1.1z M87.5 586.2h1.1v1.1h-1.1z M109 613.3h1.1v1.1h-1.1z M105.7 606.6h1.1v1.1h-1.1z M89.9 605h1.1v1.1h-1.1z M110.2 605.9h1.1v1.1h-1.1z M105.3 606.4h1.1v1.1h-1.1z M101.8 606.8h1.1v1.1h-1.1z M101.4 605.7h1.1v1.1h-1.1z M96.3 609.8h1.1v1.1h-1.1z M99.7 596.5h1.1v1.1h-1.1z M84.5 610.2h1.1v1.1h-1.1z M87.8 613.3h1.1v1.1h-1.1z M114.1 615.8h1.1v1.1h-1.1z M99.8 611.4h1.1v1.1h-1.1z M92.7 595.6h1.1v1.1h-1.1z M95.7 606.7h1.1v1.1h-1.1z M104.6 602.2h1.1v1.1h-1.1z M97.3 612.2h1.1v1.1h-1.1z M88.5 586.8h1.1v1.1h-1.1z M99 596.8h1.1v1.1h-1.1z M117.8 610.1h1.1v1.1h-1.1z M107.7 601.6h1.1v1.1h-1.1z M108.9 616.2h1.1v1.1h-1.1z M106.2 602.5h1.1v1.1h-1.1z M97 605.2h1.1v1.1h-1.1z M96.1 597.8h1.1v1.1h-1.1z M101.2 595.8h1.1v1.1h-1.1z M106.4 595.5h1.1v1.1h-1.1z M99.6 617.7h1.1v1.1h-1.1z M103.5 613.5h1.1v1.1h-1.1z M110.1 612.3h1.1v1.1h-1.1z M103.6 600.8h1.1v1.1h-1.1z M99 598.1h1.1v1.1h-1.1z M101.3 607.2h1.1v1.1h-1.1z M96.6 610.4h1.1v1.1h-1.1z M96.4 612.6h1.1v1.1h-1.1z M106.1 606.7h1.1v1.1h-1.1z M100.8 611.3h1.1v1.1h-1.1z M114.9 627.9h1.1v1.1h-1.1z M96.9 607.7h1.1v1.1h-1.1z M105.2 616.5h1.1v1.1h-1.1z M100.3 614.9h1.1v1.1h-1.1z M99.9 607.5h1.1v1.1h-1.1z M103.6 612h1.1v1.1h-1.1z M103.7 562.7h1.1v1.1h-1.1z M96.7 618h1.1v1.1h-1.1z M82.6 594.1h1.1v1.1h-1.1z M98.8 594.4h1.1v1.1h-1.1z M99 595.6h1.1v1.1h-1.1z M99.1 575.7h1.1v1.1h-1.1z M89.6 577.6h1.1v1.1h-1.1z M88.5 610.9h1.1v1.1h-1.1z M90.5 594.8h1.1v1.1h-1.1z M81 615.7h1.1v1.1h-1.1z M85.2 572.1h1.1v1.1h-1.1z M89.2 594h1.1v1.1h-1.1z M96.4 594.8h1.1v1.1h-1.1z M109.2 562.1h1.1v1.1h-1.1z M102.4 596.3h1.1v1.1h-1.1z M96.5 582.3h1.1v1.1h-1.1z M102.9 584.9h1.1v1.1h-1.1z M94.2 570.8h1.1v1.1h-1.1z M81.5 594.5h1.1v1.1h-1.1z M102 599.1h1.1v1.1h-1.1z M102.6 611.7h1.1v1.1h-1.1z M101 608.8h1.1v1.1h-1.1z M107.3 616.9h1.1v1.1h-1.1z M105 616.6h1.1v1.1h-1.1z M106.5 600.6h1.1v1.1h-1.1z M128.3 572.6h1.1v1.1h-1.1z M143.3 537.3h1.1v1.1h-1.1z M116.8 632.7h1.1v1.1h-1.1z M144.8 543.1h1.1v1.1h-1.1z M129.7 623.2h1.1v1.1h-1.1z M143.1 593.4h1.1v1.1h-1.1z M155.5 584.7h1.1v1.1h-1.1z M115.5 539.7h1.1v1.1h-1.1z M162.8 580.4h1.1v1.1h-1.1z M114.2 532h1.1v1.1h-1.1z M140.4 621.6h1.1v1.1h-1.1z M124.7 614.9h1.1v1.1h-1.1z M114.3 546.3h1.1v1.1h-1.1z M139.8 591.1h1.1v1.1h-1.1z M127.2 551.4h1.1v1.1h-1.1z M116.6 615.4h1.1v1.1h-1.1z M159.8 552.7h1.1v1.1h-1.1z M126.2 550.7h1.1v1.1h-1.1z M166.4 564.1h1.1v1.1h-1.1z M147.3 646.6h1.1v1.1h-1.1z" fill="#222"/>
<rect x="46" y="528" width="125.3" height="123.6" fill="none" stroke="#333" stroke-width="1.4"/>
<line x1="75.5" y1="528" x2="75.5" y2="651.6" stroke="#333" stroke-width="1.2"/>
<line x1="46" y1="619.4" x2="171.3" y2="619.4" stroke="#333" stroke-width="1.2"/>
<rect x="112.1" y="528.7" width="43.5" height="89.6" fill="none" stroke="#111" stroke-width="1.5"/>
<text x="122" y="544.8" font-size="16" font-weight="bold">75%</text>
<text x="46.2" y="540.8" font-size="10.4" font-weight="bold" fill="#111">R1</text>
<text x="76.4" y="540.8" font-size="10.4" font-weight="bold" fill="#111">R2</text>
<text x="46.2" y="633.8" font-size="10.4" font-weight="bold" fill="#111">R3</text>
<text x="76.4" y="633.8" font-size="10.4" font-weight="bold" fill="#111">R4</text>
<line x1="43.5" y1="639.2" x2="46" y2="639.2" stroke="#555" stroke-width="0.9"/><line x1="43.5" y1="631.94" x2="46" y2="631.94" stroke="#555" stroke-width="0.9"/><line x1="43.5" y1="626.8" x2="46" y2="626.8" stroke="#555" stroke-width="0.9"/><line x1="43.5" y1="622.8" x2="46" y2="622.8" stroke="#555" stroke-width="0.9"/><line x1="43.5" y1="619.54" x2="46" y2="619.54" stroke="#555" stroke-width="0.9"/><line x1="43.5" y1="616.78" x2="46" y2="616.78" stroke="#555" stroke-width="0.9"/><line x1="43.5" y1="614.39" x2="46" y2="614.39" stroke="#555" stroke-width="0.9"/><line x1="43.5" y1="612.29" x2="46" y2="612.29" stroke="#555" stroke-width="0.9"/><line x1="43.5" y1="598" x2="46" y2="598" stroke="#555" stroke-width="0.9"/><line x1="43.5" y1="590.74" x2="46" y2="590.74" stroke="#555" stroke-width="0.9"/><line x1="43.5" y1="585.6" x2="46" y2="585.6" stroke="#555" stroke-width="0.9"/><line x1="43.5" y1="581.6" x2="46" y2="581.6" stroke="#555" stroke-width="0.9"/><line x1="43.5" y1="578.34" x2="46" y2="578.34" stroke="#555" stroke-width="0.9"/><line x1="43.5" y1="575.58" x2="46" y2="575.58" stroke="#555" stroke-width="0.9"/><line x1="43.5" y1="573.19" x2="46" y2="573.19" stroke="#555" stroke-width="0.9"/><line x1="43.5" y1="571.09" x2="46" y2="571.09" stroke="#555" stroke-width="0.9"/><line x1="43.5" y1="556.8" x2="46" y2="556.8" stroke="#555" stroke-width="0.9"/><line x1="43.5" y1="549.54" x2="46" y2="549.54" stroke="#555" stroke-width="0.9"/><line x1="43.5" y1="544.4" x2="46" y2="544.4" stroke="#555" stroke-width="0.9"/><line x1="43.5" y1="540.4" x2="46" y2="540.4" stroke="#555" stroke-width="0.9"/><line x1="43.5" y1="537.14" x2="46" y2="537.14" stroke="#555" stroke-width="0.9"/><line x1="43.5" y1="534.38" x2="46" y2="534.38" stroke="#555" stroke-width="0.9"/><line x1="43.5" y1="531.99" x2="46" y2="531.99" stroke="#555" stroke-width="0.9"/><line x1="43.5" y1="529.89" x2="46" y2="529.89" stroke="#555" stroke-width="0.9"/>
<line x1="58.57" y1="651.6" x2="58.57" y2="654.1" stroke="#555" stroke-width="0.9"/><line x1="65.93" y1="651.6" x2="65.93" y2="654.1" stroke="#555" stroke-width="0.9"/><line x1="71.15" y1="651.6" x2="71.15" y2="654.1" stroke="#555" stroke-width="0.9"/><line x1="75.19" y1="651.6" x2="75.19" y2="654.1" stroke="#555" stroke-width="0.9"/><line x1="78.5" y1="651.6" x2="78.5" y2="654.1" stroke="#555" stroke-width="0.9"/><line x1="81.3" y1="651.6" x2="81.3" y2="654.1" stroke="#555" stroke-width="0.9"/><line x1="83.72" y1="651.6" x2="83.72" y2="654.1" stroke="#555" stroke-width="0.9"/><line x1="85.86" y1="651.6" x2="85.86" y2="654.1" stroke="#555" stroke-width="0.9"/><line x1="100.34" y1="651.6" x2="100.34" y2="654.1" stroke="#555" stroke-width="0.9"/><line x1="107.69" y1="651.6" x2="107.69" y2="654.1" stroke="#555" stroke-width="0.9"/><line x1="112.91" y1="651.6" x2="112.91" y2="654.1" stroke="#555" stroke-width="0.9"/><line x1="116.96" y1="651.6" x2="116.96" y2="654.1" stroke="#555" stroke-width="0.9"/><line x1="120.27" y1="651.6" x2="120.27" y2="654.1" stroke="#555" stroke-width="0.9"/><line x1="123.06" y1="651.6" x2="123.06" y2="654.1" stroke="#555" stroke-width="0.9"/><line x1="125.49" y1="651.6" x2="125.49" y2="654.1" stroke="#555" stroke-width="0.9"/><line x1="127.62" y1="651.6" x2="127.62" y2="654.1" stroke="#555" stroke-width="0.9"/><line x1="142.11" y1="651.6" x2="142.11" y2="654.1" stroke="#555" stroke-width="0.9"/><line x1="149.46" y1="651.6" x2="149.46" y2="654.1" stroke="#555" stroke-width="0.9"/><line x1="154.68" y1="651.6" x2="154.68" y2="654.1" stroke="#555" stroke-width="0.9"/><line x1="158.73" y1="651.6" x2="158.73" y2="654.1" stroke="#555" stroke-width="0.9"/><line x1="162.03" y1="651.6" x2="162.03" y2="654.1" stroke="#555" stroke-width="0.9"/><line x1="164.83" y1="651.6" x2="164.83" y2="654.1" stroke="#555" stroke-width="0.9"/><line x1="167.25" y1="651.6" x2="167.25" y2="654.1" stroke="#555" stroke-width="0.9"/><line x1="169.39" y1="651.6" x2="169.39" y2="654.1" stroke="#555" stroke-width="0.9"/>
<text x="26.19" y="623.90" font-size="8.2" font-weight="bold" textLength="11.23" lengthAdjust="spacingAndGlyphs">10</text>
<text x="36.86" y="621.00" font-size="6.4" font-weight="bold" textLength="3.28" lengthAdjust="spacingAndGlyphs">0</text>
<text x="26.19" y="593.00" font-size="8.2" font-weight="bold" textLength="11.23" lengthAdjust="spacingAndGlyphs">10</text>
<text x="36.74" y="590.10" font-size="6.4" font-weight="bold" textLength="3.31" lengthAdjust="spacingAndGlyphs">1</text>
<text x="26.19" y="562.10" font-size="8.2" font-weight="bold" textLength="11.23" lengthAdjust="spacingAndGlyphs">10</text>
<text x="36.90" y="559.20" font-size="6.4" font-weight="bold" textLength="3.24" lengthAdjust="spacingAndGlyphs">2</text>
<text x="26.19" y="531.20" font-size="8.2" font-weight="bold" textLength="11.23" lengthAdjust="spacingAndGlyphs">10</text>
<text x="36.96" y="528.30" font-size="6.4" font-weight="bold" textLength="3.15" lengthAdjust="spacingAndGlyphs">3</text>
<text x="72.73" y="661.80" font-size="8.2" font-weight="bold" textLength="11.01" lengthAdjust="spacingAndGlyphs">10</text>
<text x="83.58" y="658.80" font-size="6.4" font-weight="bold" textLength="3.40" lengthAdjust="spacingAndGlyphs">0</text>
<text x="104.06" y="661.80" font-size="8.2" font-weight="bold" textLength="11.01" lengthAdjust="spacingAndGlyphs">10</text>
<text x="114.78" y="658.80" font-size="6.4" font-weight="bold" textLength="3.43" lengthAdjust="spacingAndGlyphs">1</text>
<text x="135.38" y="661.80" font-size="8.2" font-weight="bold" textLength="11.01" lengthAdjust="spacingAndGlyphs">10</text>
<text x="146.26" y="658.80" font-size="6.4" font-weight="bold" textLength="3.36" lengthAdjust="spacingAndGlyphs">2</text>
<text x="158.31" y="661.80" font-size="8.2" font-weight="bold" textLength="11.01" lengthAdjust="spacingAndGlyphs">10</text>
<text x="169.25" y="658.80" font-size="6.4" font-weight="bold" textLength="3.26" lengthAdjust="spacingAndGlyphs">3</text>
<path d="M258.8 636.4h1.1v1.1h-1.1z M260.2 643.4h1.1v1.1h-1.1z M279.1 635.9h1.1v1.1h-1.1z M275.8 630.5h1.1v1.1h-1.1z M243.1 640.4h1.1v1.1h-1.1z M289.3 640.8h1.1v1.1h-1.1z M274.1 644.5h1.1v1.1h-1.1z M267.1 634.7h1.1v1.1h-1.1z M266.1 638.5h1.1v1.1h-1.1z M267.8 634.4h1.1v1.1h-1.1z M269.4 639.7h1.1v1.1h-1.1z M281.7 637.2h1.1v1.1h-1.1z M269.8 632.7h1.1v1.1h-1.1z M259.8 626.3h1.1v1.1h-1.1z M273 630.5h1.1v1.1h-1.1z M261.7 632.2h1.1v1.1h-1.1z M267.2 638.6h1.1v1.1h-1.1z M287.1 640.8h1.1v1.1h-1.1z M277.2 635h1.1v1.1h-1.1z M268.9 641.7h1.1v1.1h-1.1z M258 647.5h1.1v1.1h-1.1z M266.1 632.5h1.1v1.1h-1.1z M273.7 641h1.1v1.1h-1.1z M248.4 636.7h1.1v1.1h-1.1z M274.8 638.5h1.1v1.1h-1.1z M264.9 636h1.1v1.1h-1.1z M278.5 619.2h1.1v1.1h-1.1z M273.9 643.9h1.1v1.1h-1.1z M266.7 620.5h1.1v1.1h-1.1z M269 623.2h1.1v1.1h-1.1z M243.8 635.2h1.1v1.1h-1.1z M282.1 642.8h1.1v1.1h-1.1z M277.2 640.7h1.1v1.1h-1.1z M268.4 627.8h1.1v1.1h-1.1z M260.7 626h1.1v1.1h-1.1z M251.7 635h1.1v1.1h-1.1z M281.6 624.5h1.1v1.1h-1.1z M247.5 644.4h1.1v1.1h-1.1z M282.3 648.7h1.1v1.1h-1.1z M266.1 634.3h1.1v1.1h-1.1z M269.2 634.2h1.1v1.1h-1.1z M250.6 635.6h1.1v1.1h-1.1z M258 627.5h1.1v1.1h-1.1z M272.9 630.1h1.1v1.1h-1.1z M267.2 638.7h1.1v1.1h-1.1z M265.5 631.6h1.1v1.1h-1.1z M277.2 642.7h1.1v1.1h-1.1z M277.3 642.3h1.1v1.1h-1.1z M267.9 630.7h1.1v1.1h-1.1z M251.4 635.4h1.1v1.1h-1.1z M279 634.7h1.1v1.1h-1.1z M256.4 626.5h1.1v1.1h-1.1z M250.9 639.3h1.1v1.1h-1.1z M270.6 645.7h1.1v1.1h-1.1z M246.4 638.3h1.1v1.1h-1.1z M264.8 648.6h1.1v1.1h-1.1z M250.4 628h1.1v1.1h-1.1z M270.6 634.7h1.1v1.1h-1.1z M273.9 626h1.1v1.1h-1.1z M257 635.6h1.1v1.1h-1.1z M266 645.7h1.1v1.1h-1.1z M274.9 636.2h1.1v1.1h-1.1z M264.9 632.7h1.1v1.1h-1.1z M268.9 641.4h1.1v1.1h-1.1z M267.3 645.3h1.1v1.1h-1.1z M277 638.2h1.1v1.1h-1.1z M285.5 636.7h1.1v1.1h-1.1z M275.7 646.2h1.1v1.1h-1.1z M258.6 638.8h1.1v1.1h-1.1z M244.6 644.1h1.1v1.1h-1.1z M259.6 630.4h1.1v1.1h-1.1z M285.7 637.3h1.1v1.1h-1.1z M272.7 631.9h1.1v1.1h-1.1z M272.5 624.8h1.1v1.1h-1.1z M250.5 626.5h1.1v1.1h-1.1z M275.9 640.7h1.1v1.1h-1.1z M287.4 644.1h1.1v1.1h-1.1z M256.7 632.8h1.1v1.1h-1.1z M281.5 633.8h1.1v1.1h-1.1z M289.8 647.7h1.1v1.1h-1.1z M267.8 630.8h1.1v1.1h-1.1z M278.8 641h1.1v1.1h-1.1z M250.3 625.5h1.1v1.1h-1.1z M276.1 624.3h1.1v1.1h-1.1z M259.6 636.4h1.1v1.1h-1.1z M273.8 631.5h1.1v1.1h-1.1z M258.5 623.7h1.1v1.1h-1.1z M258.6 636.9h1.1v1.1h-1.1z M274.8 630.2h1.1v1.1h-1.1z M253.9 648h1.1v1.1h-1.1z M273.2 640.2h1.1v1.1h-1.1z M246.9 629.8h1.1v1.1h-1.1z M271.8 627.7h1.1v1.1h-1.1z M269.9 635.6h1.1v1.1h-1.1z M273.6 631.2h1.1v1.1h-1.1z M288.3 628.2h1.1v1.1h-1.1z M279.7 641.5h1.1v1.1h-1.1z M274.8 630.5h1.1v1.1h-1.1z M259.6 639.3h1.1v1.1h-1.1z M277.7 632.4h1.1v1.1h-1.1z M259.6 637.9h1.1v1.1h-1.1z M278.2 638.6h1.1v1.1h-1.1z M267.7 643.9h1.1v1.1h-1.1z M278.2 643.2h1.1v1.1h-1.1z M263.3 628.4h1.1v1.1h-1.1z M254.4 641.3h1.1v1.1h-1.1z M282.7 630.7h1.1v1.1h-1.1z M271.5 641.8h1.1v1.1h-1.1z M260.8 634.7h1.1v1.1h-1.1z M250.8 637.4h1.1v1.1h-1.1z M267.2 617.5h1.1v1.1h-1.1z M274.3 628.8h1.1v1.1h-1.1z M266.8 636.6h1.1v1.1h-1.1z M284 629.1h1.1v1.1h-1.1z M271.4 634.9h1.1v1.1h-1.1z M299.9 645.7h1.1v1.1h-1.1z M267.6 635.9h1.1v1.1h-1.1z M264.9 628.4h1.1v1.1h-1.1z M268 643.5h1.1v1.1h-1.1z M254.2 638.1h1.1v1.1h-1.1z M272 630.4h1.1v1.1h-1.1z M251.1 638.3h1.1v1.1h-1.1z M274.7 620.9h1.1v1.1h-1.1z M280.1 623.1h1.1v1.1h-1.1z M252.2 636h1.1v1.1h-1.1z M277.6 634.8h1.1v1.1h-1.1z M285.1 636.5h1.1v1.1h-1.1z M284.6 624.9h1.1v1.1h-1.1z M248.2 634.6h1.1v1.1h-1.1z M272.7 637.9h1.1v1.1h-1.1z M255.8 624.3h1.1v1.1h-1.1z M263.4 647.4h1.1v1.1h-1.1z M264 646.5h1.1v1.1h-1.1z M275.5 640.3h1.1v1.1h-1.1z M247.5 641.8h1.1v1.1h-1.1z M273.3 643h1.1v1.1h-1.1z M277.4 626.3h1.1v1.1h-1.1z M260.4 645.7h1.1v1.1h-1.1z M257.9 625.9h1.1v1.1h-1.1z M256.4 640h1.1v1.1h-1.1z M275.5 618.3h1.1v1.1h-1.1z M254.4 641.4h1.1v1.1h-1.1z M262.7 622.7h1.1v1.1h-1.1z M286.5 645.1h1.1v1.1h-1.1z M257.4 638.7h1.1v1.1h-1.1z M270.9 639.2h1.1v1.1h-1.1z M275.2 634.3h1.1v1.1h-1.1z M279 638.9h1.1v1.1h-1.1z M272.8 643.5h1.1v1.1h-1.1z M259.2 629.2h1.1v1.1h-1.1z M245 625.7h1.1v1.1h-1.1z M261.5 643.5h1.1v1.1h-1.1z M252.8 618.3h1.1v1.1h-1.1z M254.3 643.9h1.1v1.1h-1.1z M250.8 618h1.1v1.1h-1.1z M276.8 636h1.1v1.1h-1.1z M272.9 646.4h1.1v1.1h-1.1z M276 645.8h1.1v1.1h-1.1z M261.7 624.6h1.1v1.1h-1.1z M281.2 633.6h1.1v1.1h-1.1z M266.1 643.3h1.1v1.1h-1.1z M269.8 642.9h1.1v1.1h-1.1z M290.4 615.1h1.1v1.1h-1.1z M272.1 639.8h1.1v1.1h-1.1z M273.3 628.9h1.1v1.1h-1.1z M261.3 649.9h1.1v1.1h-1.1z M269.8 630.7h1.1v1.1h-1.1z M268.1 640.6h1.1v1.1h-1.1z M251.5 642.6h1.1v1.1h-1.1z M279.4 644.1h1.1v1.1h-1.1z M256.7 638.7h1.1v1.1h-1.1z M255.2 630.7h1.1v1.1h-1.1z M269.3 632.2h1.1v1.1h-1.1z M258.6 630.3h1.1v1.1h-1.1z M263.6 627.4h1.1v1.1h-1.1z M269.8 633.5h1.1v1.1h-1.1z M269.4 637.1h1.1v1.1h-1.1z M270.5 634.6h1.1v1.1h-1.1z M294.2 646.5h1.1v1.1h-1.1z M276.2 634.9h1.1v1.1h-1.1z M278.1 644.3h1.1v1.1h-1.1z M279.4 640.7h1.1v1.1h-1.1z M251.7 646.9h1.1v1.1h-1.1z M252.2 639.3h1.1v1.1h-1.1z M282.7 646.9h1.1v1.1h-1.1z M252 640.9h1.1v1.1h-1.1z M257.5 635.7h1.1v1.1h-1.1z M273.9 644.6h1.1v1.1h-1.1z M252.1 626.9h1.1v1.1h-1.1z M255.9 636.8h1.1v1.1h-1.1z M256.2 637.1h1.1v1.1h-1.1z M252.8 642.4h1.1v1.1h-1.1z M257.3 624.9h1.1v1.1h-1.1z M257.2 635.5h1.1v1.1h-1.1z M281.9 642.6h1.1v1.1h-1.1z M284.9 644.2h1.1v1.1h-1.1z M246.2 630.5h1.1v1.1h-1.1z M255.6 638.4h1.1v1.1h-1.1z M260.2 625.4h1.1v1.1h-1.1z M259.8 636.4h1.1v1.1h-1.1z M258.2 635.4h1.1v1.1h-1.1z M253.4 636.9h1.1v1.1h-1.1z M258.1 645.5h1.1v1.1h-1.1z M264.7 643.3h1.1v1.1h-1.1z M264.4 639.7h1.1v1.1h-1.1z M273.9 642.4h1.1v1.1h-1.1z M251.9 634.2h1.1v1.1h-1.1z M257.1 638.5h1.1v1.1h-1.1z M281.6 640h1.1v1.1h-1.1z M251 631.2h1.1v1.1h-1.1z M290.3 639.7h1.1v1.1h-1.1z M268.1 636.2h1.1v1.1h-1.1z M275.4 638.7h1.1v1.1h-1.1z M275.3 630.2h1.1v1.1h-1.1z M268.8 630.4h1.1v1.1h-1.1z M251.4 626.3h1.1v1.1h-1.1z M268.9 631.3h1.1v1.1h-1.1z M284.1 649.8h1.1v1.1h-1.1z M293.4 649.1h1.1v1.1h-1.1z M285.5 638.4h1.1v1.1h-1.1z M284.2 647.3h1.1v1.1h-1.1z M265.7 632.1h1.1v1.1h-1.1z M268.5 629.2h1.1v1.1h-1.1z M265 647h1.1v1.1h-1.1z M272.3 637.7h1.1v1.1h-1.1z M251 649.4h1.1v1.1h-1.1z M274.8 639.1h1.1v1.1h-1.1z M275.1 632.2h1.1v1.1h-1.1z M273 632.1h1.1v1.1h-1.1z M290.8 623.6h1.1v1.1h-1.1z M276.7 638h1.1v1.1h-1.1z M252.4 631h1.1v1.1h-1.1z M269.2 641.2h1.1v1.1h-1.1z M258.2 634.6h1.1v1.1h-1.1z M267 649.9h1.1v1.1h-1.1z M272.1 633h1.1v1.1h-1.1z M287.9 641.1h1.1v1.1h-1.1z M269.7 650.4h1.1v1.1h-1.1z M271.3 642.5h1.1v1.1h-1.1z M254.6 647.2h1.1v1.1h-1.1z M283.2 649h1.1v1.1h-1.1z M267.4 635.5h1.1v1.1h-1.1z M271.7 633.7h1.1v1.1h-1.1z M273.3 619.7h1.1v1.1h-1.1z M261 636.1h1.1v1.1h-1.1z M279.6 636.8h1.1v1.1h-1.1z M271.4 649h1.1v1.1h-1.1z M277.7 636h1.1v1.1h-1.1z M274.7 635.1h1.1v1.1h-1.1z M257.9 639.6h1.1v1.1h-1.1z M276.9 636.1h1.1v1.1h-1.1z M266.7 633.2h1.1v1.1h-1.1z M268.4 631h1.1v1.1h-1.1z M276.8 637.3h1.1v1.1h-1.1z M280.4 640.4h1.1v1.1h-1.1z M270.6 629.8h1.1v1.1h-1.1z M275.6 633.4h1.1v1.1h-1.1z M269.5 637.2h1.1v1.1h-1.1z M270.7 630.2h1.1v1.1h-1.1z M248.9 641.2h1.1v1.1h-1.1z M265.6 642.9h1.1v1.1h-1.1z M263.6 634h1.1v1.1h-1.1z M254.4 642.6h1.1v1.1h-1.1z M272.2 640.9h1.1v1.1h-1.1z M253.3 644.1h1.1v1.1h-1.1z M258.5 646.8h1.1v1.1h-1.1z M264.4 639.5h1.1v1.1h-1.1z M263.7 636.7h1.1v1.1h-1.1z M250.4 631.2h1.1v1.1h-1.1z M268.2 630.6h1.1v1.1h-1.1z M267.6 633.4h1.1v1.1h-1.1z M260.9 634.7h1.1v1.1h-1.1z M275.3 634.7h1.1v1.1h-1.1z M269.4 632.6h1.1v1.1h-1.1z M255.4 640h1.1v1.1h-1.1z M266.5 627.5h1.1v1.1h-1.1z M261.9 626.4h1.1v1.1h-1.1z M265.3 636.3h1.1v1.1h-1.1z M275.5 630.9h1.1v1.1h-1.1z M271.1 635h1.1v1.1h-1.1z M255.3 638.1h1.1v1.1h-1.1z M255.1 626.2h1.1v1.1h-1.1z M268.3 634.1h1.1v1.1h-1.1z M265 643.1h1.1v1.1h-1.1z M282.4 639.5h1.1v1.1h-1.1z M267.6 641h1.1v1.1h-1.1z M265.8 632.2h1.1v1.1h-1.1z M280 619.7h1.1v1.1h-1.1z M256.3 624.6h1.1v1.1h-1.1z M271.7 648.5h1.1v1.1h-1.1z M272.5 641h1.1v1.1h-1.1z M269.9 641.4h1.1v1.1h-1.1z M267.6 632.5h1.1v1.1h-1.1z M250.9 632.8h1.1v1.1h-1.1z M284.6 635.3h1.1v1.1h-1.1z M261.6 627.6h1.1v1.1h-1.1z M257.3 640.8h1.1v1.1h-1.1z M260.4 623.5h1.1v1.1h-1.1z M272.8 637.4h1.1v1.1h-1.1z M262.6 635.3h1.1v1.1h-1.1z M269.2 631.9h1.1v1.1h-1.1z M273 638.8h1.1v1.1h-1.1z M260.3 640.1h1.1v1.1h-1.1z M254.5 643.6h1.1v1.1h-1.1z M290.4 634.4h1.1v1.1h-1.1z M270.1 631.7h1.1v1.1h-1.1z M254.1 640.4h1.1v1.1h-1.1z M268.9 637.1h1.1v1.1h-1.1z M252.1 632.3h1.1v1.1h-1.1z M271 642.9h1.1v1.1h-1.1z M260.9 645.8h1.1v1.1h-1.1z M262.6 641.1h1.1v1.1h-1.1z M293.4 577.7h1.1v1.1h-1.1z M285.5 585.7h1.1v1.1h-1.1z M303 591.1h1.1v1.1h-1.1z M297.1 586.5h1.1v1.1h-1.1z M298.5 601h1.1v1.1h-1.1z M309.1 599.1h1.1v1.1h-1.1z M303 595.6h1.1v1.1h-1.1z M299.6 592.4h1.1v1.1h-1.1z M298.6 589.3h1.1v1.1h-1.1z M291.1 601.2h1.1v1.1h-1.1z M301.1 581.4h1.1v1.1h-1.1z M297.2 573.3h1.1v1.1h-1.1z M299.9 575.4h1.1v1.1h-1.1z M305.5 597.5h1.1v1.1h-1.1z M295 592.7h1.1v1.1h-1.1z M301 588.9h1.1v1.1h-1.1z M288.7 606h1.1v1.1h-1.1z M289.7 591h1.1v1.1h-1.1z M300.6 595.6h1.1v1.1h-1.1z M302.6 592.4h1.1v1.1h-1.1z M295.3 591h1.1v1.1h-1.1z M304 590.2h1.1v1.1h-1.1z M298.2 583.7h1.1v1.1h-1.1z M303 567.8h1.1v1.1h-1.1z M294.4 578.3h1.1v1.1h-1.1z M293.8 579.1h1.1v1.1h-1.1z M304.1 581.6h1.1v1.1h-1.1z M305.3 596.5h1.1v1.1h-1.1z M294.7 606.8h1.1v1.1h-1.1z M305.5 592h1.1v1.1h-1.1z M292.7 618.5h1.1v1.1h-1.1z M299.6 564.9h1.1v1.1h-1.1z M293.2 580.8h1.1v1.1h-1.1z M294.6 591h1.1v1.1h-1.1z M296.8 552.9h1.1v1.1h-1.1z M301.2 587h1.1v1.1h-1.1z M299.5 598.8h1.1v1.1h-1.1z M294.8 582.1h1.1v1.1h-1.1z M295.2 561.8h1.1v1.1h-1.1z M301.8 599.5h1.1v1.1h-1.1z M298.5 614.7h1.1v1.1h-1.1z M301.1 559.6h1.1v1.1h-1.1z M293.1 600.4h1.1v1.1h-1.1z M298 562.2h1.1v1.1h-1.1z M293.2 595.7h1.1v1.1h-1.1z M294.3 580.6h1.1v1.1h-1.1z M291.2 568.6h1.1v1.1h-1.1z M296.4 587.4h1.1v1.1h-1.1z M285.4 576.1h1.1v1.1h-1.1z M294.6 610.5h1.1v1.1h-1.1z M292.6 583.5h1.1v1.1h-1.1z M291.1 591h1.1v1.1h-1.1z M297.2 586.6h1.1v1.1h-1.1z M293.4 598.6h1.1v1.1h-1.1z M296.6 576h1.1v1.1h-1.1z M273.5 595.5h1.1v1.1h-1.1z M280.6 605.2h1.1v1.1h-1.1z M279.4 603.3h1.1v1.1h-1.1z M284.6 591.8h1.1v1.1h-1.1z M284.7 588.7h1.1v1.1h-1.1z M274.2 592h1.1v1.1h-1.1z" fill="#222"/>
<rect x="211" y="528" width="125.8" height="123.6" fill="none" stroke="#333" stroke-width="1.4"/>
<line x1="240.5" y1="528" x2="240.5" y2="651.6" stroke="#333" stroke-width="1.2"/>
<line x1="211" y1="617.6" x2="336.8" y2="617.6" stroke="#333" stroke-width="1.2"/>
<rect x="285.6" y="528.7" width="44.1" height="88.3" fill="none" stroke="#111" stroke-width="1.5"/>
<text x="292.8" y="544.8" font-size="16" font-weight="bold">11%</text>
<text x="211.2" y="540.8" font-size="10.4" font-weight="bold" fill="#111">R1</text>
<text x="241.4" y="540.8" font-size="10.4" font-weight="bold" fill="#111">R2</text>
<text x="211.2" y="633.8" font-size="10.4" font-weight="bold" fill="#111">R3</text>
<text x="241.4" y="633.8" font-size="10.4" font-weight="bold" fill="#111">R4</text>
<line x1="208.5" y1="639.2" x2="211" y2="639.2" stroke="#555" stroke-width="0.9"/><line x1="208.5" y1="631.94" x2="211" y2="631.94" stroke="#555" stroke-width="0.9"/><line x1="208.5" y1="626.8" x2="211" y2="626.8" stroke="#555" stroke-width="0.9"/><line x1="208.5" y1="622.8" x2="211" y2="622.8" stroke="#555" stroke-width="0.9"/><line x1="208.5" y1="619.54" x2="211" y2="619.54" stroke="#555" stroke-width="0.9"/><line x1="208.5" y1="616.78" x2="211" y2="616.78" stroke="#555" stroke-width="0.9"/><line x1="208.5" y1="614.39" x2="211" y2="614.39" stroke="#555" stroke-width="0.9"/><line x1="208.5" y1="612.29" x2="211" y2="612.29" stroke="#555" stroke-width="0.9"/><line x1="208.5" y1="598" x2="211" y2="598" stroke="#555" stroke-width="0.9"/><line x1="208.5" y1="590.74" x2="211" y2="590.74" stroke="#555" stroke-width="0.9"/><line x1="208.5" y1="585.6" x2="211" y2="585.6" stroke="#555" stroke-width="0.9"/><line x1="208.5" y1="581.6" x2="211" y2="581.6" stroke="#555" stroke-width="0.9"/><line x1="208.5" y1="578.34" x2="211" y2="578.34" stroke="#555" stroke-width="0.9"/><line x1="208.5" y1="575.58" x2="211" y2="575.58" stroke="#555" stroke-width="0.9"/><line x1="208.5" y1="573.19" x2="211" y2="573.19" stroke="#555" stroke-width="0.9"/><line x1="208.5" y1="571.09" x2="211" y2="571.09" stroke="#555" stroke-width="0.9"/><line x1="208.5" y1="556.8" x2="211" y2="556.8" stroke="#555" stroke-width="0.9"/><line x1="208.5" y1="549.54" x2="211" y2="549.54" stroke="#555" stroke-width="0.9"/><line x1="208.5" y1="544.4" x2="211" y2="544.4" stroke="#555" stroke-width="0.9"/><line x1="208.5" y1="540.4" x2="211" y2="540.4" stroke="#555" stroke-width="0.9"/><line x1="208.5" y1="537.14" x2="211" y2="537.14" stroke="#555" stroke-width="0.9"/><line x1="208.5" y1="534.38" x2="211" y2="534.38" stroke="#555" stroke-width="0.9"/><line x1="208.5" y1="531.99" x2="211" y2="531.99" stroke="#555" stroke-width="0.9"/><line x1="208.5" y1="529.89" x2="211" y2="529.89" stroke="#555" stroke-width="0.9"/>
<line x1="223.62" y1="651.6" x2="223.62" y2="654.1" stroke="#555" stroke-width="0.9"/><line x1="231.01" y1="651.6" x2="231.01" y2="654.1" stroke="#555" stroke-width="0.9"/><line x1="236.25" y1="651.6" x2="236.25" y2="654.1" stroke="#555" stroke-width="0.9"/><line x1="240.31" y1="651.6" x2="240.31" y2="654.1" stroke="#555" stroke-width="0.9"/><line x1="243.63" y1="651.6" x2="243.63" y2="654.1" stroke="#555" stroke-width="0.9"/><line x1="246.44" y1="651.6" x2="246.44" y2="654.1" stroke="#555" stroke-width="0.9"/><line x1="248.87" y1="651.6" x2="248.87" y2="654.1" stroke="#555" stroke-width="0.9"/><line x1="251.01" y1="651.6" x2="251.01" y2="654.1" stroke="#555" stroke-width="0.9"/><line x1="265.56" y1="651.6" x2="265.56" y2="654.1" stroke="#555" stroke-width="0.9"/><line x1="272.94" y1="651.6" x2="272.94" y2="654.1" stroke="#555" stroke-width="0.9"/><line x1="278.18" y1="651.6" x2="278.18" y2="654.1" stroke="#555" stroke-width="0.9"/><line x1="282.24" y1="651.6" x2="282.24" y2="654.1" stroke="#555" stroke-width="0.9"/><line x1="285.56" y1="651.6" x2="285.56" y2="654.1" stroke="#555" stroke-width="0.9"/><line x1="288.37" y1="651.6" x2="288.37" y2="654.1" stroke="#555" stroke-width="0.9"/><line x1="290.8" y1="651.6" x2="290.8" y2="654.1" stroke="#555" stroke-width="0.9"/><line x1="292.95" y1="651.6" x2="292.95" y2="654.1" stroke="#555" stroke-width="0.9"/><line x1="307.49" y1="651.6" x2="307.49" y2="654.1" stroke="#555" stroke-width="0.9"/><line x1="314.87" y1="651.6" x2="314.87" y2="654.1" stroke="#555" stroke-width="0.9"/><line x1="320.11" y1="651.6" x2="320.11" y2="654.1" stroke="#555" stroke-width="0.9"/><line x1="324.18" y1="651.6" x2="324.18" y2="654.1" stroke="#555" stroke-width="0.9"/><line x1="327.5" y1="651.6" x2="327.5" y2="654.1" stroke="#555" stroke-width="0.9"/><line x1="330.3" y1="651.6" x2="330.3" y2="654.1" stroke="#555" stroke-width="0.9"/><line x1="332.74" y1="651.6" x2="332.74" y2="654.1" stroke="#555" stroke-width="0.9"/><line x1="334.88" y1="651.6" x2="334.88" y2="654.1" stroke="#555" stroke-width="0.9"/>
<text x="191.19" y="623.90" font-size="8.2" font-weight="bold" textLength="11.23" lengthAdjust="spacingAndGlyphs">10</text>
<text x="201.86" y="621.00" font-size="6.4" font-weight="bold" textLength="3.28" lengthAdjust="spacingAndGlyphs">0</text>
<text x="191.19" y="593.00" font-size="8.2" font-weight="bold" textLength="11.23" lengthAdjust="spacingAndGlyphs">10</text>
<text x="201.74" y="590.10" font-size="6.4" font-weight="bold" textLength="3.31" lengthAdjust="spacingAndGlyphs">1</text>
<text x="191.19" y="562.10" font-size="8.2" font-weight="bold" textLength="11.23" lengthAdjust="spacingAndGlyphs">10</text>
<text x="201.90" y="559.20" font-size="6.4" font-weight="bold" textLength="3.24" lengthAdjust="spacingAndGlyphs">2</text>
<text x="191.19" y="531.20" font-size="8.2" font-weight="bold" textLength="11.23" lengthAdjust="spacingAndGlyphs">10</text>
<text x="201.96" y="528.30" font-size="6.4" font-weight="bold" textLength="3.15" lengthAdjust="spacingAndGlyphs">3</text>
<text x="237.86" y="661.80" font-size="8.2" font-weight="bold" textLength="11.01" lengthAdjust="spacingAndGlyphs">10</text>
<text x="248.71" y="658.80" font-size="6.4" font-weight="bold" textLength="3.40" lengthAdjust="spacingAndGlyphs">0</text>
<text x="269.31" y="661.80" font-size="8.2" font-weight="bold" textLength="11.01" lengthAdjust="spacingAndGlyphs">10</text>
<text x="280.03" y="658.80" font-size="6.4" font-weight="bold" textLength="3.43" lengthAdjust="spacingAndGlyphs">1</text>
<text x="300.76" y="661.80" font-size="8.2" font-weight="bold" textLength="11.01" lengthAdjust="spacingAndGlyphs">10</text>
<text x="311.64" y="658.80" font-size="6.4" font-weight="bold" textLength="3.36" lengthAdjust="spacingAndGlyphs">2</text>
<text x="323.81" y="661.80" font-size="8.2" font-weight="bold" textLength="11.01" lengthAdjust="spacingAndGlyphs">10</text>
<text x="334.75" y="658.80" font-size="6.4" font-weight="bold" textLength="3.26" lengthAdjust="spacingAndGlyphs">3</text>
<path d="M420.2 630.3h1.1v1.1h-1.1z M414.6 639.9h1.1v1.1h-1.1z M410.3 635.6h1.1v1.1h-1.1z M413.7 614.1h1.1v1.1h-1.1z M411.5 632.2h1.1v1.1h-1.1z M419.9 625.8h1.1v1.1h-1.1z M406.9 639.4h1.1v1.1h-1.1z M407 629.5h1.1v1.1h-1.1z M406.9 637.6h1.1v1.1h-1.1z M396.5 635h1.1v1.1h-1.1z M413.5 634.1h1.1v1.1h-1.1z M412.9 634.9h1.1v1.1h-1.1z M416.4 641h1.1v1.1h-1.1z M423 631.4h1.1v1.1h-1.1z M413.9 628.9h1.1v1.1h-1.1z M423.5 621.3h1.1v1.1h-1.1z M408.6 630.9h1.1v1.1h-1.1z M414.5 637.5h1.1v1.1h-1.1z M415.5 628.6h1.1v1.1h-1.1z M400.4 623.3h1.1v1.1h-1.1z M401.3 642.3h1.1v1.1h-1.1z M419.6 637h1.1v1.1h-1.1z M418.1 644.1h1.1v1.1h-1.1z M421.1 628.1h1.1v1.1h-1.1z M401.5 635h1.1v1.1h-1.1z M418.3 645.2h1.1v1.1h-1.1z M403.1 623.7h1.1v1.1h-1.1z M419.9 629.3h1.1v1.1h-1.1z M413.8 633.8h1.1v1.1h-1.1z M408.8 631.7h1.1v1.1h-1.1z M429.3 634.4h1.1v1.1h-1.1z M400 636.1h1.1v1.1h-1.1z M416.7 633.7h1.1v1.1h-1.1z M416.3 634.8h1.1v1.1h-1.1z M425.5 646.4h1.1v1.1h-1.1z M419.8 637.5h1.1v1.1h-1.1z M434.4 645.3h1.1v1.1h-1.1z M411.5 614.1h1.1v1.1h-1.1z M401.4 631.2h1.1v1.1h-1.1z M425.9 626.4h1.1v1.1h-1.1z M404.9 631.2h1.1v1.1h-1.1z M411.1 629.9h1.1v1.1h-1.1z M418.6 642.8h1.1v1.1h-1.1z M419.7 643.6h1.1v1.1h-1.1z M431.3 634.4h1.1v1.1h-1.1z M422.4 648.3h1.1v1.1h-1.1z M432.6 633.3h1.1v1.1h-1.1z M409 632.9h1.1v1.1h-1.1z M407.9 636.2h1.1v1.1h-1.1z M432.4 635.3h1.1v1.1h-1.1z M418.2 634.1h1.1v1.1h-1.1z M429 633.2h1.1v1.1h-1.1z M418.4 644.3h1.1v1.1h-1.1z M412.7 630.2h1.1v1.1h-1.1z M416.3 637h1.1v1.1h-1.1z M421.4 635h1.1v1.1h-1.1z M426.6 645.1h1.1v1.1h-1.1z M406.2 632.7h1.1v1.1h-1.1z M410 634.6h1.1v1.1h-1.1z M398 627.4h1.1v1.1h-1.1z M428.9 632.2h1.1v1.1h-1.1z M405.9 638.3h1.1v1.1h-1.1z M406.2 636.5h1.1v1.1h-1.1z M418.3 623.4h1.1v1.1h-1.1z M426.5 624.8h1.1v1.1h-1.1z M422.5 626.5h1.1v1.1h-1.1z M414.8 632.5h1.1v1.1h-1.1z M428.3 646.4h1.1v1.1h-1.1z M413.4 621.8h1.1v1.1h-1.1z M411.6 638.2h1.1v1.1h-1.1z M414.6 640.8h1.1v1.1h-1.1z M410.1 640.3h1.1v1.1h-1.1z M414.1 632.2h1.1v1.1h-1.1z M408.5 637.2h1.1v1.1h-1.1z M414.5 630h1.1v1.1h-1.1z M422.6 634.6h1.1v1.1h-1.1z M419.1 637.6h1.1v1.1h-1.1z M414 632.7h1.1v1.1h-1.1z M414.6 635.1h1.1v1.1h-1.1z M398.7 635.8h1.1v1.1h-1.1z M418.4 639h1.1v1.1h-1.1z M418.1 634.6h1.1v1.1h-1.1z M419.1 630.8h1.1v1.1h-1.1z M434.1 622.9h1.1v1.1h-1.1z M409.7 641h1.1v1.1h-1.1z M420.8 640.9h1.1v1.1h-1.1z M417.4 637.3h1.1v1.1h-1.1z M422.4 635.6h1.1v1.1h-1.1z M423.8 618.6h1.1v1.1h-1.1z M413.9 632.2h1.1v1.1h-1.1z M433.1 648h1.1v1.1h-1.1z M414.8 635.4h1.1v1.1h-1.1z M413.7 629.8h1.1v1.1h-1.1z M425.4 635.2h1.1v1.1h-1.1z M402 623.5h1.1v1.1h-1.1z M417.6 637.7h1.1v1.1h-1.1z M413 627.1h1.1v1.1h-1.1z M411.8 619.4h1.1v1.1h-1.1z M432.2 635.3h1.1v1.1h-1.1z M411.7 636.7h1.1v1.1h-1.1z M423.3 624.5h1.1v1.1h-1.1z M411.6 637.1h1.1v1.1h-1.1z M416.9 630.6h1.1v1.1h-1.1z M410.9 631.3h1.1v1.1h-1.1z M424.1 639h1.1v1.1h-1.1z M422.7 645.5h1.1v1.1h-1.1z M414.8 625.4h1.1v1.1h-1.1z M409.6 641.5h1.1v1.1h-1.1z M433.2 641.4h1.1v1.1h-1.1z M407 617h1.1v1.1h-1.1z M421.4 625h1.1v1.1h-1.1z M423.7 618.1h1.1v1.1h-1.1z M430.3 636.7h1.1v1.1h-1.1z M413 635.9h1.1v1.1h-1.1z M408.1 640h1.1v1.1h-1.1z M407.3 636.1h1.1v1.1h-1.1z M423.9 636.7h1.1v1.1h-1.1z M406.2 635.6h1.1v1.1h-1.1z M408.6 627.3h1.1v1.1h-1.1z M400.6 623.6h1.1v1.1h-1.1z M408.9 648.9h1.1v1.1h-1.1z M431.2 644.6h1.1v1.1h-1.1z M431.6 636.3h1.1v1.1h-1.1z M417.3 631.9h1.1v1.1h-1.1z M416.4 628h1.1v1.1h-1.1z M420.1 626.3h1.1v1.1h-1.1z M423.1 626.1h1.1v1.1h-1.1z M414.2 622.5h1.1v1.1h-1.1z M411 628.3h1.1v1.1h-1.1z M414 643.1h1.1v1.1h-1.1z M420.7 620.6h1.1v1.1h-1.1z M420.8 612.2h1.1v1.1h-1.1z M414.5 630.1h1.1v1.1h-1.1z M426.6 640.1h1.1v1.1h-1.1z M411.3 648.8h1.1v1.1h-1.1z M412.5 648.9h1.1v1.1h-1.1z M406 624.2h1.1v1.1h-1.1z M417.7 646.2h1.1v1.1h-1.1z M415.9 635.6h1.1v1.1h-1.1z M421.5 626.7h1.1v1.1h-1.1z M421.6 628.9h1.1v1.1h-1.1z M429 638.1h1.1v1.1h-1.1z M415.4 635.1h1.1v1.1h-1.1z M406.6 641.2h1.1v1.1h-1.1z M414.3 629.4h1.1v1.1h-1.1z M414.8 643.3h1.1v1.1h-1.1z M395.8 619.1h1.1v1.1h-1.1z M429.7 647.7h1.1v1.1h-1.1z M415.5 635.2h1.1v1.1h-1.1z M404.8 629.4h1.1v1.1h-1.1z M432.9 625.8h1.1v1.1h-1.1z M419.6 626.2h1.1v1.1h-1.1z M417.2 624h1.1v1.1h-1.1z M423.2 625.2h1.1v1.1h-1.1z M419.8 632.3h1.1v1.1h-1.1z M405.9 640.7h1.1v1.1h-1.1z M419.7 628.7h1.1v1.1h-1.1z M397.8 628.5h1.1v1.1h-1.1z M408.2 635.6h1.1v1.1h-1.1z M399.8 635h1.1v1.1h-1.1z M407.1 636.5h1.1v1.1h-1.1z M424.5 633.2h1.1v1.1h-1.1z M415.9 635h1.1v1.1h-1.1z M414.1 636h1.1v1.1h-1.1z M416.5 630.9h1.1v1.1h-1.1z M426 646.2h1.1v1.1h-1.1z M413.3 625.5h1.1v1.1h-1.1z M409.8 634.6h1.1v1.1h-1.1z M420.8 621h1.1v1.1h-1.1z M427.4 634.7h1.1v1.1h-1.1z M404.7 621.5h1.1v1.1h-1.1z M421.9 627.7h1.1v1.1h-1.1z M418.3 638.3h1.1v1.1h-1.1z M442.1 622.8h1.1v1.1h-1.1z M409.7 631.5h1.1v1.1h-1.1z M417.1 643h1.1v1.1h-1.1z M414.2 615.6h1.1v1.1h-1.1z M413 642.2h1.1v1.1h-1.1z M421.9 634.5h1.1v1.1h-1.1z M408.2 628.2h1.1v1.1h-1.1z M427.6 634h1.1v1.1h-1.1z M424.5 643.1h1.1v1.1h-1.1z M426.3 647.8h1.1v1.1h-1.1z M428.9 640.9h1.1v1.1h-1.1z M428.6 637.7h1.1v1.1h-1.1z M403 637.5h1.1v1.1h-1.1z M404.7 628h1.1v1.1h-1.1z M413.6 635.1h1.1v1.1h-1.1z M411.5 628.7h1.1v1.1h-1.1z M405 631.7h1.1v1.1h-1.1z M404.2 632.6h1.1v1.1h-1.1z M412.1 626.1h1.1v1.1h-1.1z M423.1 626.7h1.1v1.1h-1.1z M418.4 633.9h1.1v1.1h-1.1z M412.5 621.9h1.1v1.1h-1.1z M401.3 636h1.1v1.1h-1.1z M437.2 642.3h1.1v1.1h-1.1z M411.1 611.2h1.1v1.1h-1.1z M412 624.5h1.1v1.1h-1.1z M418.5 637.4h1.1v1.1h-1.1z M430.2 642.8h1.1v1.1h-1.1z M423.2 631.4h1.1v1.1h-1.1z M410.6 636.3h1.1v1.1h-1.1z M418.2 629.1h1.1v1.1h-1.1z M408.1 643.3h1.1v1.1h-1.1z M410.8 639.3h1.1v1.1h-1.1z M427.2 644.6h1.1v1.1h-1.1z M409.9 633.6h1.1v1.1h-1.1z M428.5 630.6h1.1v1.1h-1.1z M417 635.5h1.1v1.1h-1.1z M429.1 631.5h1.1v1.1h-1.1z M407.2 638.8h1.1v1.1h-1.1z M422.4 631.4h1.1v1.1h-1.1z M411.5 631.5h1.1v1.1h-1.1z M399.3 645.7h1.1v1.1h-1.1z M410.4 619.3h1.1v1.1h-1.1z M417.5 631.5h1.1v1.1h-1.1z M422.4 626.9h1.1v1.1h-1.1z M422.3 628h1.1v1.1h-1.1z M412.5 632.8h1.1v1.1h-1.1z M433 627.8h1.1v1.1h-1.1z M417.3 640.3h1.1v1.1h-1.1z M411.5 631.4h1.1v1.1h-1.1z M444.8 643.9h1.1v1.1h-1.1z M422.8 634.6h1.1v1.1h-1.1z M427.1 635.9h1.1v1.1h-1.1z M410.2 629.7h1.1v1.1h-1.1z M416.3 633.3h1.1v1.1h-1.1z M415.3 630.3h1.1v1.1h-1.1z M412.2 641.1h1.1v1.1h-1.1z M407.5 632.6h1.1v1.1h-1.1z M403.6 630h1.1v1.1h-1.1z M429.6 625.8h1.1v1.1h-1.1z M421.5 636.3h1.1v1.1h-1.1z M408.5 639.7h1.1v1.1h-1.1z M423 630.7h1.1v1.1h-1.1z M405.1 638.9h1.1v1.1h-1.1z M418.3 638.2h1.1v1.1h-1.1z M402.9 630.5h1.1v1.1h-1.1z M422.9 619.7h1.1v1.1h-1.1z M402.2 632.9h1.1v1.1h-1.1z M416 630.2h1.1v1.1h-1.1z M426.2 638.3h1.1v1.1h-1.1z M412.7 641.9h1.1v1.1h-1.1z M420.8 648.8h1.1v1.1h-1.1z M411.2 642h1.1v1.1h-1.1z M422.4 640.2h1.1v1.1h-1.1z M404.9 629.7h1.1v1.1h-1.1z M428.9 637.6h1.1v1.1h-1.1z M415.7 622h1.1v1.1h-1.1z M426.8 641.4h1.1v1.1h-1.1z M421.1 642.5h1.1v1.1h-1.1z M431.5 626h1.1v1.1h-1.1z M417 647.4h1.1v1.1h-1.1z M422.7 637.4h1.1v1.1h-1.1z M416.6 626.3h1.1v1.1h-1.1z M405.7 630.7h1.1v1.1h-1.1z M417.4 620.5h1.1v1.1h-1.1z M439.3 622h1.1v1.1h-1.1z M417.8 633.1h1.1v1.1h-1.1z M404.4 641.2h1.1v1.1h-1.1z M418.5 633.1h1.1v1.1h-1.1z M406.5 642.6h1.1v1.1h-1.1z M420.2 641.6h1.1v1.1h-1.1z M418.6 632.6h1.1v1.1h-1.1z M411.3 625.1h1.1v1.1h-1.1z M422.1 642.8h1.1v1.1h-1.1z M416.5 632.2h1.1v1.1h-1.1z M414.9 637.9h1.1v1.1h-1.1z M416 640.7h1.1v1.1h-1.1z M407 642.4h1.1v1.1h-1.1z M402 634.7h1.1v1.1h-1.1z M416.7 635.5h1.1v1.1h-1.1z M415.4 638.6h1.1v1.1h-1.1z M408.6 619h1.1v1.1h-1.1z M423.6 634.5h1.1v1.1h-1.1z M428 629.2h1.1v1.1h-1.1z M415.4 644.9h1.1v1.1h-1.1z M409.2 631.2h1.1v1.1h-1.1z M420.7 622.3h1.1v1.1h-1.1z M408.1 634h1.1v1.1h-1.1z M423.7 639.7h1.1v1.1h-1.1z M418.7 631.1h1.1v1.1h-1.1z M425.9 633.3h1.1v1.1h-1.1z M421.7 640.9h1.1v1.1h-1.1z M411.2 634.7h1.1v1.1h-1.1z M418.3 631.8h1.1v1.1h-1.1z M404.5 612.8h1.1v1.1h-1.1z M404.2 631.5h1.1v1.1h-1.1z M416.5 630.1h1.1v1.1h-1.1z M421.2 626.6h1.1v1.1h-1.1z M427.3 638.8h1.1v1.1h-1.1z M426.4 646.4h1.1v1.1h-1.1z M417.6 605.7h1.1v1.1h-1.1z M427.4 642.1h1.1v1.1h-1.1z M413.2 633.8h1.1v1.1h-1.1z M409.3 637.4h1.1v1.1h-1.1z M402.1 642.8h1.1v1.1h-1.1z M412.2 639.8h1.1v1.1h-1.1z M429.3 639.6h1.1v1.1h-1.1z M420.8 648.5h1.1v1.1h-1.1z M426.5 638.4h1.1v1.1h-1.1z M414.4 635.2h1.1v1.1h-1.1z M403 636.1h1.1v1.1h-1.1z M421.3 632.1h1.1v1.1h-1.1z M404.3 626.3h1.1v1.1h-1.1z M431.2 630.4h1.1v1.1h-1.1z M411.8 640h1.1v1.1h-1.1z M403.3 626.7h1.1v1.1h-1.1z M413.8 647h1.1v1.1h-1.1z M414.2 645.8h1.1v1.1h-1.1z M412.5 634.6h1.1v1.1h-1.1z M416.2 636.9h1.1v1.1h-1.1z M421.4 631.1h1.1v1.1h-1.1z M418.6 630h1.1v1.1h-1.1z M412.4 633.3h1.1v1.1h-1.1z M418.1 633.6h1.1v1.1h-1.1z M411.4 646.9h1.1v1.1h-1.1z M417.3 629.9h1.1v1.1h-1.1z M415.5 639.7h1.1v1.1h-1.1z M417.4 633.7h1.1v1.1h-1.1z M416.9 636.1h1.1v1.1h-1.1z M410.5 635.4h1.1v1.1h-1.1z M432.5 633.2h1.1v1.1h-1.1z M401.7 638.4h1.1v1.1h-1.1z M410.2 641.3h1.1v1.1h-1.1z M416 633.2h1.1v1.1h-1.1z M430.8 634.8h1.1v1.1h-1.1z M417.1 642.7h1.1v1.1h-1.1z M403 624h1.1v1.1h-1.1z M411.2 634.3h1.1v1.1h-1.1z M427.5 625.2h1.1v1.1h-1.1z M426.4 627.1h1.1v1.1h-1.1z M418.4 634.2h1.1v1.1h-1.1z M417.4 633.5h1.1v1.1h-1.1z M414.4 625.6h1.1v1.1h-1.1z M413.5 618.8h1.1v1.1h-1.1z M413.5 636.3h1.1v1.1h-1.1z M427.2 626.2h1.1v1.1h-1.1z M412.2 626.7h1.1v1.1h-1.1z M406.2 636h1.1v1.1h-1.1z M415.4 633.9h1.1v1.1h-1.1z M405.8 632.5h1.1v1.1h-1.1z M422.5 638.9h1.1v1.1h-1.1z M410 633.1h1.1v1.1h-1.1z M414.2 632.1h1.1v1.1h-1.1z M419.4 628h1.1v1.1h-1.1z M423.5 647.4h1.1v1.1h-1.1z M419.9 638h1.1v1.1h-1.1z M427.3 641.1h1.1v1.1h-1.1z M427 631.4h1.1v1.1h-1.1z M403.7 637.9h1.1v1.1h-1.1z M432 644.2h1.1v1.1h-1.1z M412.1 622h1.1v1.1h-1.1z M411.4 627.5h1.1v1.1h-1.1z M424.8 635.5h1.1v1.1h-1.1z M423.8 626.3h1.1v1.1h-1.1z M398.3 621.8h1.1v1.1h-1.1z M418.7 642.8h1.1v1.1h-1.1z M411.5 643.4h1.1v1.1h-1.1z M416.4 637.4h1.1v1.1h-1.1z M414 634.7h1.1v1.1h-1.1z M417.4 634h1.1v1.1h-1.1z M403.7 622.5h1.1v1.1h-1.1z M421 633.8h1.1v1.1h-1.1z M409.3 634.4h1.1v1.1h-1.1z M412 621h1.1v1.1h-1.1z M413.8 631.7h1.1v1.1h-1.1z M417.2 636.2h1.1v1.1h-1.1z M430.8 643.7h1.1v1.1h-1.1z M418.9 623.6h1.1v1.1h-1.1z M411 644.9h1.1v1.1h-1.1z M416.6 639.5h1.1v1.1h-1.1z M419.9 629.3h1.1v1.1h-1.1z M424.3 634.9h1.1v1.1h-1.1z M401.9 634.3h1.1v1.1h-1.1z M417.9 643.6h1.1v1.1h-1.1z M418.7 629.7h1.1v1.1h-1.1z M414.8 626h1.1v1.1h-1.1z M424 649.1h1.1v1.1h-1.1z M428.7 645h1.1v1.1h-1.1z M428 639.8h1.1v1.1h-1.1z M418.4 631.7h1.1v1.1h-1.1z M433.8 642h1.1v1.1h-1.1z M418.6 627.9h1.1v1.1h-1.1z M412.6 641h1.1v1.1h-1.1z M420.4 638.6h1.1v1.1h-1.1z M423.5 641.1h1.1v1.1h-1.1z M401.8 648.3h1.1v1.1h-1.1z M406.4 633.2h1.1v1.1h-1.1z M407 621.5h1.1v1.1h-1.1z M408.3 625.9h1.1v1.1h-1.1z M416.8 643.9h1.1v1.1h-1.1z M409 642h1.1v1.1h-1.1z M426.3 641.6h1.1v1.1h-1.1z M420.5 634.2h1.1v1.1h-1.1z M427.9 647.9h1.1v1.1h-1.1z M416.8 626.4h1.1v1.1h-1.1z M429.2 633.4h1.1v1.1h-1.1z M404.1 627.7h1.1v1.1h-1.1z M416.4 638.6h1.1v1.1h-1.1z M414.4 635.5h1.1v1.1h-1.1z M408 633.2h1.1v1.1h-1.1z M411.9 622.4h1.1v1.1h-1.1z M415.8 631.3h1.1v1.1h-1.1z M414.4 633.3h1.1v1.1h-1.1z M421.5 634.1h1.1v1.1h-1.1z M409.2 626.5h1.1v1.1h-1.1z M423.4 643h1.1v1.1h-1.1z M408 628.3h1.1v1.1h-1.1z M416.8 627.8h1.1v1.1h-1.1z M413.1 642.3h1.1v1.1h-1.1z M408 631.8h1.1v1.1h-1.1z M422.7 624.1h1.1v1.1h-1.1z M411 635.8h1.1v1.1h-1.1z M399.8 643.4h1.1v1.1h-1.1z M408.8 639h1.1v1.1h-1.1z M420.2 646.6h1.1v1.1h-1.1z M403.4 639.8h1.1v1.1h-1.1z M408 634.4h1.1v1.1h-1.1z M405.1 623.7h1.1v1.1h-1.1z M406.2 638.8h1.1v1.1h-1.1z M425.2 629.4h1.1v1.1h-1.1z M411 633.1h1.1v1.1h-1.1z M407.9 635.9h1.1v1.1h-1.1z M420.1 639.3h1.1v1.1h-1.1z M406.9 627.2h1.1v1.1h-1.1z M420.9 627.6h1.1v1.1h-1.1z M401.9 643.9h1.1v1.1h-1.1z M423.5 644.6h1.1v1.1h-1.1z M409.3 626.7h1.1v1.1h-1.1z M421.3 628.5h1.1v1.1h-1.1z M420.7 638.3h1.1v1.1h-1.1z M409.1 632.2h1.1v1.1h-1.1z M407.2 632h1.1v1.1h-1.1z M419.6 648.4h1.1v1.1h-1.1z M407.5 624.6h1.1v1.1h-1.1z M398.8 630.2h1.1v1.1h-1.1z M407.5 646.4h1.1v1.1h-1.1z M440.4 633.1h1.1v1.1h-1.1z M409.8 629.6h1.1v1.1h-1.1z M417.5 647.9h1.1v1.1h-1.1z M414.9 623.6h1.1v1.1h-1.1z M417.4 642.4h1.1v1.1h-1.1z M406.7 613.5h1.1v1.1h-1.1z M413.9 630.5h1.1v1.1h-1.1z M429.5 639.9h1.1v1.1h-1.1z M429.5 636.8h1.1v1.1h-1.1z M399.8 631.1h1.1v1.1h-1.1z M406.4 635h1.1v1.1h-1.1z M408.6 639.2h1.1v1.1h-1.1z M425.3 636.3h1.1v1.1h-1.1z M410.1 625.8h1.1v1.1h-1.1z M414.3 643.9h1.1v1.1h-1.1z M404.1 624h1.1v1.1h-1.1z M419.3 641.3h1.1v1.1h-1.1z M414.6 628.5h1.1v1.1h-1.1z M407.9 635.5h1.1v1.1h-1.1z M400.8 634.2h1.1v1.1h-1.1z M407.9 624.9h1.1v1.1h-1.1z M411.7 633.3h1.1v1.1h-1.1z M418.3 638.1h1.1v1.1h-1.1z M412.7 632.7h1.1v1.1h-1.1z M415.8 641.6h1.1v1.1h-1.1z M424.8 646h1.1v1.1h-1.1z M413.5 635.9h1.1v1.1h-1.1z M431.5 635.2h1.1v1.1h-1.1z M411.2 627.5h1.1v1.1h-1.1z M425.1 620.7h1.1v1.1h-1.1z M417.4 637.3h1.1v1.1h-1.1z M409.9 629.5h1.1v1.1h-1.1z M411.3 636.2h1.1v1.1h-1.1z M422.5 631.7h1.1v1.1h-1.1z M401.2 620.6h1.1v1.1h-1.1z M404.2 629.7h1.1v1.1h-1.1z M404.5 624h1.1v1.1h-1.1z M409.2 634.3h1.1v1.1h-1.1z M415.3 637.1h1.1v1.1h-1.1z M421 636.6h1.1v1.1h-1.1z M415.2 640.9h1.1v1.1h-1.1z M419.8 625.1h1.1v1.1h-1.1z M417.8 634.9h1.1v1.1h-1.1z M417.5 646.7h1.1v1.1h-1.1z M408.4 638.2h1.1v1.1h-1.1z M422 634.5h1.1v1.1h-1.1z M410.9 620.4h1.1v1.1h-1.1z M411.2 633.3h1.1v1.1h-1.1z M418.3 636.7h1.1v1.1h-1.1z M422.5 639.9h1.1v1.1h-1.1z M428.6 630.3h1.1v1.1h-1.1z M405.3 623.8h1.1v1.1h-1.1z M428.6 649.1h1.1v1.1h-1.1z M432.4 613.4h1.1v1.1h-1.1z M411.9 640.6h1.1v1.1h-1.1z M405.9 644.4h1.1v1.1h-1.1z M413.5 638.7h1.1v1.1h-1.1z M422.2 639.3h1.1v1.1h-1.1z M400.2 631.4h1.1v1.1h-1.1z M419.6 620.1h1.1v1.1h-1.1z M421.8 626.9h1.1v1.1h-1.1z M410.5 626h1.1v1.1h-1.1z M414.8 625.9h1.1v1.1h-1.1z M402.8 618.7h1.1v1.1h-1.1z M415.6 627.4h1.1v1.1h-1.1z M406.1 638.4h1.1v1.1h-1.1z M413.8 617.3h1.1v1.1h-1.1z M419.7 618.8h1.1v1.1h-1.1z M398.6 627h1.1v1.1h-1.1z M416 640.5h1.1v1.1h-1.1z M414.3 624.1h1.1v1.1h-1.1z M401.9 626h1.1v1.1h-1.1z M397.7 636.5h1.1v1.1h-1.1z M412.9 625.9h1.1v1.1h-1.1z M400.6 643h1.1v1.1h-1.1z M402.4 641.8h1.1v1.1h-1.1z M417.5 644.2h1.1v1.1h-1.1z M411.6 620.2h1.1v1.1h-1.1z M430.2 635.8h1.1v1.1h-1.1z M412.2 636.9h1.1v1.1h-1.1z M416.5 634.6h1.1v1.1h-1.1z M415 635.2h1.1v1.1h-1.1z M407.9 635.2h1.1v1.1h-1.1z M414 636.1h1.1v1.1h-1.1z M415.5 641.4h1.1v1.1h-1.1z M413.1 647.4h1.1v1.1h-1.1z M413.7 636.1h1.1v1.1h-1.1z M421.8 634.8h1.1v1.1h-1.1z M413 633.6h1.1v1.1h-1.1z M423.4 628.7h1.1v1.1h-1.1z M413.5 635h1.1v1.1h-1.1z M405.7 640.5h1.1v1.1h-1.1z M423.6 621.8h1.1v1.1h-1.1z M421.7 622.1h1.1v1.1h-1.1z M421.6 646.4h1.1v1.1h-1.1z M411.8 627.5h1.1v1.1h-1.1z M419.9 636.1h1.1v1.1h-1.1z M427.3 644.5h1.1v1.1h-1.1z M411.1 648.2h1.1v1.1h-1.1z M419.8 645.3h1.1v1.1h-1.1z M416.6 643.9h1.1v1.1h-1.1z M420 643.1h1.1v1.1h-1.1z M420.8 630.3h1.1v1.1h-1.1z M414 638h1.1v1.1h-1.1z M405.7 643.4h1.1v1.1h-1.1z M416.3 612.8h1.1v1.1h-1.1z M424.3 622.1h1.1v1.1h-1.1z M415.5 640h1.1v1.1h-1.1z M429.4 631.5h1.1v1.1h-1.1z M414.1 631.6h1.1v1.1h-1.1z M400.1 630h1.1v1.1h-1.1z M404.1 644h1.1v1.1h-1.1z M418.5 636.2h1.1v1.1h-1.1z M421.7 639.9h1.1v1.1h-1.1z M401.2 639.4h1.1v1.1h-1.1z M417 629.4h1.1v1.1h-1.1z M425.4 627.7h1.1v1.1h-1.1z M408.8 643h1.1v1.1h-1.1z M441.3 628.8h1.1v1.1h-1.1z M408 617.4h1.1v1.1h-1.1z M415.7 624.2h1.1v1.1h-1.1z M405.2 636.4h1.1v1.1h-1.1z M410.1 639.2h1.1v1.1h-1.1z M412 637.9h1.1v1.1h-1.1z M395.4 634.4h1.1v1.1h-1.1z M422.4 631.3h1.1v1.1h-1.1z M417 633.6h1.1v1.1h-1.1z M415.7 629.7h1.1v1.1h-1.1z M408.7 631.8h1.1v1.1h-1.1z M411.2 632.8h1.1v1.1h-1.1z M413.1 623.5h1.1v1.1h-1.1z M399.9 630.2h1.1v1.1h-1.1z M408.4 636.6h1.1v1.1h-1.1z M402.7 634.9h1.1v1.1h-1.1z M412.8 632h1.1v1.1h-1.1z M427.2 642.3h1.1v1.1h-1.1z M417.8 633.3h1.1v1.1h-1.1z M400.3 611.7h1.1v1.1h-1.1z M409.6 642.3h1.1v1.1h-1.1z M402 638.9h1.1v1.1h-1.1z M441.9 560.6h1.1v1.1h-1.1z M448.5 596.2h1.1v1.1h-1.1z M453.5 616.9h1.1v1.1h-1.1z M454.5 588.1h1.1v1.1h-1.1z M451.6 579.3h1.1v1.1h-1.1z M450 571.7h1.1v1.1h-1.1z M452.6 575.3h1.1v1.1h-1.1z M437.3 558h1.1v1.1h-1.1z M452.9 593.2h1.1v1.1h-1.1z M448.3 566.3h1.1v1.1h-1.1z M467.5 564.2h1.1v1.1h-1.1z M464.5 554.5h1.1v1.1h-1.1z M453.9 568.9h1.1v1.1h-1.1z M447.4 579.7h1.1v1.1h-1.1z M458.2 602.2h1.1v1.1h-1.1z M442.9 579.3h1.1v1.1h-1.1z M463.8 623.7h1.1v1.1h-1.1z M448.3 587.4h1.1v1.1h-1.1z M451.6 590.2h1.1v1.1h-1.1z M443.2 607.6h1.1v1.1h-1.1z M444.2 585.2h1.1v1.1h-1.1z M466.8 609.1h1.1v1.1h-1.1z M455.3 582.8h1.1v1.1h-1.1z M449 611.5h1.1v1.1h-1.1z M459.1 566.7h1.1v1.1h-1.1z M449.3 594.4h1.1v1.1h-1.1z M453.6 612.4h1.1v1.1h-1.1z M452.8 550.8h1.1v1.1h-1.1z M466.7 583.1h1.1v1.1h-1.1z M449.1 584.4h1.1v1.1h-1.1z M453.1 592.9h1.1v1.1h-1.1z M451.1 557.9h1.1v1.1h-1.1z M462.6 578.2h1.1v1.1h-1.1z M442.6 630.6h1.1v1.1h-1.1z M443.2 566.6h1.1v1.1h-1.1z M444.6 572.4h1.1v1.1h-1.1z M460.1 585.5h1.1v1.1h-1.1z M437.1 560.4h1.1v1.1h-1.1z M459.2 549.5h1.1v1.1h-1.1z M438.5 610.3h1.1v1.1h-1.1z M451.1 553.7h1.1v1.1h-1.1z M460 605.3h1.1v1.1h-1.1z M456.7 588.3h1.1v1.1h-1.1z M446.3 591.1h1.1v1.1h-1.1z M451.8 621h1.1v1.1h-1.1z M446.3 563.7h1.1v1.1h-1.1z M450.2 555.5h1.1v1.1h-1.1z M440.7 605.9h1.1v1.1h-1.1z M469.2 605.7h1.1v1.1h-1.1z M441.2 592.2h1.1v1.1h-1.1z M447.6 568.6h1.1v1.1h-1.1z M439.6 560.7h1.1v1.1h-1.1z M449.2 579.9h1.1v1.1h-1.1z M441 596.6h1.1v1.1h-1.1z M460.9 620.1h1.1v1.1h-1.1z M445.8 601.9h1.1v1.1h-1.1z M448.9 617.9h1.1v1.1h-1.1z M460.9 619h1.1v1.1h-1.1z M446.5 567.8h1.1v1.1h-1.1z M460.4 620.1h1.1v1.1h-1.1z M452.5 581.8h1.1v1.1h-1.1z M444.4 588.7h1.1v1.1h-1.1z M445.1 581.1h1.1v1.1h-1.1z M454.6 576.5h1.1v1.1h-1.1z M456.5 566.4h1.1v1.1h-1.1z M457.4 586.7h1.1v1.1h-1.1z M461.9 601.4h1.1v1.1h-1.1z M457.2 596.6h1.1v1.1h-1.1z M455.6 581.2h1.1v1.1h-1.1z M448.3 567.7h1.1v1.1h-1.1z M450.8 599.1h1.1v1.1h-1.1z M442.1 593.5h1.1v1.1h-1.1z M446.7 611h1.1v1.1h-1.1z M450.9 592.3h1.1v1.1h-1.1z M448.1 602.6h1.1v1.1h-1.1z M434.2 566.2h1.1v1.1h-1.1z M440.5 579.2h1.1v1.1h-1.1z M463.4 594.6h1.1v1.1h-1.1z M438.7 542.7h1.1v1.1h-1.1z M461.5 590.4h1.1v1.1h-1.1z M453.8 590.5h1.1v1.1h-1.1z M456 594.3h1.1v1.1h-1.1z M456.9 615.9h1.1v1.1h-1.1z M446.2 561.2h1.1v1.1h-1.1z M444.1 589h1.1v1.1h-1.1z M446.2 579.9h1.1v1.1h-1.1z M456.4 571.2h1.1v1.1h-1.1z M441.3 577.6h1.1v1.1h-1.1z M450.8 571.1h1.1v1.1h-1.1z M454.2 625h1.1v1.1h-1.1z M455.9 613h1.1v1.1h-1.1z M452.9 543.7h1.1v1.1h-1.1z M438.8 568.8h1.1v1.1h-1.1z M465.5 563.8h1.1v1.1h-1.1z M444.7 554.8h1.1v1.1h-1.1z M457.1 606.7h1.1v1.1h-1.1z M449 552.1h1.1v1.1h-1.1z M448.9 574.9h1.1v1.1h-1.1z M446.3 599.3h1.1v1.1h-1.1z M463.1 578.3h1.1v1.1h-1.1z M446.7 549.6h1.1v1.1h-1.1z M440.4 594h1.1v1.1h-1.1z M439.3 573h1.1v1.1h-1.1z M445.6 587.9h1.1v1.1h-1.1z M460 599.5h1.1v1.1h-1.1z M447.6 585.7h1.1v1.1h-1.1z M451.5 589.7h1.1v1.1h-1.1z M459.3 561.2h1.1v1.1h-1.1z M457.7 588.8h1.1v1.1h-1.1z M457.6 558.4h1.1v1.1h-1.1z M457.2 624.9h1.1v1.1h-1.1z M450.4 556.9h1.1v1.1h-1.1z M452.6 583.5h1.1v1.1h-1.1z M454.9 580.1h1.1v1.1h-1.1z M452.5 575.7h1.1v1.1h-1.1z M451.3 571.5h1.1v1.1h-1.1z M447.1 603.9h1.1v1.1h-1.1z M443.6 597.7h1.1v1.1h-1.1z M448.6 577.6h1.1v1.1h-1.1z M444.9 608.7h1.1v1.1h-1.1z M438.9 608.3h1.1v1.1h-1.1z M458.5 581.4h1.1v1.1h-1.1z M442.5 598.2h1.1v1.1h-1.1z M457.6 561h1.1v1.1h-1.1z M455.1 560.3h1.1v1.1h-1.1z M450.4 574.6h1.1v1.1h-1.1z M465.3 628.7h1.1v1.1h-1.1z M439.4 601h1.1v1.1h-1.1z M451.4 590.7h1.1v1.1h-1.1z M462.2 582.3h1.1v1.1h-1.1z M452.6 551.5h1.1v1.1h-1.1z M444.4 587.2h1.1v1.1h-1.1z M440.8 618h1.1v1.1h-1.1z M451.4 585.1h1.1v1.1h-1.1z M437.3 542.8h1.1v1.1h-1.1z M457 565.7h1.1v1.1h-1.1z M456.3 602.6h1.1v1.1h-1.1z M432 589.7h1.1v1.1h-1.1z M446.4 588.8h1.1v1.1h-1.1z M462.9 606.7h1.1v1.1h-1.1z M458 627.4h1.1v1.1h-1.1z M442.3 600.4h1.1v1.1h-1.1z M440.2 586.3h1.1v1.1h-1.1z M440.9 602h1.1v1.1h-1.1z M443.5 580.6h1.1v1.1h-1.1z M454.4 575.3h1.1v1.1h-1.1z M452.3 573.6h1.1v1.1h-1.1z M462.2 564.8h1.1v1.1h-1.1z M459.1 571.8h1.1v1.1h-1.1z M430.9 626.2h1.1v1.1h-1.1z M448.4 565.4h1.1v1.1h-1.1z M447.1 607.1h1.1v1.1h-1.1z M444.6 591.9h1.1v1.1h-1.1z M440.5 595.6h1.1v1.1h-1.1z M425.4 601.3h1.1v1.1h-1.1z M465.3 547.5h1.1v1.1h-1.1z M443 587.9h1.1v1.1h-1.1z M460.9 626.7h1.1v1.1h-1.1z M447.6 606.3h1.1v1.1h-1.1z M455.4 596.3h1.1v1.1h-1.1z M454.9 552.2h1.1v1.1h-1.1z M461.7 580.5h1.1v1.1h-1.1z M445.8 609.8h1.1v1.1h-1.1z M452 572.6h1.1v1.1h-1.1z M447.4 597.1h1.1v1.1h-1.1z M455.9 582h1.1v1.1h-1.1z M460.9 592.2h1.1v1.1h-1.1z M443.1 589.2h1.1v1.1h-1.1z M456.7 549.9h1.1v1.1h-1.1z M447.4 577.9h1.1v1.1h-1.1z M436.8 579.1h1.1v1.1h-1.1z M427.9 577.3h1.1v1.1h-1.1z M442.6 576.7h1.1v1.1h-1.1z M455.5 619.9h1.1v1.1h-1.1z M451.9 580.1h1.1v1.1h-1.1z M444.4 598.6h1.1v1.1h-1.1z M447.4 579.9h1.1v1.1h-1.1z M452.6 632.6h1.1v1.1h-1.1z M456.5 545.8h1.1v1.1h-1.1z M443.7 634.8h1.1v1.1h-1.1z M446.2 603.9h1.1v1.1h-1.1z M439.7 579.3h1.1v1.1h-1.1z M431.3 564.1h1.1v1.1h-1.1z M441.2 606.8h1.1v1.1h-1.1z M453.7 591.4h1.1v1.1h-1.1z M450.6 571.5h1.1v1.1h-1.1z M446.2 582.5h1.1v1.1h-1.1z M451 585.1h1.1v1.1h-1.1z M438.7 564.6h1.1v1.1h-1.1z M451.2 567.5h1.1v1.1h-1.1z M464.2 610.8h1.1v1.1h-1.1z M459 590.1h1.1v1.1h-1.1z M460.3 586.3h1.1v1.1h-1.1z M454.1 586.5h1.1v1.1h-1.1z M450.3 578.6h1.1v1.1h-1.1z M441.1 621.6h1.1v1.1h-1.1z M445.4 584.3h1.1v1.1h-1.1z M467 602.5h1.1v1.1h-1.1z M426.1 578.7h1.1v1.1h-1.1z M456.3 596h1.1v1.1h-1.1z M447.5 551.1h1.1v1.1h-1.1z M430.2 583.3h1.1v1.1h-1.1z M454.7 597.2h1.1v1.1h-1.1z M441.3 589h1.1v1.1h-1.1z M444.5 570.2h1.1v1.1h-1.1z M442.1 593.7h1.1v1.1h-1.1z M454.6 612.7h1.1v1.1h-1.1z M464.1 540.7h1.1v1.1h-1.1z M445.7 587.3h1.1v1.1h-1.1z M434.5 586.5h1.1v1.1h-1.1z M428.9 588.3h1.1v1.1h-1.1z M461.8 563.5h1.1v1.1h-1.1z M448.1 608.9h1.1v1.1h-1.1z M458.1 564.6h1.1v1.1h-1.1z M452.3 582.9h1.1v1.1h-1.1z M441.3 596.5h1.1v1.1h-1.1z M432.2 600.1h1.1v1.1h-1.1z M437.4 613.2h1.1v1.1h-1.1z M444.2 571.6h1.1v1.1h-1.1z M457.4 598.1h1.1v1.1h-1.1z M455.4 590.8h1.1v1.1h-1.1z M450 593.1h1.1v1.1h-1.1z M429 546.6h1.1v1.1h-1.1z M448.7 538.3h1.1v1.1h-1.1z M449 579.3h1.1v1.1h-1.1z M448.4 588.3h1.1v1.1h-1.1z M436.5 564.3h1.1v1.1h-1.1z M460.1 545.9h1.1v1.1h-1.1z M438.9 602h1.1v1.1h-1.1z M454.1 578.2h1.1v1.1h-1.1z M445.9 615.4h1.1v1.1h-1.1z M460.7 586.9h1.1v1.1h-1.1z M442.9 549.4h1.1v1.1h-1.1z M443.9 583.1h1.1v1.1h-1.1z M459.2 625.3h1.1v1.1h-1.1z M441.9 587.8h1.1v1.1h-1.1z M456.4 600.7h1.1v1.1h-1.1z M446.2 573.5h1.1v1.1h-1.1z M448.8 554.6h1.1v1.1h-1.1z M459.6 600.5h1.1v1.1h-1.1z M457.9 594.9h1.1v1.1h-1.1z M445.8 572h1.1v1.1h-1.1z M454.9 607.3h1.1v1.1h-1.1z M454.3 567.7h1.1v1.1h-1.1z M457 599.8h1.1v1.1h-1.1z M445.7 585.8h1.1v1.1h-1.1z M465.5 591h1.1v1.1h-1.1z M444.4 586.6h1.1v1.1h-1.1z M439.5 590.5h1.1v1.1h-1.1z M447.7 588.1h1.1v1.1h-1.1z M451.7 602.5h1.1v1.1h-1.1z M471.2 603.7h1.1v1.1h-1.1z M442.7 579.4h1.1v1.1h-1.1z M449.7 592.6h1.1v1.1h-1.1z M445 586.4h1.1v1.1h-1.1z M451.1 594.5h1.1v1.1h-1.1z M446.9 540.8h1.1v1.1h-1.1z M460.8 589.8h1.1v1.1h-1.1z M442.8 572.2h1.1v1.1h-1.1z M445.5 606.3h1.1v1.1h-1.1z M454.4 585.4h1.1v1.1h-1.1z M450.7 598h1.1v1.1h-1.1z M458.5 561.2h1.1v1.1h-1.1z M445.4 575h1.1v1.1h-1.1z M459.1 622.8h1.1v1.1h-1.1z M445.4 562.6h1.1v1.1h-1.1z M443.5 578.7h1.1v1.1h-1.1z M456.2 545.3h1.1v1.1h-1.1z M452.8 598.7h1.1v1.1h-1.1z M451.8 575.4h1.1v1.1h-1.1z M441.4 596.2h1.1v1.1h-1.1z M445.1 577h1.1v1.1h-1.1z M452.9 597h1.1v1.1h-1.1z M444 557.9h1.1v1.1h-1.1z M442.6 618.4h1.1v1.1h-1.1z M444.7 586.5h1.1v1.1h-1.1z M450.3 607.9h1.1v1.1h-1.1z M439.6 575h1.1v1.1h-1.1z M457.3 578.3h1.1v1.1h-1.1z M438.9 596.9h1.1v1.1h-1.1z M448.8 614.1h1.1v1.1h-1.1z M450.7 562.5h1.1v1.1h-1.1z M444.7 571.2h1.1v1.1h-1.1z M449 570.9h1.1v1.1h-1.1z M434.8 573.8h1.1v1.1h-1.1z M445.8 593.7h1.1v1.1h-1.1z M455.5 606.6h1.1v1.1h-1.1z M452 595.3h1.1v1.1h-1.1z M447.9 608.8h1.1v1.1h-1.1z M452.6 563.6h1.1v1.1h-1.1z M445.4 529.8h1.1v1.1h-1.1z M446.6 587.5h1.1v1.1h-1.1z M456.9 607.7h1.1v1.1h-1.1z M446.6 585.5h1.1v1.1h-1.1z M444.7 604.9h1.1v1.1h-1.1z M456.4 574.8h1.1v1.1h-1.1z M468.3 594.4h1.1v1.1h-1.1z M433.5 579.4h1.1v1.1h-1.1z M461.5 595.8h1.1v1.1h-1.1z M463.6 579.5h1.1v1.1h-1.1z M445.2 618.3h1.1v1.1h-1.1z M438.8 574h1.1v1.1h-1.1z M456.7 593.6h1.1v1.1h-1.1z M439.6 595.3h1.1v1.1h-1.1z M437.1 568.5h1.1v1.1h-1.1z M437.4 551.8h1.1v1.1h-1.1z M447.6 552.1h1.1v1.1h-1.1z M455.7 591.2h1.1v1.1h-1.1z M444.1 582.8h1.1v1.1h-1.1z M455 582.7h1.1v1.1h-1.1z M450.3 577.2h1.1v1.1h-1.1z M445.3 577.2h1.1v1.1h-1.1z M440.3 584h1.1v1.1h-1.1z M436.9 604h1.1v1.1h-1.1z M438.4 592.4h1.1v1.1h-1.1z M458.4 612.4h1.1v1.1h-1.1z M445.6 567.2h1.1v1.1h-1.1z M448.9 560.9h1.1v1.1h-1.1z M472.6 590.4h1.1v1.1h-1.1z M460.1 556h1.1v1.1h-1.1z M452.1 571.5h1.1v1.1h-1.1z M455.2 600.1h1.1v1.1h-1.1z M448.5 591.3h1.1v1.1h-1.1z M451.3 582.8h1.1v1.1h-1.1z M437.8 606.8h1.1v1.1h-1.1z M438.8 573.7h1.1v1.1h-1.1z M442.5 564.4h1.1v1.1h-1.1z M469.3 603.9h1.1v1.1h-1.1z M440.4 609.8h1.1v1.1h-1.1z M440.1 584.7h1.1v1.1h-1.1z M461.3 591.4h1.1v1.1h-1.1z M457.9 594.3h1.1v1.1h-1.1z M432.7 580.6h1.1v1.1h-1.1z M448.1 544.3h1.1v1.1h-1.1z M461.4 593.9h1.1v1.1h-1.1z M450.5 576.2h1.1v1.1h-1.1z M459.4 587.7h1.1v1.1h-1.1z M440.4 581.9h1.1v1.1h-1.1z M454.2 604h1.1v1.1h-1.1z M439.1 590.8h1.1v1.1h-1.1z M435 583.3h1.1v1.1h-1.1z M446.8 543.9h1.1v1.1h-1.1z M454.7 574.4h1.1v1.1h-1.1z M450.5 611.1h1.1v1.1h-1.1z M445.8 618h1.1v1.1h-1.1z M439.4 598.2h1.1v1.1h-1.1z M447.3 585.5h1.1v1.1h-1.1z M455 578.8h1.1v1.1h-1.1z M450 546.2h1.1v1.1h-1.1z M450.6 567.1h1.1v1.1h-1.1z M447 590.7h1.1v1.1h-1.1z M439.8 576h1.1v1.1h-1.1z M444.4 593.9h1.1v1.1h-1.1z M437.8 592h1.1v1.1h-1.1z M441.8 609.9h1.1v1.1h-1.1z M446.7 605.7h1.1v1.1h-1.1z M449 593.7h1.1v1.1h-1.1z M450.4 596.2h1.1v1.1h-1.1z M456.5 607.6h1.1v1.1h-1.1z M464.9 595.9h1.1v1.1h-1.1z M460.9 569.1h1.1v1.1h-1.1z M437.2 584.7h1.1v1.1h-1.1z M448.5 592.4h1.1v1.1h-1.1z M446.6 616h1.1v1.1h-1.1z M452.1 583.9h1.1v1.1h-1.1z M453.4 545.7h1.1v1.1h-1.1z M461.7 563.3h1.1v1.1h-1.1z M450.8 615.5h1.1v1.1h-1.1z M450.7 552.1h1.1v1.1h-1.1z M456.4 586.3h1.1v1.1h-1.1z M439.5 577.5h1.1v1.1h-1.1z M441.9 580.5h1.1v1.1h-1.1z M444.8 617.7h1.1v1.1h-1.1z M449.2 570.3h1.1v1.1h-1.1z M445.4 558.9h1.1v1.1h-1.1z M445.7 580.5h1.1v1.1h-1.1z M460.7 577.8h1.1v1.1h-1.1z M438.6 591.8h1.1v1.1h-1.1z M456.3 574.4h1.1v1.1h-1.1z M450.4 570.3h1.1v1.1h-1.1z M454.6 582.3h1.1v1.1h-1.1z M448.7 579.5h1.1v1.1h-1.1z M452.7 566.2h1.1v1.1h-1.1z M464.6 564.5h1.1v1.1h-1.1z M448 582.7h1.1v1.1h-1.1z M449.7 598.4h1.1v1.1h-1.1z M449.6 584.7h1.1v1.1h-1.1z M441.6 569.1h1.1v1.1h-1.1z M459.5 569.1h1.1v1.1h-1.1z M446.1 570.9h1.1v1.1h-1.1z M455.8 574.1h1.1v1.1h-1.1z M443 621.8h1.1v1.1h-1.1z M451.3 593.6h1.1v1.1h-1.1z M454.2 577h1.1v1.1h-1.1z M456.5 558.1h1.1v1.1h-1.1z M441.5 587.5h1.1v1.1h-1.1z M458.3 613.8h1.1v1.1h-1.1z M438 606h1.1v1.1h-1.1z M445.3 577.8h1.1v1.1h-1.1z M462.1 594.9h1.1v1.1h-1.1z M449.1 545.9h1.1v1.1h-1.1z M458.6 580.3h1.1v1.1h-1.1z M438.9 582.5h1.1v1.1h-1.1z M440.9 579.5h1.1v1.1h-1.1z M449.9 567.9h1.1v1.1h-1.1z M452.2 573.6h1.1v1.1h-1.1z M469.3 552.9h1.1v1.1h-1.1z M456.9 607.3h1.1v1.1h-1.1z M430.6 558.4h1.1v1.1h-1.1z M447.5 566.3h1.1v1.1h-1.1z M462.5 626h1.1v1.1h-1.1z M460.2 572.5h1.1v1.1h-1.1z M450.8 606.8h1.1v1.1h-1.1z M453.5 606.6h1.1v1.1h-1.1z M439.5 570.6h1.1v1.1h-1.1z M458.6 580.4h1.1v1.1h-1.1z M435.3 557.1h1.1v1.1h-1.1z M426.7 594.3h1.1v1.1h-1.1z M447.2 618.5h1.1v1.1h-1.1z M466.5 596.8h1.1v1.1h-1.1z M440.1 555.1h1.1v1.1h-1.1z M448.7 626.6h1.1v1.1h-1.1z M451.9 580.5h1.1v1.1h-1.1z M462.1 603.2h1.1v1.1h-1.1z M447.2 585.2h1.1v1.1h-1.1z M452.6 582.2h1.1v1.1h-1.1z M451.9 608.4h1.1v1.1h-1.1z M443.5 618.6h1.1v1.1h-1.1z M465.5 592.9h1.1v1.1h-1.1z M453.6 607.9h1.1v1.1h-1.1z M443.3 566h1.1v1.1h-1.1z M452.6 579.9h1.1v1.1h-1.1z M437.2 578.5h1.1v1.1h-1.1z M454.1 568.5h1.1v1.1h-1.1z M438.3 599.6h1.1v1.1h-1.1z M435.3 576.3h1.1v1.1h-1.1z M480.4 571.2h1.1v1.1h-1.1z M447 584.3h1.1v1.1h-1.1z M439.2 571.9h1.1v1.1h-1.1z M410.2 623.7h1.1v1.1h-1.1z M429.6 634.6h1.1v1.1h-1.1z M412.9 627.1h1.1v1.1h-1.1z M449.5 610h1.1v1.1h-1.1z M441.1 612.5h1.1v1.1h-1.1z M439.4 634.6h1.1v1.1h-1.1z M433 626.1h1.1v1.1h-1.1z M424.5 626.1h1.1v1.1h-1.1z M446.9 622.7h1.1v1.1h-1.1z M431.3 626.8h1.1v1.1h-1.1z M443.1 612.3h1.1v1.1h-1.1z M433.7 619.1h1.1v1.1h-1.1z M439.1 631.4h1.1v1.1h-1.1z M436.8 633.2h1.1v1.1h-1.1z M420.8 621.1h1.1v1.1h-1.1z M420.9 624.4h1.1v1.1h-1.1z M434.2 622.6h1.1v1.1h-1.1z M418.1 623.5h1.1v1.1h-1.1z M427.6 628.3h1.1v1.1h-1.1z M429.7 632.3h1.1v1.1h-1.1z M435.8 610.7h1.1v1.1h-1.1z M430.9 613.8h1.1v1.1h-1.1z M444.9 634.3h1.1v1.1h-1.1z M432.7 627.2h1.1v1.1h-1.1z M415.3 607.9h1.1v1.1h-1.1z M426.2 622.2h1.1v1.1h-1.1z M414.4 624.7h1.1v1.1h-1.1z M436.9 628.6h1.1v1.1h-1.1z M452 629.8h1.1v1.1h-1.1z M428.5 624.8h1.1v1.1h-1.1z M440.4 616.5h1.1v1.1h-1.1z M449.3 630.5h1.1v1.1h-1.1z M430.2 619.4h1.1v1.1h-1.1z M479.7 630h1.1v1.1h-1.1z M444.6 636.9h1.1v1.1h-1.1z M445.1 625.5h1.1v1.1h-1.1z M441.7 617.5h1.1v1.1h-1.1z M441.8 613h1.1v1.1h-1.1z M438.3 628h1.1v1.1h-1.1z M413.9 637.8h1.1v1.1h-1.1z M418.9 631.5h1.1v1.1h-1.1z M426.6 626.3h1.1v1.1h-1.1z M425 641.9h1.1v1.1h-1.1z M445.8 637h1.1v1.1h-1.1z M442.8 629.1h1.1v1.1h-1.1z M435 622.4h1.1v1.1h-1.1z M440.7 625.3h1.1v1.1h-1.1z M431.3 614.3h1.1v1.1h-1.1z M429.4 628.5h1.1v1.1h-1.1z M427.4 626.6h1.1v1.1h-1.1z M431.5 616.7h1.1v1.1h-1.1z M422.1 618.8h1.1v1.1h-1.1z M429.7 622.3h1.1v1.1h-1.1z M447 616.4h1.1v1.1h-1.1z M408.1 629.1h1.1v1.1h-1.1z M427.7 623.3h1.1v1.1h-1.1z M464.6 634.7h1.1v1.1h-1.1z M440.5 631h1.1v1.1h-1.1z M434.8 631.1h1.1v1.1h-1.1z M425.8 619.1h1.1v1.1h-1.1z M427.6 635.5h1.1v1.1h-1.1z M452.5 619.8h1.1v1.1h-1.1z M447.6 623.1h1.1v1.1h-1.1z M446.6 621.9h1.1v1.1h-1.1z M445.1 623.4h1.1v1.1h-1.1z M429.8 624.1h1.1v1.1h-1.1z M435.3 620.1h1.1v1.1h-1.1z M416.5 636.4h1.1v1.1h-1.1z M428.6 611.2h1.1v1.1h-1.1z M405.5 604.1h1.1v1.1h-1.1z M425.9 634h1.1v1.1h-1.1z M413.3 621.9h1.1v1.1h-1.1z M410.8 632.2h1.1v1.1h-1.1z M437.9 626.6h1.1v1.1h-1.1z M450.1 636.1h1.1v1.1h-1.1z M446.2 620.1h1.1v1.1h-1.1z M417.1 616.8h1.1v1.1h-1.1z M411.8 637.3h1.1v1.1h-1.1z M431.1 625.2h1.1v1.1h-1.1z M435.9 638.8h1.1v1.1h-1.1z M426.5 632.8h1.1v1.1h-1.1z M437.2 623.2h1.1v1.1h-1.1z M409.8 630.9h1.1v1.1h-1.1z M424.3 621h1.1v1.1h-1.1z M436.3 625h1.1v1.1h-1.1z M447.4 619.5h1.1v1.1h-1.1z M435.5 626.3h1.1v1.1h-1.1z M433.8 629.2h1.1v1.1h-1.1z M430.4 633h1.1v1.1h-1.1z M424.7 613.9h1.1v1.1h-1.1z M433 632.8h1.1v1.1h-1.1z M427.1 619.8h1.1v1.1h-1.1z M429.2 625.5h1.1v1.1h-1.1z M431.3 626.5h1.1v1.1h-1.1z M412.3 635.1h1.1v1.1h-1.1z M440.7 618.1h1.1v1.1h-1.1z M450.5 627.5h1.1v1.1h-1.1z M451.7 615.8h1.1v1.1h-1.1z M454 624.6h1.1v1.1h-1.1z M408.1 629.7h1.1v1.1h-1.1z M429.8 617h1.1v1.1h-1.1z M430.9 610.3h1.1v1.1h-1.1z M440.7 622.7h1.1v1.1h-1.1z M430.2 634.5h1.1v1.1h-1.1z M433.9 619.5h1.1v1.1h-1.1z M421.8 623.9h1.1v1.1h-1.1z M446.7 620.1h1.1v1.1h-1.1z M420.7 630.9h1.1v1.1h-1.1z M434.2 624.1h1.1v1.1h-1.1z M459.3 615.5h1.1v1.1h-1.1z M436 611.5h1.1v1.1h-1.1z M429.8 628.5h1.1v1.1h-1.1z M447.4 615.1h1.1v1.1h-1.1z M443.8 629.9h1.1v1.1h-1.1z M432 642h1.1v1.1h-1.1z M433.5 617.9h1.1v1.1h-1.1z M438.8 610.9h1.1v1.1h-1.1z M452.8 631.4h1.1v1.1h-1.1z M428.6 628.7h1.1v1.1h-1.1z M440.1 638.2h1.1v1.1h-1.1z M425.9 615h1.1v1.1h-1.1z M408.4 622.2h1.1v1.1h-1.1z M414.1 623h1.1v1.1h-1.1z M438.6 621.1h1.1v1.1h-1.1z M421.8 632.9h1.1v1.1h-1.1z M431 626h1.1v1.1h-1.1z M445.3 614.9h1.1v1.1h-1.1z M422.1 642.3h1.1v1.1h-1.1z M431.5 616.8h1.1v1.1h-1.1z M430.3 620.2h1.1v1.1h-1.1z M418.3 621.3h1.1v1.1h-1.1z M433.2 624.2h1.1v1.1h-1.1z M440.1 611.8h1.1v1.1h-1.1z M415 630h1.1v1.1h-1.1z M428 633.1h1.1v1.1h-1.1z M437.2 614.1h1.1v1.1h-1.1z M440.1 617h1.1v1.1h-1.1z M436.7 633.1h1.1v1.1h-1.1z M459.6 623.8h1.1v1.1h-1.1z M442.1 626.5h1.1v1.1h-1.1z M443.3 605.9h1.1v1.1h-1.1z M428.7 626.4h1.1v1.1h-1.1z M439.3 618.9h1.1v1.1h-1.1z M443.7 632.2h1.1v1.1h-1.1z M434.4 622.7h1.1v1.1h-1.1z M429.1 625.3h1.1v1.1h-1.1z M448.1 635.1h1.1v1.1h-1.1z M427.7 617.6h1.1v1.1h-1.1z M423.7 631.4h1.1v1.1h-1.1z M436.2 626.4h1.1v1.1h-1.1z M439.4 627h1.1v1.1h-1.1z M432 616.8h1.1v1.1h-1.1z M425.9 625.2h1.1v1.1h-1.1z M438.3 621.6h1.1v1.1h-1.1z M428.4 634.1h1.1v1.1h-1.1z M427.8 625.9h1.1v1.1h-1.1z M429.6 618.1h1.1v1.1h-1.1z M414.8 620.4h1.1v1.1h-1.1z M423.4 630.4h1.1v1.1h-1.1z M419.4 621.3h1.1v1.1h-1.1z M441.6 623.5h1.1v1.1h-1.1z M439.6 630.3h1.1v1.1h-1.1z M413.1 621.3h1.1v1.1h-1.1z M421.7 634h1.1v1.1h-1.1z M432.1 627.8h1.1v1.1h-1.1z M454.3 621.7h1.1v1.1h-1.1z M434.4 627.2h1.1v1.1h-1.1z M430.2 633.3h1.1v1.1h-1.1z M443.5 631.5h1.1v1.1h-1.1z M434.1 621.8h1.1v1.1h-1.1z M429.1 621.7h1.1v1.1h-1.1z M413.4 626.9h1.1v1.1h-1.1z M443.4 624.2h1.1v1.1h-1.1z M427.4 624.5h1.1v1.1h-1.1z M436.2 626.6h1.1v1.1h-1.1z M455.5 618.2h1.1v1.1h-1.1z M437.9 629.2h1.1v1.1h-1.1z M434.4 622.6h1.1v1.1h-1.1z M421 620h1.1v1.1h-1.1z M442.1 634.6h1.1v1.1h-1.1z M425.5 627.6h1.1v1.1h-1.1z M439.8 631.4h1.1v1.1h-1.1z M436.4 627.4h1.1v1.1h-1.1z M444.4 616h1.1v1.1h-1.1z M434 611.7h1.1v1.1h-1.1z M409.5 618.4h1.1v1.1h-1.1z M414.7 627.9h1.1v1.1h-1.1z M445.5 622.1h1.1v1.1h-1.1z M431.8 622.6h1.1v1.1h-1.1z M430.3 625.2h1.1v1.1h-1.1z M437.7 621h1.1v1.1h-1.1z M423.9 620.6h1.1v1.1h-1.1z M443.2 621.3h1.1v1.1h-1.1z M451 622.5h1.1v1.1h-1.1z M450 615.8h1.1v1.1h-1.1z M425 627.6h1.1v1.1h-1.1z M439.3 623.1h1.1v1.1h-1.1z M458.1 624.8h1.1v1.1h-1.1z M436.9 620.2h1.1v1.1h-1.1z M453.5 630.3h1.1v1.1h-1.1z M438.4 612.7h1.1v1.1h-1.1z M437.8 621h1.1v1.1h-1.1z M438.2 630.7h1.1v1.1h-1.1z M424.4 625.8h1.1v1.1h-1.1z M444 625.4h1.1v1.1h-1.1z M429.4 616.8h1.1v1.1h-1.1z M425.3 615.3h1.1v1.1h-1.1z M445.3 625h1.1v1.1h-1.1z M418.7 624.2h1.1v1.1h-1.1z M417.8 601.1h1.1v1.1h-1.1z M448 632.5h1.1v1.1h-1.1z M415.6 619.2h1.1v1.1h-1.1z M435.9 621.5h1.1v1.1h-1.1z M423.1 620.6h1.1v1.1h-1.1z M430.5 620.3h1.1v1.1h-1.1z M435.9 622.6h1.1v1.1h-1.1z M424.2 624.4h1.1v1.1h-1.1z M413.4 634.4h1.1v1.1h-1.1z M412.4 623.6h1.1v1.1h-1.1z M437.4 627.1h1.1v1.1h-1.1z M436.5 633.1h1.1v1.1h-1.1z M419.8 623.7h1.1v1.1h-1.1z M435.1 620.7h1.1v1.1h-1.1z M426.2 633.2h1.1v1.1h-1.1z M424.8 620.8h1.1v1.1h-1.1z M430 622.7h1.1v1.1h-1.1z M435.3 622.7h1.1v1.1h-1.1z M437.8 625.1h1.1v1.1h-1.1z M439.1 633.8h1.1v1.1h-1.1z M423.2 635.7h1.1v1.1h-1.1z M423.2 618.2h1.1v1.1h-1.1z M466.1 577.2h1.1v1.1h-1.1z M473.3 558.3h1.1v1.1h-1.1z M418.1 613.2h1.1v1.1h-1.1z M436.2 582.2h1.1v1.1h-1.1z M467.4 545.4h1.1v1.1h-1.1z M441.2 579.5h1.1v1.1h-1.1z M415.1 637.3h1.1v1.1h-1.1z M427.2 550.6h1.1v1.1h-1.1z M449.1 638.6h1.1v1.1h-1.1z M456.8 609.5h1.1v1.1h-1.1z M421.9 632.4h1.1v1.1h-1.1z M411.9 603.9h1.1v1.1h-1.1z M461.6 619.6h1.1v1.1h-1.1z M421.5 638.1h1.1v1.1h-1.1z M416.7 563h1.1v1.1h-1.1z M420.2 556.6h1.1v1.1h-1.1z M415.4 605h1.1v1.1h-1.1z M407.2 595.3h1.1v1.1h-1.1z M428.4 599.6h1.1v1.1h-1.1z M411.8 582.8h1.1v1.1h-1.1z M450.4 647.9h1.1v1.1h-1.1z M404.7 608.4h1.1v1.1h-1.1z M426 609.1h1.1v1.1h-1.1z M475.7 548h1.1v1.1h-1.1z M434.5 574h1.1v1.1h-1.1z M470.9 574.7h1.1v1.1h-1.1z M415.2 649.2h1.1v1.1h-1.1z M462 559.5h1.1v1.1h-1.1z M403.3 598h1.1v1.1h-1.1z M475.9 621.8h1.1v1.1h-1.1z M476.8 610.3h1.1v1.1h-1.1z M454.1 625h1.1v1.1h-1.1z M413 583h1.1v1.1h-1.1z M459.6 562.1h1.1v1.1h-1.1z M463.6 568.9h1.1v1.1h-1.1z M451 602.7h1.1v1.1h-1.1z M461.2 599.6h1.1v1.1h-1.1z M417.3 587.7h1.1v1.1h-1.1z M461.6 641.5h1.1v1.1h-1.1z M414.9 587.1h1.1v1.1h-1.1z M438.5 567.3h1.1v1.1h-1.1z M429.2 608.1h1.1v1.1h-1.1z M413.9 606.1h1.1v1.1h-1.1z M417.6 627.4h1.1v1.1h-1.1z M470.3 603.8h1.1v1.1h-1.1z M401.2 545.8h1.1v1.1h-1.1z M437.3 595.8h1.1v1.1h-1.1z M436.5 564.3h1.1v1.1h-1.1z M405.3 569.7h1.1v1.1h-1.1z M403 625.9h1.1v1.1h-1.1z M432.7 646.1h1.1v1.1h-1.1z M426.1 636.6h1.1v1.1h-1.1z M417.7 569.7h1.1v1.1h-1.1z M417.4 589.7h1.1v1.1h-1.1z M415.2 635.4h1.1v1.1h-1.1z M449.6 633.3h1.1v1.1h-1.1z M478.1 551.1h1.1v1.1h-1.1z M421.8 574.2h1.1v1.1h-1.1z M429.6 607.2h1.1v1.1h-1.1z" fill="#222"/>
<rect x="364.5" y="527.5" width="126.5" height="123.2" fill="none" stroke="#333" stroke-width="1.4"/>
<line x1="394" y1="527.5" x2="394" y2="650.7" stroke="#333" stroke-width="1.2"/>
<line x1="364.5" y1="617.8" x2="491" y2="617.8" stroke="#333" stroke-width="1.2"/>
<rect x="427.6" y="530.4" width="43.8" height="89.9" fill="none" stroke="#111" stroke-width="1.5"/>
<text x="447.9" y="544.8" font-size="16" font-weight="bold">24%</text>
<text x="364.7" y="540.8" font-size="10.4" font-weight="bold" fill="#111">R1</text>
<text x="394.9" y="540.8" font-size="10.4" font-weight="bold" fill="#111">R2</text>
<text x="364.7" y="633.8" font-size="10.4" font-weight="bold" fill="#111">R3</text>
<text x="394.9" y="633.8" font-size="10.4" font-weight="bold" fill="#111">R4</text>
<line x1="362" y1="638.34" x2="364.5" y2="638.34" stroke="#555" stroke-width="0.9"/><line x1="362" y1="631.11" x2="364.5" y2="631.11" stroke="#555" stroke-width="0.9"/><line x1="362" y1="625.98" x2="364.5" y2="625.98" stroke="#555" stroke-width="0.9"/><line x1="362" y1="622" x2="364.5" y2="622" stroke="#555" stroke-width="0.9"/><line x1="362" y1="618.74" x2="364.5" y2="618.74" stroke="#555" stroke-width="0.9"/><line x1="362" y1="615.99" x2="364.5" y2="615.99" stroke="#555" stroke-width="0.9"/><line x1="362" y1="613.61" x2="364.5" y2="613.61" stroke="#555" stroke-width="0.9"/><line x1="362" y1="611.51" x2="364.5" y2="611.51" stroke="#555" stroke-width="0.9"/><line x1="362" y1="597.27" x2="364.5" y2="597.27" stroke="#555" stroke-width="0.9"/><line x1="362" y1="590.04" x2="364.5" y2="590.04" stroke="#555" stroke-width="0.9"/><line x1="362" y1="584.91" x2="364.5" y2="584.91" stroke="#555" stroke-width="0.9"/><line x1="362" y1="580.93" x2="364.5" y2="580.93" stroke="#555" stroke-width="0.9"/><line x1="362" y1="577.68" x2="364.5" y2="577.68" stroke="#555" stroke-width="0.9"/><line x1="362" y1="574.93" x2="364.5" y2="574.93" stroke="#555" stroke-width="0.9"/><line x1="362" y1="572.55" x2="364.5" y2="572.55" stroke="#555" stroke-width="0.9"/><line x1="362" y1="570.45" x2="364.5" y2="570.45" stroke="#555" stroke-width="0.9"/><line x1="362" y1="556.2" x2="364.5" y2="556.2" stroke="#555" stroke-width="0.9"/><line x1="362" y1="548.97" x2="364.5" y2="548.97" stroke="#555" stroke-width="0.9"/><line x1="362" y1="543.84" x2="364.5" y2="543.84" stroke="#555" stroke-width="0.9"/><line x1="362" y1="539.86" x2="364.5" y2="539.86" stroke="#555" stroke-width="0.9"/><line x1="362" y1="536.61" x2="364.5" y2="536.61" stroke="#555" stroke-width="0.9"/><line x1="362" y1="533.86" x2="364.5" y2="533.86" stroke="#555" stroke-width="0.9"/><line x1="362" y1="531.48" x2="364.5" y2="531.48" stroke="#555" stroke-width="0.9"/><line x1="362" y1="529.38" x2="364.5" y2="529.38" stroke="#555" stroke-width="0.9"/>
<line x1="377.19" y1="650.7" x2="377.19" y2="653.2" stroke="#555" stroke-width="0.9"/><line x1="384.62" y1="650.7" x2="384.62" y2="653.2" stroke="#555" stroke-width="0.9"/><line x1="389.89" y1="650.7" x2="389.89" y2="653.2" stroke="#555" stroke-width="0.9"/><line x1="393.97" y1="650.7" x2="393.97" y2="653.2" stroke="#555" stroke-width="0.9"/><line x1="397.31" y1="650.7" x2="397.31" y2="653.2" stroke="#555" stroke-width="0.9"/><line x1="400.13" y1="650.7" x2="400.13" y2="653.2" stroke="#555" stroke-width="0.9"/><line x1="402.58" y1="650.7" x2="402.58" y2="653.2" stroke="#555" stroke-width="0.9"/><line x1="404.74" y1="650.7" x2="404.74" y2="653.2" stroke="#555" stroke-width="0.9"/><line x1="419.36" y1="650.7" x2="419.36" y2="653.2" stroke="#555" stroke-width="0.9"/><line x1="426.79" y1="650.7" x2="426.79" y2="653.2" stroke="#555" stroke-width="0.9"/><line x1="432.05" y1="650.7" x2="432.05" y2="653.2" stroke="#555" stroke-width="0.9"/><line x1="436.14" y1="650.7" x2="436.14" y2="653.2" stroke="#555" stroke-width="0.9"/><line x1="439.48" y1="650.7" x2="439.48" y2="653.2" stroke="#555" stroke-width="0.9"/><line x1="442.3" y1="650.7" x2="442.3" y2="653.2" stroke="#555" stroke-width="0.9"/><line x1="444.75" y1="650.7" x2="444.75" y2="653.2" stroke="#555" stroke-width="0.9"/><line x1="446.9" y1="650.7" x2="446.9" y2="653.2" stroke="#555" stroke-width="0.9"/><line x1="461.53" y1="650.7" x2="461.53" y2="653.2" stroke="#555" stroke-width="0.9"/><line x1="468.95" y1="650.7" x2="468.95" y2="653.2" stroke="#555" stroke-width="0.9"/><line x1="474.22" y1="650.7" x2="474.22" y2="653.2" stroke="#555" stroke-width="0.9"/><line x1="478.31" y1="650.7" x2="478.31" y2="653.2" stroke="#555" stroke-width="0.9"/><line x1="481.65" y1="650.7" x2="481.65" y2="653.2" stroke="#555" stroke-width="0.9"/><line x1="484.47" y1="650.7" x2="484.47" y2="653.2" stroke="#555" stroke-width="0.9"/><line x1="486.91" y1="650.7" x2="486.91" y2="653.2" stroke="#555" stroke-width="0.9"/><line x1="489.07" y1="650.7" x2="489.07" y2="653.2" stroke="#555" stroke-width="0.9"/>
<text x="344.69" y="623.10" font-size="8.2" font-weight="bold" textLength="11.23" lengthAdjust="spacingAndGlyphs">10</text>
<text x="355.36" y="620.20" font-size="6.4" font-weight="bold" textLength="3.28" lengthAdjust="spacingAndGlyphs">0</text>
<text x="344.69" y="592.30" font-size="8.2" font-weight="bold" textLength="11.23" lengthAdjust="spacingAndGlyphs">10</text>
<text x="355.24" y="589.40" font-size="6.4" font-weight="bold" textLength="3.31" lengthAdjust="spacingAndGlyphs">1</text>
<text x="344.69" y="561.50" font-size="8.2" font-weight="bold" textLength="11.23" lengthAdjust="spacingAndGlyphs">10</text>
<text x="355.40" y="558.60" font-size="6.4" font-weight="bold" textLength="3.24" lengthAdjust="spacingAndGlyphs">2</text>
<text x="344.69" y="530.70" font-size="8.2" font-weight="bold" textLength="11.23" lengthAdjust="spacingAndGlyphs">10</text>
<text x="355.46" y="527.80" font-size="6.4" font-weight="bold" textLength="3.15" lengthAdjust="spacingAndGlyphs">3</text>
<text x="391.53" y="660.90" font-size="8.2" font-weight="bold" textLength="11.01" lengthAdjust="spacingAndGlyphs">10</text>
<text x="402.38" y="657.90" font-size="6.4" font-weight="bold" textLength="3.40" lengthAdjust="spacingAndGlyphs">0</text>
<text x="423.16" y="660.90" font-size="8.2" font-weight="bold" textLength="11.01" lengthAdjust="spacingAndGlyphs">10</text>
<text x="433.88" y="657.90" font-size="6.4" font-weight="bold" textLength="3.43" lengthAdjust="spacingAndGlyphs">1</text>
<text x="454.78" y="660.90" font-size="8.2" font-weight="bold" textLength="11.01" lengthAdjust="spacingAndGlyphs">10</text>
<text x="465.66" y="657.90" font-size="6.4" font-weight="bold" textLength="3.36" lengthAdjust="spacingAndGlyphs">2</text>
<text x="478.01" y="660.90" font-size="8.2" font-weight="bold" textLength="11.01" lengthAdjust="spacingAndGlyphs">10</text>
<text x="488.95" y="657.90" font-size="6.4" font-weight="bold" textLength="3.26" lengthAdjust="spacingAndGlyphs">3</text>
<rect x="338.2" y="520" width="12.4" height="112" fill="#fff"/>
<text x="61.85" y="357.20" font-size="17" font-weight="bold" textLength="92.33" lengthAdjust="spacingAndGlyphs">BM control</text>
<text x="231.14" y="357.20" font-size="17" font-weight="bold" textLength="84.30" lengthAdjust="spacingAndGlyphs">BM DCNB</text>
<text x="384.9" y="350.7" font-size="17.2" font-weight="bold">BM H<tspan font-size="13.2" dy="3">2</tspan><tspan dy="-3">O</tspan><tspan font-size="13.2" dy="3">2</tspan></text>
<text x="37.28" y="507.20" font-size="16.4" font-weight="bold" textLength="36.22" lengthAdjust="spacingAndGlyphs">CD4</text>
<line x1="85.8" y1="502.8" x2="433" y2="502.8" stroke="#000" stroke-width="2.2"/>
<path d="M432.3 497.8 L442.5 502.8 L432.3 507.6 Z" fill="#000"/>
<text x="37.89" y="672.60" font-size="17.5" font-weight="bold" textLength="35.66" lengthAdjust="spacingAndGlyphs">CD8</text>
<line x1="85.3" y1="668" x2="432" y2="668" stroke="#000" stroke-width="2.2"/>
<path d="M431.5 662.8 L443 668 L431.5 673 Z" fill="#000"/>
<line x1="7.9" y1="372" x2="7.9" y2="597.5" stroke="#000" stroke-width="2"/>
<path d="M2.9 374.5 L7.9 364.2 L12.9 374.5 Z" fill="#000"/>
<text x="8.3" y="615.8" font-size="16" font-weight="bold" text-anchor="middle">B</text>
<text x="7.8" y="636.5" font-size="16" font-weight="bold" text-anchor="middle">rd</text>
<text x="8" y="657.3" font-size="16" font-weight="bold" text-anchor="middle">U</text>
<text x="232.93" y="711.90" font-size="38.5" font-weight="bold" textLength="26.46" lengthAdjust="spacingAndGlyphs">C</text>
<g transform="translate(25.3,0) rotate(-90)"><text x="-890.35" y="0.00" font-size="13.2" font-weight="bold" textLength="151.86" lengthAdjust="spacingAndGlyphs">Proliferating CD3 T cells</text></g>
<rect x="65.4" y="699.5" width="2" height="235.5" fill="#000"/>
<rect x="61.6" y="929" width="5" height="2" fill="#000"/>
<text x="46.75" y="934.20" font-size="11.8" font-weight="bold" textLength="7.61" lengthAdjust="spacingAndGlyphs">0</text>
<rect x="61.6" y="890.75" width="5" height="2" fill="#000"/>
<text x="37.91" y="895.95" font-size="11.8" font-weight="bold" textLength="16.52" lengthAdjust="spacingAndGlyphs">10</text>
<rect x="61.6" y="852.5" width="5" height="2" fill="#000"/>
<text x="38.29" y="857.70" font-size="11.8" font-weight="bold" textLength="16.12" lengthAdjust="spacingAndGlyphs">20</text>
<rect x="61.6" y="814.25" width="5" height="2" fill="#000"/>
<text x="38.44" y="819.45" font-size="11.8" font-weight="bold" textLength="15.97" lengthAdjust="spacingAndGlyphs">30</text>
<rect x="61.6" y="776" width="5" height="2" fill="#000"/>
<text x="38.59" y="781.20" font-size="11.8" font-weight="bold" textLength="15.82" lengthAdjust="spacingAndGlyphs">40</text>
<rect x="61.6" y="737.75" width="5" height="2" fill="#000"/>
<text x="38.37" y="742.95" font-size="11.8" font-weight="bold" textLength="16.04" lengthAdjust="spacingAndGlyphs">50</text>
<rect x="61.6" y="699.5" width="5" height="2" fill="#000"/>
<text x="38.29" y="704.70" font-size="11.8" font-weight="bold" textLength="16.12" lengthAdjust="spacingAndGlyphs">60</text>
<rect x="61.6" y="929" width="338" height="2" fill="#000"/>
<rect x="65.4" y="930" width="2" height="5" fill="#000"/>
<rect x="131.95" y="930" width="2" height="5" fill="#000"/>
<rect x="198.5" y="930" width="2" height="5" fill="#000"/>
<rect x="265.05" y="930" width="2" height="5" fill="#000"/>
<rect x="331.6" y="930" width="2" height="5" fill="#000"/>
<rect x="398.15" y="930" width="2" height="5" fill="#000"/>
<line x1="100.5" y1="734.92" x2="100.5" y2="719.62" stroke="#000" stroke-width="1.2"/>
<line x1="95.7" y1="719.62" x2="104.3" y2="719.62" stroke="#000" stroke-width="1.3"/>
<rect x="86.5" y="734.92" width="27" height="195.08" fill="#fff" stroke="#000" stroke-width="1.2"/>
<line x1="166.5" y1="769.35" x2="166.5" y2="750.23" stroke="#000" stroke-width="1.2"/>
<line x1="161.8" y1="750.23" x2="170.4" y2="750.23" stroke="#000" stroke-width="1.3"/>
<rect x="153.2" y="769.35" width="25.8" height="160.65" fill="url(#patC)" stroke="#000" stroke-width="1.2"/>
<line x1="232.5" y1="807.6" x2="232.5" y2="792.3" stroke="#000" stroke-width="1.2"/>
<line x1="228.35" y1="792.3" x2="236.95" y2="792.3" stroke="#000" stroke-width="1.3"/>
<rect x="219.5" y="807.6" width="26.3" height="122.4" fill="#c8c8c8" stroke="#000" stroke-width="1.2"/>
<line x1="298.5" y1="815.25" x2="298.5" y2="807.6" stroke="#000" stroke-width="1.2"/>
<line x1="294.5" y1="807.6" x2="303.1" y2="807.6" stroke="#000" stroke-width="1.3"/>
<rect x="285.8" y="815.25" width="26" height="114.75" fill="#888888" stroke="#000" stroke-width="1.2"/>
<line x1="365.5" y1="876.45" x2="365.5" y2="864.98" stroke="#000" stroke-width="1.2"/>
<line x1="360.7" y1="864.98" x2="369.3" y2="864.98" stroke="#000" stroke-width="1.3"/>
<rect x="351.8" y="876.45" width="26.4" height="53.55" fill="#353535" stroke="#000" stroke-width="1.2"/>
<text x="83.66" y="954.80" font-size="12" font-weight="bold" textLength="32.40" lengthAdjust="spacingAndGlyphs">None</text>
<text x="154.01" y="954.80" font-size="12" font-weight="bold" textLength="25.78" lengthAdjust="spacingAndGlyphs">1\16</text>
<text x="223.77" y="954.80" font-size="12" font-weight="bold" textLength="19.25" lengthAdjust="spacingAndGlyphs">1\8</text>
<text x="288.64" y="954.80" font-size="12" font-weight="bold" textLength="20.04" lengthAdjust="spacingAndGlyphs">1\4</text>
<text x="356.42" y="954.80" font-size="12" font-weight="bold" textLength="18.00" lengthAdjust="spacingAndGlyphs">1\1</text>
<rect x="435.9" y="773.9" width="49.2" height="103.5" fill="#fff" stroke="#777" stroke-width="1"/>
<rect x="440.5" y="780.4" width="7.6" height="7.6" fill="#fff" stroke="#000" stroke-width="1.1"/>
<text x="452.8" y="788.5" font-size="12">None</text>
<rect x="440.5" y="801.2" width="7.6" height="7.6" fill="url(#pat2)" stroke="#000" stroke-width="1.1"/>
<text x="452.8" y="809.3" font-size="12">1\16</text>
<rect x="440.5" y="822" width="7.6" height="7.6" fill="#c8c8c8" stroke="#000" stroke-width="1.1"/>
<text x="452.8" y="830.1" font-size="12">1\8</text>
<rect x="440.5" y="843.1" width="7.6" height="7.6" fill="#888888" stroke="#000" stroke-width="1.1"/>
<text x="452.8" y="851.2" font-size="12">1\4</text>
<rect x="440.5" y="863.9" width="7.6" height="7.6" fill="#353535" stroke="#000" stroke-width="1.1"/>
<text x="452.8" y="872" font-size="12">1\1</text>
</svg>
</body></html>
